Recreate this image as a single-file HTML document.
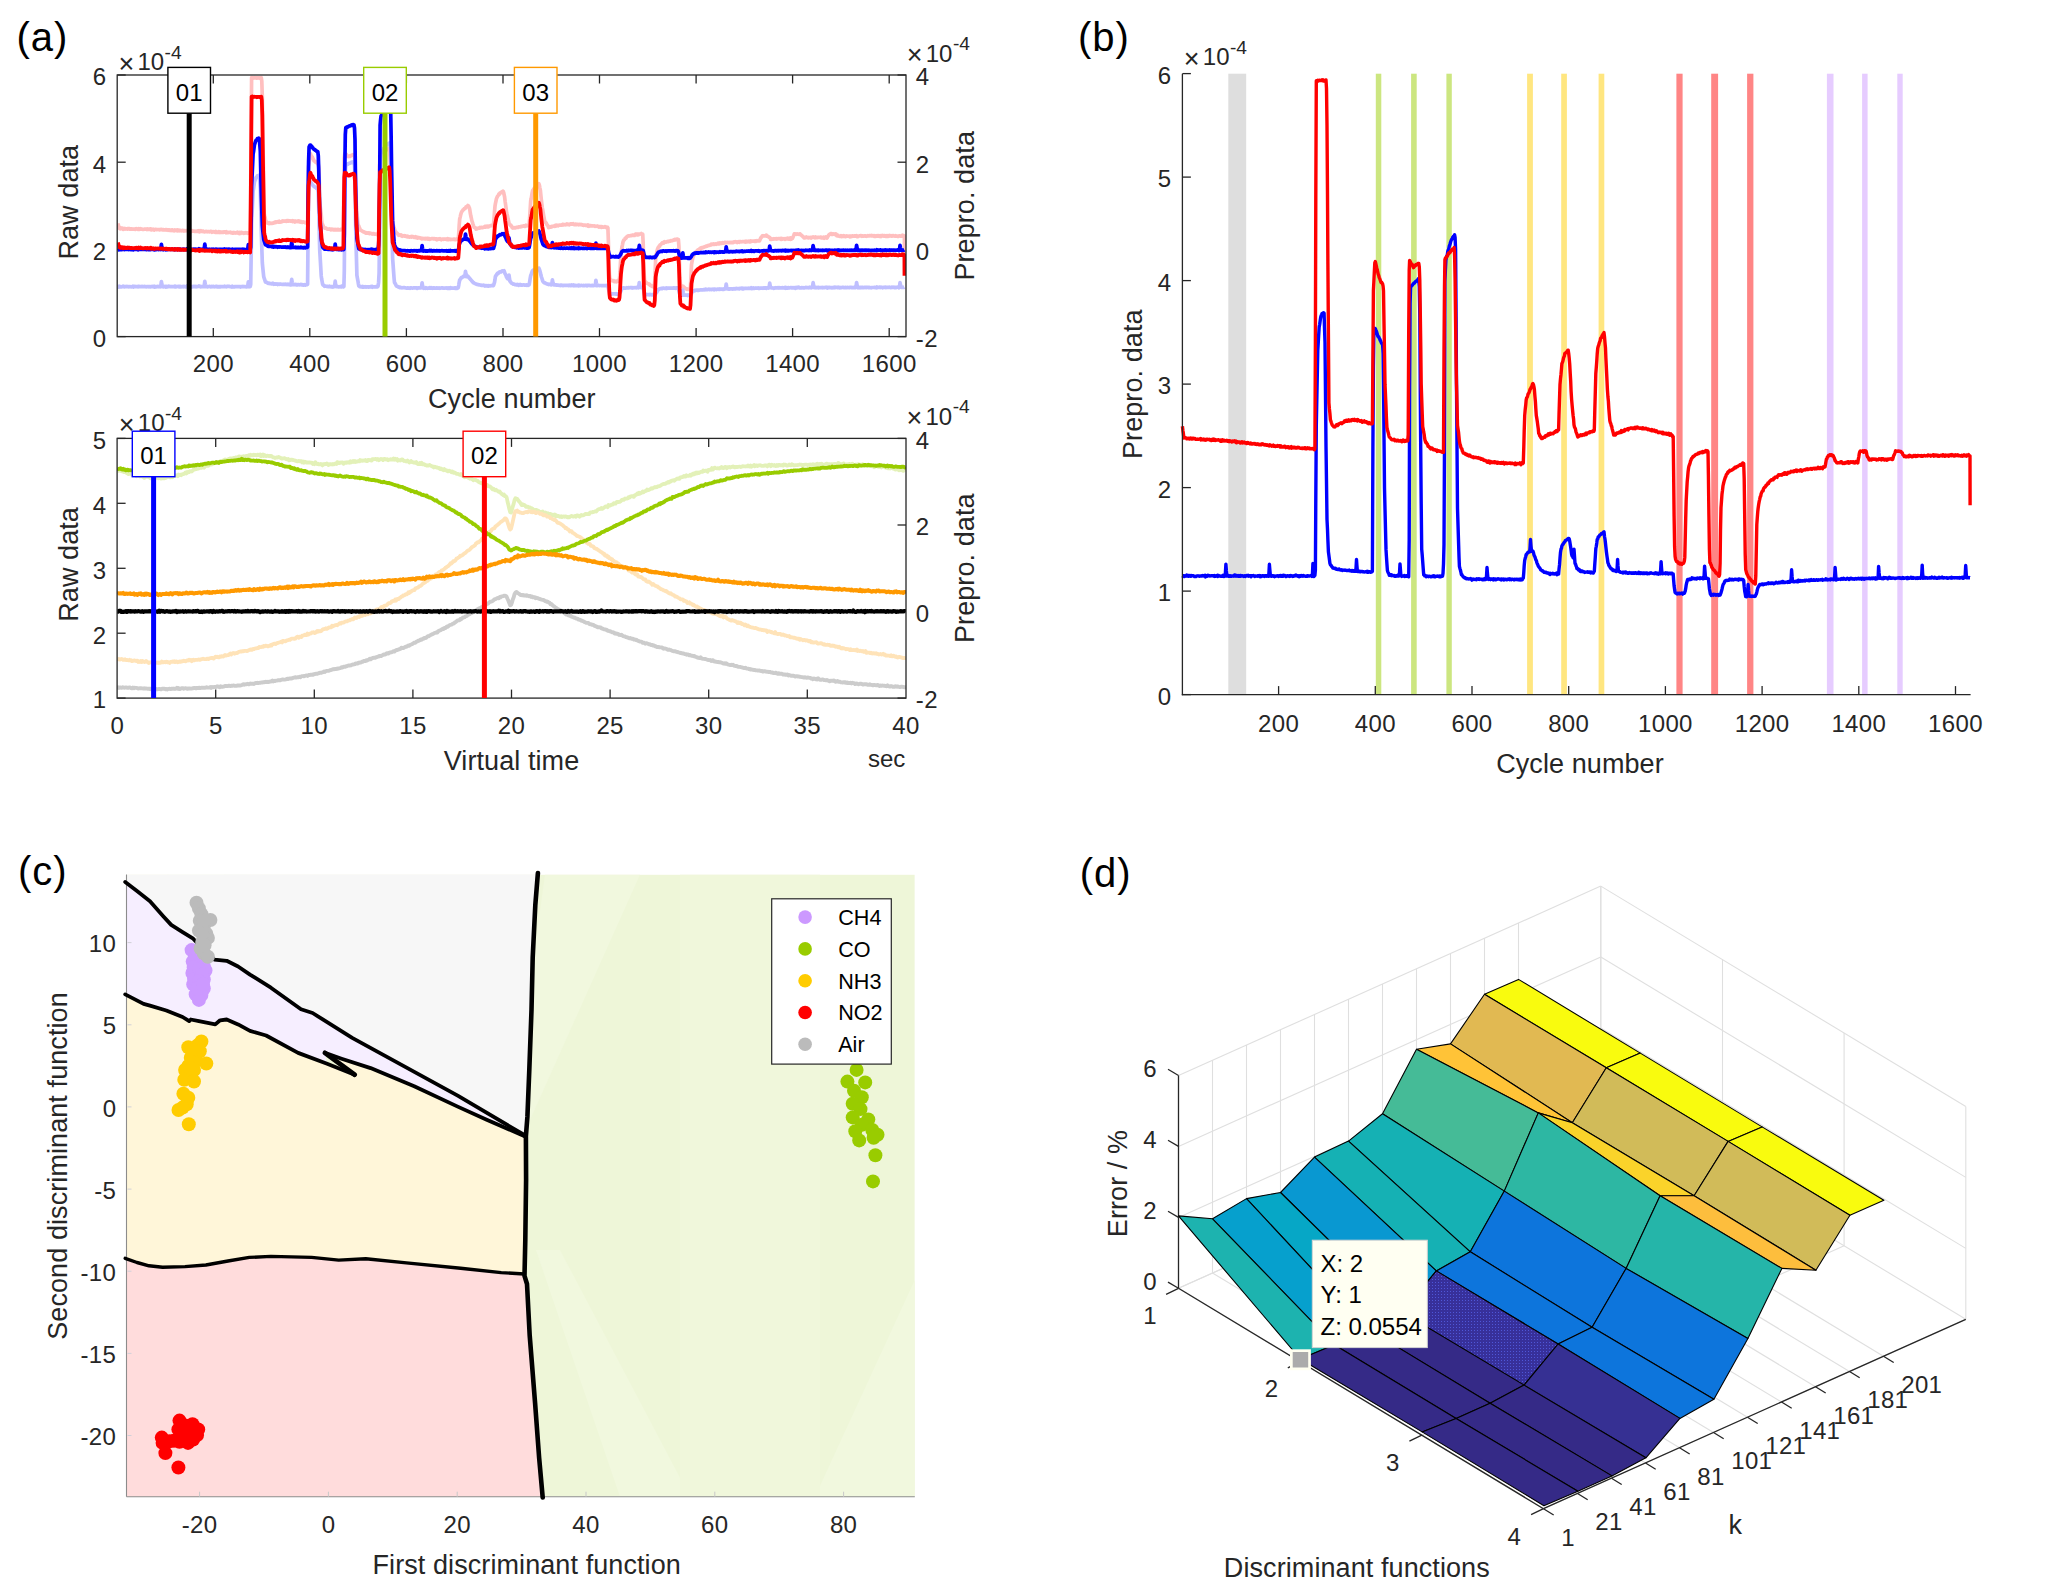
<!DOCTYPE html>
<html><head><meta charset="utf-8"><title>Figure</title>
<style>
html,body{margin:0;padding:0;background:#fff;}
svg{display:block;}
text{font-family:'Liberation Sans', sans-serif;}
</style></head><body>
<svg width="2067" height="1593" viewBox="0 0 2067 1593">
<rect width="2067" height="1593" fill="#ffffff"/>
<text x="16.5" y="51" font-size="40" text-anchor="start" fill="#000"  letter-spacing="1.0">(a)</text>
<line x1="213.3" y1="336.6" x2="213.3" y2="328.1" stroke="#262626" stroke-width="1.3" />
<line x1="213.3" y1="75" x2="213.3" y2="83.5" stroke="#262626" stroke-width="1.3" />
<line x1="309.8" y1="336.6" x2="309.8" y2="328.1" stroke="#262626" stroke-width="1.3" />
<line x1="309.8" y1="75" x2="309.8" y2="83.5" stroke="#262626" stroke-width="1.3" />
<line x1="406.4" y1="336.6" x2="406.4" y2="328.1" stroke="#262626" stroke-width="1.3" />
<line x1="406.4" y1="75" x2="406.4" y2="83.5" stroke="#262626" stroke-width="1.3" />
<line x1="503" y1="336.6" x2="503" y2="328.1" stroke="#262626" stroke-width="1.3" />
<line x1="503" y1="75" x2="503" y2="83.5" stroke="#262626" stroke-width="1.3" />
<line x1="599.5" y1="336.6" x2="599.5" y2="328.1" stroke="#262626" stroke-width="1.3" />
<line x1="599.5" y1="75" x2="599.5" y2="83.5" stroke="#262626" stroke-width="1.3" />
<line x1="696.1" y1="336.6" x2="696.1" y2="328.1" stroke="#262626" stroke-width="1.3" />
<line x1="696.1" y1="75" x2="696.1" y2="83.5" stroke="#262626" stroke-width="1.3" />
<line x1="792.6" y1="336.6" x2="792.6" y2="328.1" stroke="#262626" stroke-width="1.3" />
<line x1="792.6" y1="75" x2="792.6" y2="83.5" stroke="#262626" stroke-width="1.3" />
<line x1="889.2" y1="336.6" x2="889.2" y2="328.1" stroke="#262626" stroke-width="1.3" />
<line x1="889.2" y1="75" x2="889.2" y2="83.5" stroke="#262626" stroke-width="1.3" />
<line x1="117.2" y1="336.6" x2="125.7" y2="336.6" stroke="#262626" stroke-width="1.3" />
<line x1="906" y1="336.6" x2="897.5" y2="336.6" stroke="#262626" stroke-width="1.3" />
<line x1="117.2" y1="249.4" x2="125.7" y2="249.4" stroke="#262626" stroke-width="1.3" />
<line x1="906" y1="249.4" x2="897.5" y2="249.4" stroke="#262626" stroke-width="1.3" />
<line x1="117.2" y1="162.2" x2="125.7" y2="162.2" stroke="#262626" stroke-width="1.3" />
<line x1="906" y1="162.2" x2="897.5" y2="162.2" stroke="#262626" stroke-width="1.3" />
<line x1="117.2" y1="75" x2="125.7" y2="75" stroke="#262626" stroke-width="1.3" />
<line x1="906" y1="75" x2="897.5" y2="75" stroke="#262626" stroke-width="1.3" />
<clipPath id="clipA1"><rect x="117.2" y="75" width="788.8" height="261.6"/></clipPath>
<g clip-path="url(#clipA1)">
<polyline points="117.9,223.4 118.4,225.4 118.9,226.8 119.3,228.3 119.8,227.9 120.3,228.9 120.8,227.9 121.3,228.7 121.8,228.5 122.2,228.8 122.7,228.3 123.2,229.3 123.7,228.8 124.2,228.8 124.7,228.5 125.1,229 125.6,228.8 126.1,229 126.6,228.8 127.1,228.7 127.6,229.1 128,228.5 128.5,228.6 129,228.7 129.5,228.6 130,229.1 130.5,228.9 130.9,229.1 131.4,229 131.9,228.8 132.4,229.1 132.9,229.1 133.3,229.1 133.8,229.2 134.3,229.2 134.8,229 135.3,229.3 135.8,229 136.2,228.6 136.7,228.9 137.2,229.1 137.7,229.3 138.2,229.3 138.7,228.6 139.1,229.1 139.6,229.3 140.1,229.1 140.6,228.6 141.1,229.1 141.6,229 142,229.1 142.5,229.3 143,229.5 143.5,229.3 144,229.3 144.5,229.1 144.9,229 145.4,229 145.9,229.2 146.4,229.1 146.9,229.5 147.4,229 147.8,229.2 148.3,229.4 148.8,229.2 149.3,229.4 149.8,229.1 150.2,229 150.7,228.8 151.2,229.8 151.7,229.8 152.2,229.6 152.7,229.4 153.1,229.2 153.6,229.4 154.1,230 154.6,229.6 155.1,229.3 155.6,229.4 156,229.3 156.5,229.6 157,229.6 157.5,229.5 158,229.5 158.5,229.5 158.9,229.6 159.4,229.8 159.9,229.5 160.4,229.6 160.9,229.3 161.4,229.3 161.8,229.6 162.3,229.8 162.8,229.9 163.3,229.6 163.8,229.7 164.2,229.9 164.7,229.8 165.2,230 165.7,229.7 166.2,230 166.7,229.6 167.1,229.8 167.6,229.8 168.1,230.3 168.6,229.9 169.1,229.8 169.6,230.3 170,230.1 170.5,230.1 171,230.5 171.5,230 172,229.9 172.5,230.4 172.9,230.1 173.4,230.6 173.9,230.3 174.4,230.7 174.9,230 175.4,230.2 175.8,230.3 176.3,230.6 176.8,230 177.3,229.9 177.8,230.9 178.2,230.1 178.7,230 179.2,230.4 179.7,230.8 180.2,230.3 180.7,230.6 181.1,230.7 181.6,230.9 182.1,230.5 182.6,230.4 183.1,230.8 183.6,230.6 184,231 184.5,230.5 185,230.7 185.5,230.8 186,230.8 186.5,230.6 186.9,230.6 187.4,230.7 187.9,230.8 188.4,230.9 188.9,230.8 189.4,230.9 189.8,230.8 190.3,231.1 190.8,231.6 191.3,230.7 191.8,230.5 192.3,230.9 192.7,231.1 193.2,231.1 193.7,231.1 194.2,231.1 194.7,231.4 195.1,231.3 195.6,231.5 196.1,231.2 196.6,231.3 197.1,231.1 197.6,231.3 198,231 198.5,231.3 199,230.8 199.5,231.9 200,231.5 200.5,231.2 200.9,230.8 201.4,231.5 201.9,231.4 202.4,231.5 202.9,231.1 203.4,231.6 203.8,231.4 204.3,231.6 204.8,231.9 205.3,231.5 205.8,231.5 206.3,231.3 206.7,231.7 207.2,231.8 207.7,231.6 208.2,231.7 208.7,231.7 209.1,231.8 209.6,231.5 210.1,231.7 210.6,231.3 211.1,231.5 211.6,231.7 212,232.3 212.5,231.7 213,231.8 213.5,231.7 214,231.7 214.5,232.1 214.9,231.8 215.4,232.2 215.9,231.5 216.4,232.4 216.9,232.5 217.4,232.5 217.8,232.3 218.3,232.4 218.8,231.6 219.3,232.2 219.8,232.5 220.3,231.9 220.7,232.3 221.2,232.5 221.7,232 222.2,232.1 222.7,232.4 223.2,231.9 223.6,232.3 224.1,231.9 224.6,232.2 225.1,231.9 225.6,232.3 226,232.7 226.5,231.8 227,232.6 227.5,232.5 228,232.6 228.5,232.5 228.9,232.4 229.4,232.4 229.9,232.3 230.4,232.1 230.9,232.6 231.4,232.9 231.8,232.9 232.3,232.8 232.8,233.1 233.3,232.4 233.8,232.8 234.3,232.7 234.7,232.7 235.2,233.1 235.7,232.9 236.2,232.6 236.7,232.6 237.2,232.9 237.6,232.3 238.1,233.1 238.6,232.9 239.1,232.9 239.6,233.6 240,232.4 240.5,232.8 241,233.2 241.5,232.4 242,232.8 242.5,232.8 242.9,233.1 243.4,233 243.9,233.4 244.4,232.8 244.9,233.1 245.4,233 245.8,232.7 246.3,233 246.8,233 247.3,233 247.8,233.3 248.3,232.9 248.7,232.8 249.2,233 249.7,232.9 250.2,233.4 250.7,188.1 251.2,126.7 251.6,77.6 252.1,78 252.6,77.6 253.1,78.1 253.6,78 254,77.9 254.5,77.7 255,77.9 255.5,77.9 256,77.9 256.5,77.9 256.9,78.2 257.4,77.9 257.9,78 258.4,77.9 258.9,77.8 259.4,78.1 259.8,77.9 260.3,78 260.8,77.8 261.3,77.7 261.8,81.3 262.3,96.6 262.7,125.5 263.2,155.6 263.7,184.7 264.2,213.9 264.7,216 265.2,217.9 265.6,220.6 266.1,221.5 266.6,221.9 267.1,222.9 267.6,222.8 268.1,223.2 268.5,223 269,223.6 269.5,222.8 270,223.5 270.5,223.4 270.9,223.4 271.4,223.5 271.9,223.4 272.4,223.1 272.9,223.2 273.4,222.8 273.8,222.9 274.3,222.4 274.8,222.2 275.3,222.6 275.8,222 276.3,222.3 276.7,221.8 277.2,221.9 277.7,221.7 278.2,222.1 278.7,221.8 279.2,221.3 279.6,221.8 280.1,222.1 280.6,222 281.1,222 281.6,221.8 282.1,221.4 282.5,220.9 283,221.3 283.5,221.1 284,221.2 284.5,221.1 284.9,221.1 285.4,221.1 285.9,220.9 286.4,221.3 286.9,220.7 287.4,220.7 287.8,221 288.3,220.7 288.8,221.1 289.3,221 289.8,220.8 290.3,221 290.7,221.1 291.2,221.2 291.7,221.2 292.2,220.8 292.7,221.6 293.2,221 293.6,221.2 294.1,221 294.6,221.1 295.1,222 295.6,221.1 296.1,221.2 296.5,221.4 297,221.5 297.5,221.2 298,221.6 298.5,221 299,221.4 299.4,221.1 299.9,221.9 300.4,222.2 300.9,221.6 301.4,221.6 301.8,221.9 302.3,222.4 302.8,222.1 303.3,221.9 303.8,222.2 304.3,222.2 304.7,222.3 305.2,222.6 305.7,222.5 306.2,222.8 306.7,222 307.2,222.6 307.6,222.4 308.1,194.8 308.6,166.4 309.1,163.1 309.6,158.5 310.1,154.8 310.5,153.7 311,155.5 311.5,156.1 312,156.9 312.5,157.4 313,158.6 313.4,159.3 313.9,160.7 314.4,161.1 314.9,161.3 315.4,161.6 315.8,162.4 316.3,162.3 316.8,162.6 317.3,163.3 317.8,164.1 318.3,164.8 318.7,166.8 319.2,179.3 319.7,192.6 320.2,206.3 320.7,210.4 321.2,214.5 321.6,219.6 322.1,224.3 322.6,224.4 323.1,225.8 323.6,226.9 324.1,227.5 324.5,227.8 325,228.2 325.5,228 326,228.2 326.5,228.5 327,229 327.4,228.9 327.9,229.2 328.4,229.1 328.9,229 329.4,229.1 329.8,228.9 330.3,229.3 330.8,229.9 331.3,229.8 331.8,229.2 332.3,229.7 332.7,229.5 333.2,229.9 333.7,229.4 334.2,229.8 334.7,229.4 335.2,229.9 335.6,229.5 336.1,229.6 336.6,229.9 337.1,229.4 337.6,229.9 338.1,229.9 338.5,229.5 339,229.8 339.5,229.8 340,229.7 340.5,229.9 341,229.3 341.4,229.4 341.9,229.6 342.4,229.6 342.9,229.4 343.4,227.1 343.9,183.8 344.3,158.1 344.8,153.6 345.3,154.2 345.8,154.5 346.3,154.3 346.7,155.3 347.2,155.7 347.7,156.4 348.2,156.6 348.7,156.4 349.2,156.5 349.6,156 350.1,156.3 350.6,156 351.1,155.5 351.6,155.1 352.1,155.2 352.5,155 353,154.7 353.5,154.7 354,155.1 354.5,156.5 355,162 355.4,176.8 355.9,191.1 356.4,206.2 356.9,212.2 357.4,218.1 357.9,224.1 358.3,225 358.8,226 359.3,227.7 359.8,228.5 360.3,230 360.7,230.2 361.2,230.5 361.7,230.7 362.2,231.2 362.7,231.3 363.2,231.8 363.6,231.8 364.1,231.8 364.6,232.4 365.1,232.5 365.6,233 366.1,232.6 366.5,233 367,233.1 367.5,232.9 368,233.1 368.5,232.9 369,232.9 369.4,233.6 369.9,233.5 370.4,233.1 370.9,233.5 371.4,233.6 371.9,233.5 372.3,234 372.8,233.7 373.3,233.6 373.8,233.5 374.3,234.2 374.7,234.1 375.2,234 375.7,234.2 376.2,234.3 376.7,234.1 377.2,234.4 377.6,234.8 378.1,234.2 378.6,234.4 379.1,192.2 379.6,165.5 380.1,153.2 380.5,153.7 381,153.2 381.5,152.5 382,151.7 382.5,151.3 383,151.6 383.4,151.1 383.9,151.2 384.4,150.3 384.9,150.7 385.4,150.1 385.9,149.5 386.3,149.6 386.8,149 387.3,149.5 387.8,149 388.3,148.8 388.8,148.9 389.2,148.3 389.7,151.6 390.2,162.6 390.7,178.6 391.2,196.9 391.6,205.8 392.1,214.9 392.6,223.2 393.1,224.9 393.6,226.2 394.1,227.9 394.5,229 395,231.1 395.5,231.5 396,232.1 396.5,232.8 397,233.3 397.4,233.5 397.9,234.2 398.4,235.1 398.9,235.3 399.4,235.1 399.9,234.9 400.3,235.3 400.8,234.9 401.3,235.7 401.8,235.5 402.3,236.3 402.8,235.9 403.2,235.9 403.7,235.8 404.2,235.6 404.7,236.1 405.2,235.8 405.6,236.1 406.1,236.1 406.6,236.6 407.1,236.2 407.6,236.8 408.1,236.5 408.5,236.9 409,236.8 409.5,237.1 410,236.8 410.5,236.6 411,236.8 411.4,237.1 411.9,236.4 412.4,236.7 412.9,236.6 413.4,236.7 413.9,237.1 414.3,237.4 414.8,237.3 415.3,236.8 415.8,237.5 416.3,237.1 416.8,237.6 417.2,237.4 417.7,238.1 418.2,237.4 418.7,237.8 419.2,237.7 419.6,238 420.1,237.9 420.6,238.2 421.1,238.1 421.6,238.8 422.1,238.8 422.5,238.3 423,238.5 423.5,238.6 424,238.6 424.5,238.5 425,238.8 425.4,238.5 425.9,238.9 426.4,238.8 426.9,238.4 427.4,238.4 427.9,239 428.3,238.5 428.8,239 429.3,238.6 429.8,239.3 430.3,239.1 430.8,238.9 431.2,238.9 431.7,238.5 432.2,238.6 432.7,238.5 433.2,238.6 433.7,239 434.1,239 434.6,238.7 435.1,238.9 435.6,239 436.1,239.3 436.5,239 437,239.7 437.5,239.2 438,239.3 438.5,238.9 439,239.2 439.4,239.2 439.9,238.8 440.4,239.4 440.9,239.1 441.4,239.7 441.9,239.1 442.3,239.1 442.8,239 443.3,239.4 443.8,239.1 444.3,239.1 444.8,239.2 445.2,239.2 445.7,239.1 446.2,239.1 446.7,239.5 447.2,239.6 447.7,238.6 448.1,238.8 448.6,239.6 449.1,239.2 449.6,239.1 450.1,239.1 450.5,239.3 451,239.6 451.5,239.4 452,239.5 452.5,239.3 453,239.4 453.4,239.4 453.9,239.1 454.4,239 454.9,239.7 455.4,239.5 455.9,239.6 456.3,239.1 456.8,239.4 457.3,239 457.8,239.3 458.3,238.9 458.8,232.6 459.2,225.2 459.7,219 460.2,217.1 460.7,214.7 461.2,212.9 461.7,211.8 462.1,211.2 462.6,210.6 463.1,209.8 463.6,209.7 464.1,208.9 464.6,208.6 465,208.2 465.5,208.2 466,206.9 466.5,206.9 467,206.3 467.4,206.3 467.9,205.5 468.4,205.9 468.9,206.9 469.4,208 469.9,210.4 470.3,213.2 470.8,216 471.3,218 471.8,220.5 472.3,221.9 472.8,223.6 473.2,224.7 473.7,226.5 474.2,227.5 474.7,227.6 475.2,227.7 475.7,227.9 476.1,229.1 476.6,228.8 477.1,228.5 477.6,228.6 478.1,228.2 478.6,228.2 479,228 479.5,228.2 480,227.5 480.5,227.8 481,227.4 481.4,227.7 481.9,227.4 482.4,227.6 482.9,227.6 483.4,227.4 483.9,227.1 484.3,227.1 484.8,226.5 485.3,227.1 485.8,227 486.3,226.2 486.8,226.3 487.2,226.9 487.7,226.2 488.2,226.2 488.7,226.7 489.2,226.2 489.7,226 490.1,225.7 490.6,225.6 491.1,225.7 491.6,225.4 492.1,225.6 492.6,225.7 493,225.7 493.5,224.8 494,219.1 494.5,212 495,206.1 495.4,203.7 495.9,201.3 496.4,198.9 496.9,197.6 497.4,196.6 497.9,195.8 498.3,195.3 498.8,194.2 499.3,194.4 499.8,193.1 500.3,192.8 500.8,192.7 501.2,192.2 501.7,192.5 502.2,191.7 502.7,191.9 503.2,191.3 503.7,192.6 504.1,194.6 504.6,196.9 505.1,201.3 505.6,204.8 506.1,208.5 506.6,212.4 507,214.7 507.5,216.2 508,218.8 508.5,220.7 509,223.4 509.5,224.1 509.9,224.5 510.4,225.3 510.9,225.1 511.4,226.3 511.9,226.7 512.3,227.7 512.8,228.1 513.3,227.9 513.8,227.8 514.3,227.6 514.8,227.8 515.2,227.8 515.7,227.9 516.2,227.5 516.7,227.3 517.2,227.2 517.7,227.3 518.1,227.3 518.6,227 519.1,226.8 519.6,226.9 520.1,226.8 520.6,226.8 521,226.4 521.5,226.7 522,226.4 522.5,226.3 523,226.1 523.5,225.8 523.9,226 524.4,225.9 524.9,226.4 525.4,225.8 525.9,225.3 526.3,226 526.8,226 527.3,225.7 527.8,225.3 528.3,225.4 528.8,225.5 529.2,225 529.7,216.9 530.2,209.1 530.7,200.8 531.2,198.5 531.7,195.9 532.1,193.1 532.6,190.6 533.1,190.1 533.6,189.2 534.1,188.4 534.6,188.3 535,187.4 535.5,186.7 536,186.2 536.5,186 537,185.4 537.5,185.2 537.9,184.5 538.4,184.9 538.9,183.7 539.4,185.3 539.9,188.1 540.4,190.4 540.8,194.7 541.3,199.5 541.8,203.6 542.3,207.8 542.8,210.5 543.2,212.9 543.7,215.8 544.2,218.4 544.7,221.3 545.2,221.9 545.7,222.6 546.1,222.8 546.6,223.9 547.1,225 547.6,225.3 548.1,226.2 548.6,227.7 549,227 549.5,227.4 550,226.8 550.5,227.1 551,227.1 551.5,226.5 551.9,226.9 552.4,226.5 552.9,226.3 553.4,226.1 553.9,226 554.4,226.1 554.8,226.3 555.3,225.5 555.8,226 556.3,225.3 556.8,225.8 557.2,225.3 557.7,225.3 558.2,225.8 558.7,225.3 559.2,225.1 559.7,225.1 560.1,225.2 560.6,225 561.1,225.1 561.6,225.2 562.1,224.6 562.6,224.9 563,224.4 563.5,224.5 564,224.9 564.5,224.7 565,224.7 565.5,224.8 565.9,224.4 566.4,224.6 566.9,224 567.4,224.2 567.9,224.6 568.4,224.3 568.8,224.4 569.3,224.7 569.8,224 570.3,224 570.8,223.9 571.2,224.2 571.7,223.8 572.2,224.2 572.7,223.9 573.2,223.7 573.7,224.2 574.1,224.7 574.6,224.4 575.1,224.2 575.6,224.1 576.1,224.7 576.6,224.5 577,224.4 577.5,224.4 578,224.3 578.5,224.8 579,224.7 579.5,224.4 579.9,224.5 580.4,224.6 580.9,224.4 581.4,224.7 581.9,224.6 582.4,224.9 582.8,225.2 583.3,225.3 583.8,225 584.3,225.1 584.8,225.2 585.3,225 585.7,225.4 586.2,225.2 586.7,225.3 587.2,225.5 587.7,226 588.1,225 588.6,225.4 589.1,226.2 589.6,225.7 590.1,225.5 590.6,225.7 591,225.6 591.5,226 592,225.8 592.5,225.9 593,226 593.5,226 593.9,226 594.4,225.8 594.9,226.3 595.4,226.3 595.9,226.2 596.4,226.3 596.8,226.2 597.3,226.2 597.8,226.1 598.3,226.5 598.8,227.1 599.3,226.6 599.7,226.5 600.2,226.7 600.7,226.7 601.2,227.3 601.7,226.6 602.1,226.9 602.6,227.2 603.1,227.1 603.6,227.1 604.1,226.8 604.6,226.9 605,226.6 605.5,226.9 606,227.5 606.5,227.5 607,227.1 607.5,227.3 607.9,228 608.4,242.1 608.9,261.7 609.4,274.8 609.9,279.1 610.4,279.4 610.8,280 611.3,280.4 611.8,280.7 612.3,280.6 612.8,280.5 613.3,281.1 613.7,280.8 614.2,281.6 614.7,281.6 615.2,281.4 615.7,281.6 616.1,281.2 616.6,281.7 617.1,281.2 617.6,281.3 618.1,280.5 618.6,281.1 619,280.7 619.5,278.7 620,272 620.5,262.2 621,254.7 621.5,250.4 621.9,247.2 622.4,245.1 622.9,242.4 623.4,240.9 623.9,240 624.4,239.8 624.8,239.1 625.3,238.1 625.8,238.3 626.3,237.6 626.8,236.9 627.3,236.4 627.7,236.4 628.2,235.8 628.7,236 629.2,236 629.7,235.9 630.2,235.7 630.6,235.7 631.1,235.6 631.6,235.6 632.1,235.2 632.6,235.2 633,235.4 633.5,235 634,235 634.5,235.3 635,234.6 635.5,234.2 635.9,234 636.4,234.1 636.9,234.7 637.4,234.1 637.9,234.1 638.4,234.8 638.8,234 639.3,234 639.8,234.1 640.3,234 640.8,234 641.3,233.5 641.7,234 642.2,234.1 642.7,234.1 643.2,243.9 643.7,261.4 644.2,275 644.6,280.8 645.1,281.3 645.6,281.9 646.1,282.5 646.6,283.1 647,283.2 647.5,283.5 648,283.5 648.5,284 649,284.4 649.5,284.1 649.9,285.2 650.4,285.5 650.9,285.3 651.4,285.7 651.9,286.3 652.4,286.1 652.8,286.5 653.3,286.2 653.8,286.9 654.3,286.1 654.8,281.3 655.3,267.6 655.7,258 656.2,254.5 656.7,252.6 657.2,250.2 657.7,248.6 658.2,247.4 658.6,247.3 659.1,246.1 659.6,246.4 660.1,244.8 660.6,244.5 661,244.2 661.5,243.8 662,243.4 662.5,242.7 663,242.8 663.5,243.1 663.9,242.5 664.4,241.8 664.9,242.2 665.4,242.1 665.9,242.1 666.4,241.8 666.8,241.7 667.3,241.7 667.8,241.3 668.3,241.6 668.8,241.3 669.3,241 669.7,241.1 670.2,241.2 670.7,240.7 671.2,240.9 671.7,240.7 672.2,240.7 672.6,240.4 673.1,240.3 673.6,240.2 674.1,239.8 674.6,239.4 675.1,239.9 675.5,239.5 676,239.6 676.5,239.4 677,239 677.5,239.2 677.9,239.4 678.4,239.5 678.9,245.8 679.4,261.4 679.9,277.5 680.4,284.6 680.8,285.1 681.3,285.6 681.8,286.4 682.3,286.1 682.8,286.7 683.3,286.5 683.7,287.7 684.2,287.2 684.7,288 685.2,288.2 685.7,288.6 686.2,288.9 686.6,289.1 687.1,288.9 687.6,289.5 688.1,289.4 688.6,289.5 689.1,289.4 689.5,289.8 690,289.9 690.5,286.3 691,275.6 691.5,264.8 691.9,262.4 692.4,259.6 692.9,257.2 693.4,256 693.9,255.2 694.4,253.9 694.8,253.5 695.3,252.9 695.8,252.4 696.3,251.4 696.8,251.4 697.3,250.8 697.7,250.1 698.2,249.8 698.7,249.6 699.2,249.4 699.7,248.8 700.2,248.3 700.6,248.8 701.1,248.2 701.6,247.6 702.1,247.6 702.6,247.9 703.1,247.5 703.5,247.3 704,247.2 704.5,246.9 705,246.5 705.5,246.6 706,246.1 706.4,246.2 706.9,246.2 707.4,245.7 707.9,245.7 708.4,245.6 708.8,245.3 709.3,245.2 709.8,245.3 710.3,244.9 710.8,244.9 711.3,244.1 711.7,244.4 712.2,244.3 712.7,244.1 713.2,244.3 713.7,243.8 714.2,244.1 714.6,244.3 715.1,244.1 715.6,243.8 716.1,244.3 716.6,243.8 717.1,243.9 717.5,243.5 718,243.8 718.5,243.1 719,243.3 719.5,243.8 720,242.9 720.4,243.4 720.9,243.5 721.4,243.5 721.9,243 722.4,242.7 722.8,243.2 723.3,243.2 723.8,243.2 724.3,242.5 724.8,242.4 725.3,242.9 725.7,242.6 726.2,242.7 726.7,242.7 727.2,242.4 727.7,242.5 728.2,242.5 728.6,242.6 729.1,242.3 729.6,242.6 730.1,242.5 730.6,242.4 731.1,242.7 731.5,242.4 732,242.4 732.5,242.3 733,242.6 733.5,242.5 734,241.8 734.4,241.9 734.9,241.9 735.4,241.6 735.9,242 736.4,242.1 736.8,241.9 737.3,242.5 737.8,242.2 738.3,241.7 738.8,241.9 739.3,242.2 739.7,241.6 740.2,241.5 740.7,241.6 741.2,241.7 741.7,241.9 742.2,241.7 742.6,241.6 743.1,241.7 743.6,241.5 744.1,241.5 744.6,241.5 745.1,242.1 745.5,241.3 746,241.1 746.5,241.6 747,241.9 747.5,241.3 748,241.6 748.4,241.7 748.9,241.1 749.4,241.7 749.9,241.2 750.4,241.7 750.9,240.9 751.3,241.1 751.8,241.3 752.3,241.2 752.8,241.1 753.3,241 753.7,241 754.2,241 754.7,241.3 755.2,240.9 755.7,241.4 756.2,240.8 756.6,240.7 757.1,240.6 757.6,241 758.1,240.8 758.6,240.6 759.1,240.6 759.5,240.8 760,239.6 760.5,238.6 761,237.4 761.5,237.2 762,236.4 762.4,235.8 762.9,235.7 763.4,235.9 763.9,235.9 764.4,235.9 764.9,235.9 765.3,235.9 765.8,236 766.3,235.1 766.8,236.1 767.3,236.2 767.7,236.1 768.2,236.7 768.7,237 769.2,237.3 769.7,237.5 770.2,238.2 770.6,239.3 771.1,238.8 771.6,239.3 772.1,239.1 772.6,239.2 773.1,238.8 773.5,239.1 774,238.7 774.5,238.8 775,239 775.5,238.9 776,238.6 776.4,239 776.9,238.6 777.4,238.9 777.9,238.8 778.4,238.7 778.9,238.5 779.3,238.7 779.8,238.8 780.3,238.7 780.8,239.2 781.3,238.4 781.8,239.2 782.2,238.6 782.7,239 783.2,238.7 783.7,238.8 784.2,238.7 784.6,239 785.1,239.4 785.6,238.7 786.1,238.9 786.6,238.9 787.1,239 787.5,238.2 788,238.9 788.5,238.7 789,239.1 789.5,238.3 790,238.9 790.4,239.4 790.9,238 791.4,239 791.9,238.4 792.4,238.5 792.9,237.3 793.3,236.4 793.8,235.2 794.3,233.8 794.8,234.2 795.3,234.1 795.8,233.9 796.2,234.1 796.7,234.3 797.2,233.8 797.7,234.1 798.2,234.2 798.6,234.3 799.1,234.4 799.6,233.9 800.1,233.9 800.6,234.7 801.1,235 801.5,235.3 802,235.7 802.5,236.1 803,236.7 803.5,236.9 804,237.8 804.4,237.4 804.9,237.9 805.4,237.8 805.9,237.5 806.4,237 806.9,237.4 807.3,237.5 807.8,237.6 808.3,237.9 808.8,237.4 809.3,237.7 809.8,237.5 810.2,237.8 810.7,237.5 811.2,238 811.7,237.4 812.2,237.2 812.6,237.3 813.1,237 813.6,237.5 814.1,237.4 814.6,237.4 815.1,237.8 815.5,237 816,237.3 816.5,237.6 817,237.7 817.5,237.3 818,237.3 818.4,237.5 818.9,237.4 819.4,237.5 819.9,237.5 820.4,237.1 820.9,237.1 821.3,237.9 821.8,237.4 822.3,237.8 822.8,237.8 823.3,237.3 823.8,237.7 824.2,238.3 824.7,237.3 825.2,237.1 825.7,236.9 826.2,237.5 826.7,237 827.1,238.1 827.6,237 828.1,236 828.6,235.3 829.1,234.7 829.5,234.3 830,234.2 830.5,233.7 831,234 831.5,233.7 832,234.4 832.4,234.1 832.9,234.3 833.4,233.9 833.9,234.2 834.4,234.2 834.9,234.5 835.3,234.1 835.8,233.8 836.3,234.3 836.8,235.8 837.3,235.9 837.8,235.1 838.2,235.9 838.7,236.1 839.2,236 839.7,236.3 840.2,236.5 840.7,236.4 841.1,235.8 841.6,236.6 842.1,235.9 842.6,236.3 843.1,236.3 843.5,235.8 844,236.4 844.5,236 845,236.3 845.5,236.6 846,236.3 846.4,235.9 846.9,236.2 847.4,236 847.9,236.1 848.4,236.2 848.9,236.3 849.3,236.1 849.8,236.7 850.3,236.3 850.8,236.6 851.3,236.1 851.8,236 852.2,236.3 852.7,235.9 853.2,236 853.7,236 854.2,236.2 854.7,235.9 855.1,235.8 855.6,236.2 856.1,236.3 856.6,235.7 857.1,236.6 857.5,236.7 858,236.5 858.5,236 859,236 859.5,235.9 860,236 860.4,235.6 860.9,235.6 861.4,235.7 861.9,236.2 862.4,235.8 862.9,236.2 863.3,236.1 863.8,236.2 864.3,235.9 864.8,235.8 865.3,235.9 865.8,236.2 866.2,236.3 866.7,236.1 867.2,236.1 867.7,235.7 868.2,236 868.7,235.9 869.1,235.9 869.6,235.6 870.1,235.5 870.6,235.8 871.1,235.9 871.6,235.5 872,235.8 872.5,236 873,235.6 873.5,235.8 874,236.3 874.4,235.7 874.9,235.8 875.4,236.4 875.9,236.4 876.4,235.8 876.9,235.7 877.3,235.7 877.8,236.2 878.3,236 878.8,235.7 879.3,236.3 879.8,235.9 880.2,235.8 880.7,235.6 881.2,236.5 881.7,235.8 882.2,235.4 882.7,236 883.1,236 883.6,235.6 884.1,236.1 884.6,235.6 885.1,235.7 885.6,236.3 886,235.9 886.5,236.3 887,235.6 887.5,236.3 888,236.4 888.4,236.2 888.9,236.1 889.4,235.5 889.9,235.9 890.4,235.8 890.9,235.6 891.3,236.1 891.8,236 892.3,236.1 892.8,235.7 893.3,235.5 893.8,235.8 894.2,236 894.7,236 895.2,236.2 895.7,235.7 896.2,236.2 896.7,236 897.1,236.2 897.6,236.4 898.1,236.5 898.6,236.1 899.1,235.8 899.6,236 900,235.9 900.5,236.2 901,236.1 901.5,236.2 902,235.8 902.4,235.3 902.9,235.9 903.4,236.2 903.9,235.6 904.4,236.1 904.5,256.8" fill="none" stroke="#ffbfbf" stroke-width="3.7" stroke-linejoin="round" />
<polyline points="117.9,286.7 118.4,286.6 118.9,287 119.3,286.3 119.8,286.9 120.3,286.7 120.8,286.5 121.3,286.8 121.8,286.8 122.2,286.7 122.7,286.5 123.2,286.2 123.7,286.6 124.2,286.8 124.7,286.5 125.1,286.7 125.6,286.6 126.1,286.4 126.6,286.7 127.1,286.6 127.6,286.7 128,286.6 128.5,286.5 129,286.8 129.5,286.6 130,286.6 130.5,286.7 130.9,286.8 131.4,286.8 131.9,286.6 132.4,286.6 132.9,286.2 133.3,287 133.8,286.6 134.3,286.5 134.8,286.4 135.3,286.5 135.8,286.7 136.2,286.6 136.7,286.5 137.2,286.6 137.7,286.5 138.2,286.9 138.7,286.3 139.1,286.3 139.6,286.6 140.1,286.5 140.6,286.6 141.1,286.7 141.6,286.6 142,286.4 142.5,286.7 143,286.7 143.5,286.6 144,286.5 144.5,286.4 144.9,286.7 145.4,286.5 145.9,286.6 146.4,286.9 146.9,286.7 147.4,286.6 147.8,286.6 148.3,286.5 148.8,286.9 149.3,286.6 149.8,286.7 150.2,286.8 150.7,286.5 151.2,286.5 151.7,286.7 152.2,286.4 152.7,286.7 153.1,286.6 153.6,286.8 154.1,286.3 154.6,287.1 155.1,286.6 155.6,286.5 156,286.9 156.5,286.6 157,286.6 157.5,286.4 158,286.4 158.5,286.7 158.9,286.8 159.4,286.4 159.9,286.4 160.4,286.7 160.9,285.3 161.4,281.5 161.8,284.2 162.3,286.6 162.8,286.3 163.3,286.9 163.8,286.4 164.2,286.5 164.7,286.6 165.2,286.4 165.7,287 166.2,286.4 166.7,286.5 167.1,286.8 167.6,286.5 168.1,286.6 168.6,286.1 169.1,286.3 169.6,286.5 170,286.7 170.5,286.7 171,286.6 171.5,286.7 172,286.7 172.5,286.7 172.9,286.6 173.4,286.7 173.9,286.7 174.4,286.8 174.9,286.1 175.4,286.8 175.8,286.8 176.3,286.5 176.8,286.6 177.3,286.5 177.8,286.5 178.2,286.4 178.7,286.5 179.2,286.8 179.7,286.4 180.2,286.9 180.7,286.6 181.1,286.7 181.6,286.8 182.1,286.5 182.6,286.6 183.1,286.4 183.6,286.8 184,286.4 184.5,286.5 185,286.6 185.5,286.8 186,286.6 186.5,286.9 186.9,287 187.4,286 187.9,286.4 188.4,286.3 188.9,286.7 189.4,286.5 189.8,286.5 190.3,286.5 190.8,286.6 191.3,286.6 191.8,287 192.3,286.5 192.7,286.5 193.2,286.4 193.7,286.6 194.2,286.3 194.7,286.7 195.1,286.8 195.6,286.4 196.1,286.7 196.6,286.8 197.1,286.6 197.6,286.5 198,286.5 198.5,286.5 199,285.9 199.5,286.4 200,286.3 200.5,286.9 200.9,286.5 201.4,286.5 201.9,286.7 202.4,286.7 202.9,286.5 203.4,286.6 203.8,286.7 204.3,285.1 204.8,281.3 205.3,284.3 205.8,286.7 206.3,286.5 206.7,286.4 207.2,286.5 207.7,286.8 208.2,286.6 208.7,286.5 209.1,286.5 209.6,286.4 210.1,286.5 210.6,286.8 211.1,286.7 211.6,286.8 212,286.3 212.5,286.6 213,286.5 213.5,286.4 214,286.6 214.5,286.8 214.9,286.7 215.4,286.6 215.9,286.3 216.4,286.4 216.9,286.8 217.4,286.5 217.8,286.5 218.3,286.8 218.8,286.6 219.3,286.9 219.8,286.5 220.3,286.6 220.7,286.8 221.2,286.7 221.7,286.5 222.2,286.7 222.7,286.5 223.2,286.5 223.6,286.7 224.1,286.6 224.6,286.2 225.1,286.6 225.6,286.7 226,286.6 226.5,286.8 227,286.4 227.5,286.5 228,286.4 228.5,286.4 228.9,286.5 229.4,286.4 229.9,286.6 230.4,286.7 230.9,286.8 231.4,286.7 231.8,287 232.3,286.3 232.8,286.9 233.3,286.6 233.8,286.8 234.3,286.9 234.7,286.6 235.2,286.6 235.7,286.6 236.2,286.5 236.7,286.7 237.2,286.5 237.6,286.5 238.1,286.6 238.6,286.6 239.1,286.5 239.6,286.6 240,286.6 240.5,287 241,286.6 241.5,286.5 242,286.6 242.5,286.5 242.9,286.3 243.4,286.6 243.9,286.5 244.4,286.7 244.9,286.7 245.4,286.7 245.8,286.8 246.3,286.6 246.8,286.8 247.3,286.6 247.8,285.6 248.3,281.9 248.7,284.5 249.2,286.8 249.7,286.7 250.2,286.7 250.7,284.3 251.2,253.6 251.6,223 252.1,212.5 252.6,202.1 253.1,191.2 253.6,188.5 254,185.4 254.5,181.8 255,180.4 255.5,178.9 256,177.5 256.5,177.3 256.9,176.7 257.4,175.8 257.9,175.7 258.4,176 258.9,175.5 259.4,176 259.8,182.2 260.3,188.3 260.8,210.4 261.3,232 261.8,247.3 262.3,262.5 262.7,267 263.2,271.7 263.7,276.6 264.2,278.2 264.7,279.7 265.2,281.3 265.6,282.1 266.1,282.1 266.6,282.3 267.1,282.8 267.6,282.8 268.1,283.5 268.5,283.5 269,283.2 269.5,283.5 270,283.6 270.5,283.6 270.9,283.7 271.4,283.6 271.9,284 272.4,283.8 272.9,283.3 273.4,283.9 273.8,284.3 274.3,283.9 274.8,283.9 275.3,283.8 275.8,284.1 276.3,284.2 276.7,283.9 277.2,284 277.7,284.5 278.2,284 278.7,284.2 279.2,284 279.6,284.3 280.1,284.1 280.6,284.2 281.1,284.2 281.6,284.3 282.1,284.4 282.5,284.3 283,284.3 283.5,284.3 284,284.1 284.5,284.3 284.9,284.3 285.4,284.1 285.9,284.5 286.4,284.4 286.9,284.6 287.4,284.5 287.8,284.2 288.3,284.5 288.8,284.3 289.3,284.7 289.8,284.8 290.3,284.5 290.7,284.8 291.2,282.9 291.7,279.4 292.2,282.6 292.7,284.7 293.2,284.7 293.6,284.6 294.1,284.7 294.6,284.5 295.1,284.4 295.6,284.7 296.1,284.9 296.5,284.6 297,284.8 297.5,284.5 298,284.8 298.5,284.6 299,284.7 299.4,284.8 299.9,284.9 300.4,284.7 300.9,284.4 301.4,284.7 301.8,284.9 302.3,284.7 302.8,284.8 303.3,285.1 303.8,284.8 304.3,284.6 304.7,285 305.2,285.1 305.7,284.8 306.2,284.6 306.7,284.7 307.2,284.6 307.6,284.3 308.1,231.8 308.6,198.4 309.1,184 309.6,183.1 310.1,182.2 310.5,182.2 311,183.1 311.5,183.3 312,184.1 312.5,184.8 313,185.2 313.4,186.1 313.9,186.3 314.4,186.7 314.9,186.8 315.4,187.5 315.8,187.5 316.3,188.3 316.8,188.5 317.3,189 317.8,188.9 318.3,193.1 318.7,205.7 319.2,227.7 319.7,249.6 320.2,258.2 320.7,266.6 321.2,275.7 321.6,278.7 322.1,281.4 322.6,284.1 323.1,285 323.6,285.4 324.1,285.7 324.5,286.3 325,286.2 325.5,286.1 326,286.3 326.5,286.4 327,286.3 327.4,286.4 327.9,286.6 328.4,286.7 328.9,286.7 329.4,286.2 329.8,286.6 330.3,286.5 330.8,286.5 331.3,286.8 331.8,286.5 332.3,286.7 332.7,287 333.2,286.6 333.7,286.8 334.2,286.6 334.7,285.3 335.2,281.2 335.6,284.4 336.1,286.6 336.6,286.5 337.1,286.6 337.6,286.6 338.1,286.8 338.5,286.8 339,286.6 339.5,286.8 340,286.7 340.5,286.8 341,286.4 341.4,286.9 341.9,286.3 342.4,286.7 342.9,286.8 343.4,286.8 343.9,286.5 344.3,271 344.8,207.4 345.3,171.7 345.8,164.8 346.3,164.6 346.7,164.3 347.2,164 347.7,164.3 348.2,164.1 348.7,163.5 349.2,163.3 349.6,163 350.1,163.2 350.6,162.9 351.1,162.3 351.6,162.6 352.1,162.1 352.5,162.1 353,161.8 353.5,161.8 354,162.2 354.5,165.2 355,176.9 355.4,210.8 355.9,237 356.4,256.3 356.9,275.4 357.4,278.2 357.9,280.8 358.3,283.3 358.8,285.8 359.3,286.1 359.8,286.6 360.3,286.3 360.7,286.6 361.2,287 361.7,286.8 362.2,287 362.7,286.4 363.2,286.9 363.6,287.2 364.1,286.8 364.6,287 365.1,286.6 365.6,286.8 366.1,287.1 366.5,286.9 367,287 367.5,286.9 368,286.9 368.5,287.2 369,286.8 369.4,287 369.9,287 370.4,286.7 370.9,286.5 371.4,286.9 371.9,286.5 372.3,287.2 372.8,286.7 373.3,286.9 373.8,286.8 374.3,287 374.7,286.9 375.2,286.9 375.7,286.9 376.2,286.7 376.7,286.4 377.2,286.9 377.6,286.8 378.1,285.9 378.6,282.2 379.1,273.2 379.6,230.6 380.1,162.3 380.5,157.8 381,153.3 381.5,152.6 382,151.4 382.5,150.9 383,150.3 383.4,149.1 383.9,148.2 384.4,147.8 384.9,147.1 385.4,146.6 385.9,145.6 386.3,145.4 386.8,145 387.3,144.4 387.8,144.4 388.3,143.7 388.8,143.4 389.2,143.3 389.7,142.9 390.2,144.2 390.7,148.8 391.2,177.4 391.6,206 392.1,232.2 392.6,258.1 393.1,265 393.6,272 394.1,278.6 394.5,282.6 395,283.2 395.5,284.2 396,285.2 396.5,286 397,286.4 397.4,286.3 397.9,286.6 398.4,287 398.9,287.1 399.4,287.4 399.9,287.1 400.3,287.7 400.8,287.5 401.3,287.6 401.8,287.8 402.3,287.7 402.8,287.8 403.2,287.7 403.7,287.7 404.2,287.7 404.7,287.7 405.2,287.9 405.6,288 406.1,288 406.6,288.1 407.1,288.2 407.6,287.8 408.1,288 408.5,288 409,288.2 409.5,288.2 410,288.4 410.5,288 411,287.8 411.4,287.9 411.9,288 412.4,288.1 412.9,288 413.4,288 413.9,287.8 414.3,287.8 414.8,288 415.3,288 415.8,287.9 416.3,287.9 416.8,288 417.2,288.4 417.7,288.1 418.2,287.8 418.7,288 419.2,287.8 419.6,288 420.1,288 420.6,287.9 421.1,287.9 421.6,286.7 422.1,282.8 422.5,285.5 423,287.8 423.5,288.3 424,288.1 424.5,288.1 425,288.1 425.4,288.3 425.9,287.8 426.4,288.2 426.9,288 427.4,288.4 427.9,288.1 428.3,288.1 428.8,288.2 429.3,287.9 429.8,287.6 430.3,288.2 430.8,288.2 431.2,287.7 431.7,287.9 432.2,288.1 432.7,288.3 433.2,287.9 433.7,288 434.1,287.8 434.6,288.2 435.1,288.1 435.6,288.1 436.1,288.1 436.5,287.9 437,287.9 437.5,288.2 438,288.1 438.5,288.1 439,287.9 439.4,288.1 439.9,288.3 440.4,288.1 440.9,288.1 441.4,287.9 441.9,287.8 442.3,287.8 442.8,288 443.3,288.2 443.8,288 444.3,288.1 444.8,288.2 445.2,288 445.7,288 446.2,287.9 446.7,288.2 447.2,288.4 447.7,288 448.1,288.3 448.6,287.9 449.1,288.3 449.6,288.2 450.1,288.4 450.5,287.7 451,288.2 451.5,288.1 452,288.2 452.5,288.1 453,288 453.4,288.1 453.9,288.1 454.4,287.9 454.9,288.3 455.4,287.9 455.9,287.8 456.3,288.4 456.8,288.1 457.3,288.3 457.8,288.1 458.3,287.5 458.8,284.8 459.2,282.3 459.7,280 460.2,279.4 460.7,278.6 461.2,277.9 461.7,277.4 462.1,277.6 462.6,277 463.1,276.8 463.6,276.2 464.1,276.3 464.6,276.4 465,275.1 465.5,271.3 466,274.2 466.5,276.7 467,276.4 467.4,276.3 467.9,276.2 468.4,277 468.9,277.6 469.4,278.1 469.9,278.6 470.3,279.1 470.8,279.8 471.3,280.3 471.8,281.1 472.3,281.4 472.8,282.1 473.2,282.6 473.7,282.7 474.2,283 474.7,283.5 475.2,283.5 475.7,283.9 476.1,284 476.6,284.4 477.1,284.3 477.6,284.3 478.1,284.6 478.6,284.7 479,284.9 479.5,284.9 480,285 480.5,285 481,285.2 481.4,285.4 481.9,285.5 482.4,285.4 482.9,285.3 483.4,285.1 483.9,285.4 484.3,285.7 484.8,286 485.3,285.6 485.8,285.7 486.3,285.9 486.8,285.6 487.2,285.7 487.7,285.8 488.2,286.1 488.7,285.6 489.2,285.7 489.7,285.8 490.1,285.9 490.6,285.8 491.1,285.5 491.6,285.6 492.1,285.4 492.6,285.5 493,285.7 493.5,285.6 494,283.9 494.5,282.4 495,279.4 495.4,276.4 495.9,275.8 496.4,274.9 496.9,274.3 497.4,273.4 497.9,273.6 498.3,273.2 498.8,272.9 499.3,272.2 499.8,271.9 500.3,272 500.8,271.7 501.2,271.8 501.7,271.5 502.2,270.9 502.7,271 503.2,271 503.7,271.1 504.1,270.8 504.6,272.3 505.1,273.8 505.6,274.6 506.1,275.9 506.6,277.3 507,277.7 507.5,278.8 508,278.8 508.5,278.6 509,275.1 509.5,278.5 509.9,281.1 510.4,281.5 510.9,282.4 511.4,283 511.9,283.4 512.3,283.4 512.8,283.8 513.3,284.1 513.8,284.2 514.3,284.2 514.8,284.4 515.2,284.7 515.7,284.5 516.2,284.8 516.7,285 517.2,284.5 517.7,284.8 518.1,284.6 518.6,285.2 519.1,284.8 519.6,285 520.1,284.5 520.6,285 521,285.1 521.5,284.9 522,285 522.5,285.1 523,284.9 523.5,284.9 523.9,284.9 524.4,285 524.9,285.2 525.4,285.2 525.9,285 526.3,285.3 526.8,284.8 527.3,285.1 527.8,285.3 528.3,285 528.8,285 529.2,284.5 529.7,281.6 530.2,278.3 530.7,275.6 531.2,274.5 531.7,272.9 532.1,271.5 532.6,270.7 533.1,270.1 533.6,270.1 534.1,270 534.6,269.5 535,269.3 535.5,269.3 536,268.9 536.5,268.8 537,268.9 537.5,268.4 537.9,268.5 538.4,268.4 538.9,268.2 539.4,269.4 539.9,270.9 540.4,272.7 540.8,274.8 541.3,276.6 541.8,278 542.3,279.7 542.8,281.2 543.2,281.9 543.7,282.3 544.2,282.7 544.7,282.8 545.2,283 545.7,283.5 546.1,283.4 546.6,283.6 547.1,284 547.6,284.1 548.1,284.1 548.6,284.5 549,284.2 549.5,284.5 550,284.5 550.5,284.6 551,284.8 551.5,284.5 551.9,283.4 552.4,279.8 552.9,282.5 553.4,284.7 553.9,284.9 554.4,285 554.8,284.9 555.3,284.8 555.8,285 556.3,285.1 556.8,284.9 557.2,285.1 557.7,285 558.2,285.1 558.7,285.3 559.2,285.4 559.7,285.3 560.1,285.2 560.6,285.6 561.1,285.2 561.6,285.1 562.1,285.3 562.6,285.5 563,285.6 563.5,285.3 564,285.3 564.5,285.4 565,285.3 565.5,285.5 565.9,285.4 566.4,285.3 566.9,285.4 567.4,285.3 567.9,285.3 568.4,285.4 568.8,285.6 569.3,285.5 569.8,285.2 570.3,285.6 570.8,285.4 571.2,285.6 571.7,285 572.2,285.5 572.7,285.3 573.2,285.6 573.7,284.9 574.1,285.7 574.6,285.4 575.1,285.6 575.6,285.3 576.1,285.7 576.6,285.5 577,285.7 577.5,285.5 578,285.4 578.5,285.1 579,285.8 579.5,285.4 579.9,285.4 580.4,285.6 580.9,285.5 581.4,285.4 581.9,285.5 582.4,285.5 582.8,285.6 583.3,285.5 583.8,285.4 584.3,285.6 584.8,285.6 585.3,285.5 585.7,285.4 586.2,285.4 586.7,285.5 587.2,285.8 587.7,285.4 588.1,285.3 588.6,285.3 589.1,285.4 589.6,285.4 590.1,285.6 590.6,285.7 591,285.5 591.5,285.6 592,285.3 592.5,285.4 593,285.6 593.5,285.6 593.9,285.5 594.4,285.5 594.9,285.3 595.4,284.4 595.9,280.3 596.4,283.5 596.8,285.7 597.3,285.3 597.8,285.5 598.3,285.5 598.8,285.4 599.3,285.6 599.7,285.5 600.2,285.5 600.7,285.5 601.2,285.5 601.7,285.7 602.1,285.5 602.6,285.7 603.1,285.5 603.6,285.6 604.1,285.5 604.6,285.5 605,285.7 605.5,285.7 606,285.6 606.5,285.5 607,285.4 607.5,285.6 607.9,285.7 608.4,288.2 608.9,290.8 609.4,292 609.9,293.3 610.4,293.5 610.8,294.2 611.3,294 611.8,293.9 612.3,293.8 612.8,293.8 613.3,293.9 613.7,293.8 614.2,294 614.7,294 615.2,293.9 615.7,294.1 616.1,293.7 616.6,294.1 617.1,294.1 617.6,293.9 618.1,294.3 618.6,294 619,293.9 619.5,293.2 620,292.5 620.5,291.8 621,290.8 621.5,289.6 621.9,288.8 622.4,288.4 622.9,288.1 623.4,287.8 623.9,288 624.4,288.2 624.8,288.1 625.3,288.2 625.8,288 626.3,288 626.8,287.6 627.3,288 627.7,288 628.2,287.7 628.7,287.6 629.2,287.8 629.7,287.7 630.2,287.6 630.6,287.6 631.1,287.7 631.6,287.6 632.1,288 632.6,287.6 633,287.7 633.5,287.8 634,287.7 634.5,287.7 635,287.8 635.5,287.7 635.9,287.7 636.4,287.9 636.9,287.3 637.4,287.6 637.9,287.2 638.4,287.7 638.8,286.1 639.3,282.6 639.8,285.1 640.3,287.4 640.8,287.4 641.3,287.6 641.7,287.5 642.2,287.3 642.7,288 643.2,287.9 643.7,290.2 644.2,292.3 644.6,293.1 645.1,294.2 645.6,294.6 646.1,294.3 646.6,294.7 647,294.7 647.5,294.5 648,294.5 648.5,294.6 649,294.8 649.5,294.5 649.9,294.3 650.4,294.7 650.9,294.6 651.4,294.8 651.9,294.6 652.4,294.8 652.8,294.6 653.3,294.4 653.8,294.6 654.3,294.8 654.8,294.5 655.3,294.5 655.7,293.5 656.2,292.9 656.7,292.3 657.2,291.3 657.7,290.5 658.2,289.6 658.6,289.5 659.1,289.3 659.6,288.8 660.1,288.6 660.6,288.7 661,288.5 661.5,288.4 662,288.7 662.5,288.3 663,288 663.5,288.2 663.9,288.1 664.4,288.3 664.9,288.3 665.4,288.1 665.9,288.3 666.4,288.5 666.8,288 667.3,288.3 667.8,288.1 668.3,288.1 668.8,288.1 669.3,288 669.7,288 670.2,288.2 670.7,288 671.2,288.2 671.7,288 672.2,288.2 672.6,288.1 673.1,288.2 673.6,287.8 674.1,288 674.6,288.2 675.1,288.3 675.5,288.1 676,287.8 676.5,288.1 677,287.8 677.5,288 677.9,288.1 678.4,288.8 678.9,290.8 679.4,292.8 679.9,293.9 680.4,295 680.8,295.3 681.3,295.1 681.8,295.3 682.3,294 682.8,290 683.3,293.1 683.7,295 684.2,295.2 684.7,294.9 685.2,295.2 685.7,295.1 686.2,295 686.6,295.1 687.1,295.1 687.6,295.5 688.1,295 688.6,295.5 689.1,295.3 689.5,295.6 690,295.3 690.5,294.8 691,294.2 691.5,293.6 691.9,292.6 692.4,291.8 692.9,291.4 693.4,290.9 693.9,291 694.4,290.4 694.8,290.4 695.3,290.6 695.8,290.4 696.3,290 696.8,290.1 697.3,290.3 697.7,290 698.2,290 698.7,290.3 699.2,290.1 699.7,290 700.2,289.9 700.6,289.8 701.1,289.9 701.6,289.8 702.1,289.9 702.6,289.8 703.1,289.8 703.5,289.6 704,289.7 704.5,289.8 705,289.5 705.5,289.2 706,289.7 706.4,289.4 706.9,289.7 707.4,289.6 707.9,289.4 708.4,289.4 708.8,289.2 709.3,289.6 709.8,289.5 710.3,289.3 710.8,289.3 711.3,289.6 711.7,289.5 712.2,289.3 712.7,289.2 713.2,289.6 713.7,289.3 714.2,289.8 714.6,289.2 715.1,289 715.6,289.5 716.1,289.4 716.6,289.6 717.1,289.4 717.5,289.2 718,289.2 718.5,289.2 719,289.5 719.5,289.4 720,288.9 720.4,289.2 720.9,289.3 721.4,289.1 721.9,289.2 722.4,289.1 722.8,289.3 723.3,289.2 723.8,289.4 724.3,288.8 724.8,288.9 725.3,288.9 725.7,287.6 726.2,284 726.7,286.9 727.2,288.9 727.7,288.8 728.2,288.9 728.6,289 729.1,289.2 729.6,288.8 730.1,288.8 730.6,288.9 731.1,288.9 731.5,288.9 732,288.9 732.5,289.1 733,288.8 733.5,288.9 734,288.7 734.4,288.8 734.9,288.7 735.4,288.9 735.9,288.6 736.4,288.3 736.8,288.7 737.3,288.6 737.8,288.5 738.3,288.6 738.8,288.6 739.3,288.9 739.7,288.7 740.2,288.3 740.7,288.5 741.2,288.5 741.7,288.2 742.2,288.8 742.6,288.3 743.1,288.4 743.6,288.8 744.1,288.6 744.6,288.4 745.1,288.5 745.5,288.5 746,288.3 746.5,288.4 747,288.4 747.5,288.4 748,288.3 748.4,288.3 748.9,288 749.4,288.3 749.9,288.5 750.4,288.3 750.9,288.3 751.3,287.7 751.8,288.6 752.3,288.2 752.8,288.2 753.3,288 753.7,288.5 754.2,288.5 754.7,288.2 755.2,288.1 755.7,288.2 756.2,288.1 756.6,288.2 757.1,288 757.6,288.2 758.1,288.3 758.6,287.9 759.1,288.3 759.5,288.5 760,288.2 760.5,288.2 761,288.2 761.5,288.2 762,288.1 762.4,288.2 762.9,288.3 763.4,287.9 763.9,288.1 764.4,287.9 764.9,288.1 765.3,288 765.8,287.8 766.3,288.4 766.8,287.9 767.3,288 767.7,287.9 768.2,288.1 768.7,288 769.2,286.8 769.7,283.2 770.2,285.8 770.6,287.7 771.1,287.8 771.6,287.7 772.1,288 772.6,288 773.1,288 773.5,288.3 774,288 774.5,288.1 775,287.8 775.5,287.7 776,287.8 776.4,288 776.9,288 777.4,287.7 777.9,287.8 778.4,287.7 778.9,288 779.3,287.7 779.8,287.9 780.3,287.9 780.8,287.8 781.3,288 781.8,288 782.2,287.6 782.7,287.7 783.2,287.9 783.7,287.8 784.2,287.6 784.6,287.9 785.1,288.2 785.6,287.4 786.1,288.1 786.6,287.9 787.1,288.2 787.5,288.2 788,287.7 788.5,288 789,287.7 789.5,287.8 790,287.8 790.4,287.7 790.9,287.7 791.4,287.5 791.9,288 792.4,287.9 792.9,287.6 793.3,287.6 793.8,287.8 794.3,288 794.8,287.7 795.3,288.3 795.8,288 796.2,287.5 796.7,287.9 797.2,287.4 797.7,287.7 798.2,287.7 798.6,287.2 799.1,287.5 799.6,287.8 800.1,287.8 800.6,287.8 801.1,288 801.5,287.6 802,287.7 802.5,287.8 803,287.5 803.5,287.8 804,288 804.4,287.9 804.9,287.7 805.4,287.6 805.9,287.3 806.4,287.7 806.9,287.6 807.3,287.5 807.8,287.5 808.3,287.6 808.8,287.8 809.3,287.7 809.8,287.2 810.2,287.6 810.7,287.6 811.2,287.8 811.7,287.6 812.2,287.3 812.6,286.4 813.1,282.7 813.6,285.3 814.1,287.7 814.6,287.7 815.1,287.2 815.5,287.4 816,287.8 816.5,287.6 817,287.4 817.5,287.6 818,287.4 818.4,287.8 818.9,287.5 819.4,287.6 819.9,287.5 820.4,287.6 820.9,287.7 821.3,287.5 821.8,287.5 822.3,287.4 822.8,287.8 823.3,287.6 823.8,287.6 824.2,287.6 824.7,287.6 825.2,287.5 825.7,287.3 826.2,287.2 826.7,287.3 827.1,287.4 827.6,288.1 828.1,287.6 828.6,287.4 829.1,287.7 829.5,287.3 830,287.6 830.5,287.5 831,287.6 831.5,287.5 832,287.8 832.4,287.6 832.9,287.7 833.4,287.7 833.9,287.8 834.4,287.3 834.9,287.7 835.3,287.4 835.8,287.5 836.3,287.4 836.8,287.5 837.3,287.5 837.8,287.7 838.2,287.1 838.7,287.3 839.2,287.3 839.7,287.9 840.2,287.6 840.7,287.6 841.1,287.5 841.6,287.6 842.1,287.4 842.6,287.5 843.1,287.4 843.5,287.3 844,287.6 844.5,287.6 845,287.7 845.5,287.4 846,287.5 846.4,287.6 846.9,287.7 847.4,287.4 847.9,287.5 848.4,287.5 848.9,287.6 849.3,287.7 849.8,287.3 850.3,287.5 850.8,287.4 851.3,287.6 851.8,287.3 852.2,287.6 852.7,287.6 853.2,287.6 853.7,287.7 854.2,287.3 854.7,287.6 855.1,287.7 855.6,287.5 856.1,286.3 856.6,282.5 857.1,285.3 857.5,287.4 858,287.8 858.5,287.6 859,287.3 859.5,287.3 860,287.8 860.4,287.4 860.9,287.5 861.4,287.3 861.9,287.6 862.4,287.4 862.9,287.3 863.3,287.7 863.8,287.6 864.3,287.3 864.8,287.5 865.3,287.3 865.8,287.4 866.2,287.7 866.7,287.4 867.2,287.4 867.7,287.5 868.2,287.3 868.7,287.7 869.1,287.4 869.6,287.5 870.1,287.6 870.6,287.7 871.1,287.8 871.6,287.6 872,287.5 872.5,287.5 873,287.5 873.5,287.5 874,287.5 874.4,287.4 874.9,287.3 875.4,287.7 875.9,287.4 876.4,287.7 876.9,287 877.3,287.6 877.8,287.5 878.3,287.3 878.8,287.3 879.3,287.2 879.8,287.2 880.2,287.5 880.7,287.1 881.2,287.5 881.7,287.5 882.2,287.3 882.7,287.8 883.1,287.5 883.6,287.4 884.1,287.3 884.6,287.5 885.1,287.2 885.6,287.6 886,287.2 886.5,287.3 887,287.5 887.5,287.4 888,287.4 888.4,287.5 888.9,287.5 889.4,287.1 889.9,287.3 890.4,287.3 890.9,287.6 891.3,287.4 891.8,287.2 892.3,287.4 892.8,287.5 893.3,287.4 893.8,287.2 894.2,287.4 894.7,287.7 895.2,287.5 895.7,287.3 896.2,287.6 896.7,287.4 897.1,287.3 897.6,287 898.1,287.1 898.6,287.3 899.1,287.7 899.6,286.1 900,282.6 900.5,285.3 901,287.2 901.5,287.5 902,287.2 902.4,287.3 902.9,287.2 903.4,287.4 903.9,287.4 904.4,287.1" fill="none" stroke="#bfbfff" stroke-width="3.7" stroke-linejoin="round" />
<polyline points="117.9,249.5 118.4,249.4 118.9,249.8 119.3,249.1 119.8,249.7 120.3,249.5 120.8,249.3 121.3,249.6 121.8,249.6 122.2,249.5 122.7,249.3 123.2,249 123.7,249.4 124.2,249.6 124.7,249.3 125.1,249.5 125.6,249.4 126.1,249.2 126.6,249.5 127.1,249.4 127.6,249.5 128,249.4 128.5,249.3 129,249.6 129.5,249.4 130,249.4 130.5,249.5 130.9,249.6 131.4,249.6 131.9,249.4 132.4,249.4 132.9,249 133.3,249.8 133.8,249.4 134.3,249.3 134.8,249.2 135.3,249.3 135.8,249.5 136.2,249.4 136.7,249.3 137.2,249.4 137.7,249.3 138.2,249.7 138.7,249.1 139.1,249.1 139.6,249.4 140.1,249.3 140.6,249.4 141.1,249.5 141.6,249.4 142,249.2 142.5,249.5 143,249.5 143.5,249.4 144,249.3 144.5,249.2 144.9,249.5 145.4,249.3 145.9,249.4 146.4,249.7 146.9,249.5 147.4,249.4 147.8,249.4 148.3,249.3 148.8,249.7 149.3,249.4 149.8,249.5 150.2,249.6 150.7,249.3 151.2,249.3 151.7,249.5 152.2,249.2 152.7,249.5 153.1,249.4 153.6,249.6 154.1,249.1 154.6,249.9 155.1,249.4 155.6,249.3 156,249.7 156.5,249.4 157,249.4 157.5,249.2 158,249.2 158.5,249.5 158.9,249.6 159.4,249.2 159.9,249.2 160.4,249.5 160.9,248.1 161.4,244.3 161.8,247 162.3,249.4 162.8,249.1 163.3,249.7 163.8,249.2 164.2,249.3 164.7,249.4 165.2,249.2 165.7,249.8 166.2,249.2 166.7,249.3 167.1,249.6 167.6,249.3 168.1,249.4 168.6,248.9 169.1,249.1 169.6,249.3 170,249.5 170.5,249.5 171,249.4 171.5,249.5 172,249.5 172.5,249.5 172.9,249.4 173.4,249.5 173.9,249.5 174.4,249.6 174.9,248.9 175.4,249.6 175.8,249.6 176.3,249.3 176.8,249.4 177.3,249.3 177.8,249.3 178.2,249.2 178.7,249.3 179.2,249.6 179.7,249.2 180.2,249.7 180.7,249.4 181.1,249.5 181.6,249.6 182.1,249.3 182.6,249.4 183.1,249.2 183.6,249.6 184,249.2 184.5,249.3 185,249.4 185.5,249.6 186,249.4 186.5,249.7 186.9,249.8 187.4,248.8 187.9,249.2 188.4,249.1 188.9,249.5 189.4,249.3 189.8,249.3 190.3,249.3 190.8,249.4 191.3,249.4 191.8,249.8 192.3,249.3 192.7,249.3 193.2,249.2 193.7,249.4 194.2,249.1 194.7,249.5 195.1,249.6 195.6,249.2 196.1,249.5 196.6,249.6 197.1,249.4 197.6,249.3 198,249.3 198.5,249.3 199,248.7 199.5,249.2 200,249.1 200.5,249.7 200.9,249.3 201.4,249.3 201.9,249.5 202.4,249.5 202.9,249.3 203.4,249.4 203.8,249.5 204.3,247.9 204.8,244.1 205.3,247.1 205.8,249.5 206.3,249.3 206.7,249.2 207.2,249.3 207.7,249.6 208.2,249.4 208.7,249.3 209.1,249.3 209.6,249.2 210.1,249.3 210.6,249.6 211.1,249.5 211.6,249.6 212,249.1 212.5,249.4 213,249.3 213.5,249.2 214,249.4 214.5,249.6 214.9,249.5 215.4,249.4 215.9,249.1 216.4,249.2 216.9,249.6 217.4,249.3 217.8,249.3 218.3,249.6 218.8,249.4 219.3,249.7 219.8,249.3 220.3,249.4 220.7,249.6 221.2,249.5 221.7,249.3 222.2,249.5 222.7,249.3 223.2,249.3 223.6,249.5 224.1,249.4 224.6,249 225.1,249.4 225.6,249.5 226,249.4 226.5,249.6 227,249.2 227.5,249.3 228,249.2 228.5,249.2 228.9,249.3 229.4,249.2 229.9,249.4 230.4,249.5 230.9,249.6 231.4,249.5 231.8,249.8 232.3,249.1 232.8,249.7 233.3,249.4 233.8,249.6 234.3,249.7 234.7,249.4 235.2,249.4 235.7,249.4 236.2,249.3 236.7,249.5 237.2,249.3 237.6,249.3 238.1,249.4 238.6,249.4 239.1,249.3 239.6,249.4 240,249.4 240.5,249.8 241,249.4 241.5,249.3 242,249.4 242.5,249.3 242.9,249.1 243.4,249.4 243.9,249.3 244.4,249.5 244.9,249.5 245.4,249.5 245.8,249.6 246.3,249.4 246.8,249.6 247.3,249.4 247.8,248.4 248.3,244.7 248.7,247.3 249.2,249.6 249.7,249.5 250.2,249.5 250.7,247.1 251.2,216.4 251.6,185.8 252.1,175.3 252.6,164.9 253.1,154 253.6,151.3 254,148.2 254.5,144.6 255,143.2 255.5,141.7 256,140.3 256.5,140.1 256.9,139.5 257.4,138.6 257.9,138.5 258.4,138.8 258.9,138.3 259.4,138.8 259.8,145 260.3,151.1 260.8,173.2 261.3,194.8 261.8,210.1 262.3,225.3 262.7,229.8 263.2,234.5 263.7,239.4 264.2,241 264.7,242.5 265.2,244.1 265.6,244.9 266.1,244.9 266.6,245.1 267.1,245.6 267.6,245.6 268.1,246.3 268.5,246.3 269,246 269.5,246.3 270,246.4 270.5,246.4 270.9,246.5 271.4,246.4 271.9,246.8 272.4,246.6 272.9,246.1 273.4,246.7 273.8,247.1 274.3,246.7 274.8,246.7 275.3,246.6 275.8,246.9 276.3,247 276.7,246.7 277.2,246.8 277.7,247.3 278.2,246.8 278.7,247 279.2,246.8 279.6,247.1 280.1,246.9 280.6,247 281.1,247 281.6,247.1 282.1,247.2 282.5,247.1 283,247.1 283.5,247.1 284,246.9 284.5,247.1 284.9,247.1 285.4,246.9 285.9,247.3 286.4,247.2 286.9,247.4 287.4,247.3 287.8,247 288.3,247.3 288.8,247.1 289.3,247.5 289.8,247.6 290.3,247.3 290.7,247.6 291.2,245.7 291.7,242.2 292.2,245.4 292.7,247.5 293.2,247.5 293.6,247.4 294.1,247.5 294.6,247.3 295.1,247.2 295.6,247.5 296.1,247.7 296.5,247.4 297,247.6 297.5,247.3 298,247.6 298.5,247.4 299,247.5 299.4,247.6 299.9,247.7 300.4,247.5 300.9,247.2 301.4,247.5 301.8,247.7 302.3,247.5 302.8,247.6 303.3,247.9 303.8,247.6 304.3,247.4 304.7,247.8 305.2,247.9 305.7,247.6 306.2,247.4 306.7,247.5 307.2,247.4 307.6,247.1 308.1,194.6 308.6,161.2 309.1,146.8 309.6,145.9 310.1,145 310.5,145 311,145.9 311.5,146.1 312,146.9 312.5,147.6 313,148 313.4,148.9 313.9,149.1 314.4,149.5 314.9,149.6 315.4,150.3 315.8,150.3 316.3,151.1 316.8,151.3 317.3,151.8 317.8,151.7 318.3,155.9 318.7,168.5 319.2,190.5 319.7,212.4 320.2,221 320.7,229.4 321.2,238.5 321.6,241.5 322.1,244.2 322.6,246.9 323.1,247.8 323.6,248.2 324.1,248.5 324.5,249.1 325,249 325.5,248.9 326,249.1 326.5,249.2 327,249.1 327.4,249.2 327.9,249.4 328.4,249.5 328.9,249.5 329.4,249 329.8,249.4 330.3,249.3 330.8,249.3 331.3,249.6 331.8,249.3 332.3,249.5 332.7,249.8 333.2,249.4 333.7,249.6 334.2,249.4 334.7,248.1 335.2,244 335.6,247.2 336.1,249.4 336.6,249.3 337.1,249.4 337.6,249.4 338.1,249.6 338.5,249.6 339,249.4 339.5,249.6 340,249.5 340.5,249.6 341,249.2 341.4,249.7 341.9,249.1 342.4,249.5 342.9,249.6 343.4,249.6 343.9,249.3 344.3,233.8 344.8,170.2 345.3,134.5 345.8,127.6 346.3,127.4 346.7,127.1 347.2,126.8 347.7,127.1 348.2,126.9 348.7,126.3 349.2,126.1 349.6,125.8 350.1,126 350.6,125.7 351.1,125.1 351.6,125.4 352.1,124.9 352.5,124.9 353,124.6 353.5,124.6 354,125 354.5,128 355,139.7 355.4,173.6 355.9,199.8 356.4,219.1 356.9,238.2 357.4,241 357.9,243.6 358.3,246.1 358.8,248.6 359.3,248.9 359.8,249.4 360.3,249.1 360.7,249.4 361.2,249.8 361.7,249.6 362.2,249.8 362.7,249.2 363.2,249.7 363.6,250 364.1,249.6 364.6,249.8 365.1,249.4 365.6,249.6 366.1,249.9 366.5,249.7 367,249.8 367.5,249.7 368,249.7 368.5,250 369,249.6 369.4,249.8 369.9,249.8 370.4,249.5 370.9,249.3 371.4,249.7 371.9,249.3 372.3,250 372.8,249.5 373.3,249.7 373.8,249.6 374.3,249.8 374.7,249.7 375.2,249.7 375.7,249.7 376.2,249.5 376.7,249.2 377.2,249.7 377.6,249.6 378.1,248.7 378.6,245 379.1,236 379.6,193.4 380.1,125.1 380.5,120.6 381,116.1 381.5,115.4 382,114.2 382.5,113.7 383,113.1 383.4,111.9 383.9,111 384.4,110.6 384.9,109.9 385.4,109.4 385.9,108.4 386.3,108.2 386.8,107.8 387.3,107.2 387.8,107.2 388.3,106.5 388.8,106.2 389.2,106.1 389.7,105.7 390.2,107 390.7,111.6 391.2,140.2 391.6,168.8 392.1,195 392.6,220.9 393.1,227.8 393.6,234.8 394.1,241.4 394.5,245.4 395,246 395.5,247 396,248 396.5,248.8 397,249.2 397.4,249.1 397.9,249.4 398.4,249.8 398.9,249.9 399.4,250.2 399.9,249.9 400.3,250.5 400.8,250.3 401.3,250.4 401.8,250.6 402.3,250.5 402.8,250.6 403.2,250.5 403.7,250.5 404.2,250.5 404.7,250.5 405.2,250.7 405.6,250.8 406.1,250.8 406.6,250.9 407.1,251 407.6,250.6 408.1,250.8 408.5,250.8 409,251 409.5,251 410,251.2 410.5,250.8 411,250.6 411.4,250.7 411.9,250.8 412.4,250.9 412.9,250.8 413.4,250.8 413.9,250.6 414.3,250.6 414.8,250.8 415.3,250.8 415.8,250.7 416.3,250.7 416.8,250.8 417.2,251.2 417.7,250.9 418.2,250.6 418.7,250.8 419.2,250.6 419.6,250.8 420.1,250.8 420.6,250.7 421.1,250.7 421.6,249.5 422.1,245.6 422.5,248.3 423,250.6 423.5,251.1 424,250.9 424.5,250.9 425,250.9 425.4,251.1 425.9,250.6 426.4,251 426.9,250.8 427.4,251.2 427.9,250.9 428.3,250.9 428.8,251 429.3,250.7 429.8,250.4 430.3,251 430.8,251 431.2,250.5 431.7,250.7 432.2,250.9 432.7,251.1 433.2,250.7 433.7,250.8 434.1,250.6 434.6,251 435.1,250.9 435.6,250.9 436.1,250.9 436.5,250.7 437,250.7 437.5,251 438,250.9 438.5,250.9 439,250.7 439.4,250.9 439.9,251.1 440.4,250.9 440.9,250.9 441.4,250.7 441.9,250.6 442.3,250.6 442.8,250.8 443.3,251 443.8,250.8 444.3,250.9 444.8,251 445.2,250.8 445.7,250.8 446.2,250.7 446.7,251 447.2,251.2 447.7,250.8 448.1,251.1 448.6,250.7 449.1,251.1 449.6,251 450.1,251.2 450.5,250.5 451,251 451.5,250.9 452,251 452.5,250.9 453,250.8 453.4,250.9 453.9,250.9 454.4,250.7 454.9,251.1 455.4,250.7 455.9,250.6 456.3,251.2 456.8,250.9 457.3,251.1 457.8,250.9 458.3,250.3 458.8,247.6 459.2,245.1 459.7,242.8 460.2,242.2 460.7,241.4 461.2,240.7 461.7,240.2 462.1,240.4 462.6,239.8 463.1,239.6 463.6,239 464.1,239.1 464.6,239.2 465,237.9 465.5,234.1 466,237 466.5,239.5 467,239.2 467.4,239.1 467.9,239 468.4,239.8 468.9,240.4 469.4,240.9 469.9,241.4 470.3,241.9 470.8,242.6 471.3,243.1 471.8,243.9 472.3,244.2 472.8,244.9 473.2,245.4 473.7,245.5 474.2,245.8 474.7,246.3 475.2,246.3 475.7,246.7 476.1,246.8 476.6,247.2 477.1,247.1 477.6,247.1 478.1,247.4 478.6,247.5 479,247.7 479.5,247.7 480,247.8 480.5,247.8 481,248 481.4,248.2 481.9,248.3 482.4,248.2 482.9,248.1 483.4,247.9 483.9,248.2 484.3,248.5 484.8,248.8 485.3,248.4 485.8,248.5 486.3,248.7 486.8,248.4 487.2,248.5 487.7,248.6 488.2,248.9 488.7,248.4 489.2,248.5 489.7,248.6 490.1,248.7 490.6,248.6 491.1,248.3 491.6,248.4 492.1,248.2 492.6,248.3 493,248.5 493.5,248.4 494,246.7 494.5,245.2 495,242.2 495.4,239.2 495.9,238.6 496.4,237.7 496.9,237.1 497.4,236.2 497.9,236.4 498.3,236 498.8,235.7 499.3,235 499.8,234.7 500.3,234.8 500.8,234.5 501.2,234.6 501.7,234.3 502.2,233.7 502.7,233.8 503.2,233.8 503.7,233.9 504.1,233.6 504.6,235.1 505.1,236.6 505.6,237.4 506.1,238.7 506.6,240.1 507,240.5 507.5,241.6 508,241.6 508.5,241.4 509,237.9 509.5,241.3 509.9,243.9 510.4,244.3 510.9,245.2 511.4,245.8 511.9,246.2 512.3,246.2 512.8,246.6 513.3,246.9 513.8,247 514.3,247 514.8,247.2 515.2,247.5 515.7,247.3 516.2,247.6 516.7,247.8 517.2,247.3 517.7,247.6 518.1,247.4 518.6,248 519.1,247.6 519.6,247.8 520.1,247.3 520.6,247.8 521,247.9 521.5,247.7 522,247.8 522.5,247.9 523,247.7 523.5,247.7 523.9,247.7 524.4,247.8 524.9,248 525.4,248 525.9,247.8 526.3,248.1 526.8,247.6 527.3,247.9 527.8,248.1 528.3,247.8 528.8,247.8 529.2,247.3 529.7,244.4 530.2,241.1 530.7,238.4 531.2,237.3 531.7,235.7 532.1,234.3 532.6,233.5 533.1,232.9 533.6,232.9 534.1,232.8 534.6,232.3 535,232.1 535.5,232.1 536,231.7 536.5,231.6 537,231.7 537.5,231.2 537.9,231.3 538.4,231.2 538.9,231 539.4,232.2 539.9,233.7 540.4,235.5 540.8,237.6 541.3,239.4 541.8,240.8 542.3,242.5 542.8,244 543.2,244.7 543.7,245.1 544.2,245.5 544.7,245.6 545.2,245.8 545.7,246.3 546.1,246.2 546.6,246.4 547.1,246.8 547.6,246.9 548.1,246.9 548.6,247.3 549,247 549.5,247.3 550,247.3 550.5,247.4 551,247.6 551.5,247.3 551.9,246.2 552.4,242.6 552.9,245.3 553.4,247.5 553.9,247.7 554.4,247.8 554.8,247.7 555.3,247.6 555.8,247.8 556.3,247.9 556.8,247.7 557.2,247.9 557.7,247.8 558.2,247.9 558.7,248.1 559.2,248.2 559.7,248.1 560.1,248 560.6,248.4 561.1,248 561.6,247.9 562.1,248.1 562.6,248.3 563,248.4 563.5,248.1 564,248.1 564.5,248.2 565,248.1 565.5,248.3 565.9,248.2 566.4,248.1 566.9,248.2 567.4,248.1 567.9,248.1 568.4,248.2 568.8,248.4 569.3,248.3 569.8,248 570.3,248.4 570.8,248.2 571.2,248.4 571.7,247.8 572.2,248.3 572.7,248.1 573.2,248.4 573.7,247.7 574.1,248.5 574.6,248.2 575.1,248.4 575.6,248.1 576.1,248.5 576.6,248.3 577,248.5 577.5,248.3 578,248.2 578.5,247.9 579,248.6 579.5,248.2 579.9,248.2 580.4,248.4 580.9,248.3 581.4,248.2 581.9,248.3 582.4,248.3 582.8,248.4 583.3,248.3 583.8,248.2 584.3,248.4 584.8,248.4 585.3,248.3 585.7,248.2 586.2,248.2 586.7,248.3 587.2,248.6 587.7,248.2 588.1,248.1 588.6,248.1 589.1,248.2 589.6,248.2 590.1,248.4 590.6,248.5 591,248.3 591.5,248.4 592,248.1 592.5,248.2 593,248.4 593.5,248.4 593.9,248.3 594.4,248.3 594.9,248.1 595.4,247.2 595.9,243.1 596.4,246.3 596.8,248.5 597.3,248.1 597.8,248.3 598.3,248.3 598.8,248.2 599.3,248.4 599.7,248.3 600.2,248.3 600.7,248.3 601.2,248.3 601.7,248.5 602.1,248.3 602.6,248.5 603.1,248.3 603.6,248.4 604.1,248.3 604.6,248.3 605,248.5 605.5,248.5 606,248.4 606.5,248.3 607,248.2 607.5,248.4 607.9,248.5 608.4,251 608.9,253.6 609.4,254.8 609.9,256.1 610.4,256.3 610.8,257 611.3,256.8 611.8,256.7 612.3,256.6 612.8,256.6 613.3,256.7 613.7,256.6 614.2,256.8 614.7,256.8 615.2,256.7 615.7,256.9 616.1,256.5 616.6,256.9 617.1,256.9 617.6,256.7 618.1,257.1 618.6,256.8 619,256.7 619.5,256 620,255.3 620.5,254.6 621,253.6 621.5,252.4 621.9,251.6 622.4,251.2 622.9,250.9 623.4,250.6 623.9,250.8 624.4,251 624.8,250.9 625.3,251 625.8,250.8 626.3,250.8 626.8,250.4 627.3,250.8 627.7,250.8 628.2,250.5 628.7,250.4 629.2,250.6 629.7,250.5 630.2,250.4 630.6,250.4 631.1,250.5 631.6,250.4 632.1,250.8 632.6,250.4 633,250.5 633.5,250.6 634,250.5 634.5,250.5 635,250.6 635.5,250.5 635.9,250.5 636.4,250.7 636.9,250.1 637.4,250.4 637.9,250 638.4,250.5 638.8,248.9 639.3,245.4 639.8,247.9 640.3,250.2 640.8,250.2 641.3,250.4 641.7,250.3 642.2,250.1 642.7,250.8 643.2,250.7 643.7,253 644.2,255.1 644.6,255.9 645.1,257 645.6,257.4 646.1,257.1 646.6,257.5 647,257.5 647.5,257.3 648,257.3 648.5,257.4 649,257.6 649.5,257.3 649.9,257.1 650.4,257.5 650.9,257.4 651.4,257.6 651.9,257.4 652.4,257.6 652.8,257.4 653.3,257.2 653.8,257.4 654.3,257.6 654.8,257.3 655.3,257.3 655.7,256.3 656.2,255.7 656.7,255.1 657.2,254.1 657.7,253.3 658.2,252.4 658.6,252.3 659.1,252.1 659.6,251.6 660.1,251.4 660.6,251.5 661,251.3 661.5,251.2 662,251.5 662.5,251.1 663,250.8 663.5,251 663.9,250.9 664.4,251.1 664.9,251.1 665.4,250.9 665.9,251.1 666.4,251.3 666.8,250.8 667.3,251.1 667.8,250.9 668.3,250.9 668.8,250.9 669.3,250.8 669.7,250.8 670.2,251 670.7,250.8 671.2,251 671.7,250.8 672.2,251 672.6,250.9 673.1,251 673.6,250.6 674.1,250.8 674.6,251 675.1,251.1 675.5,250.9 676,250.6 676.5,250.9 677,250.6 677.5,250.8 677.9,250.9 678.4,251.6 678.9,253.6 679.4,255.6 679.9,256.7 680.4,257.8 680.8,258.1 681.3,257.9 681.8,258.1 682.3,256.8 682.8,252.8 683.3,255.9 683.7,257.8 684.2,258 684.7,257.7 685.2,258 685.7,257.9 686.2,257.8 686.6,257.9 687.1,257.9 687.6,258.3 688.1,257.8 688.6,258.3 689.1,258.1 689.5,258.4 690,258.1 690.5,257.6 691,257 691.5,256.4 691.9,255.4 692.4,254.6 692.9,254.2 693.4,253.7 693.9,253.8 694.4,253.2 694.8,253.2 695.3,253.4 695.8,253.2 696.3,252.8 696.8,252.9 697.3,253.1 697.7,252.8 698.2,252.8 698.7,253.1 699.2,252.9 699.7,252.8 700.2,252.7 700.6,252.6 701.1,252.7 701.6,252.6 702.1,252.7 702.6,252.6 703.1,252.6 703.5,252.4 704,252.5 704.5,252.6 705,252.3 705.5,252 706,252.5 706.4,252.2 706.9,252.5 707.4,252.4 707.9,252.2 708.4,252.2 708.8,252 709.3,252.4 709.8,252.3 710.3,252.1 710.8,252.1 711.3,252.4 711.7,252.3 712.2,252.1 712.7,252 713.2,252.4 713.7,252.1 714.2,252.6 714.6,252 715.1,251.8 715.6,252.3 716.1,252.2 716.6,252.4 717.1,252.2 717.5,252 718,252 718.5,252 719,252.3 719.5,252.2 720,251.7 720.4,252 720.9,252.1 721.4,251.9 721.9,252 722.4,251.9 722.8,252.1 723.3,252 723.8,252.2 724.3,251.6 724.8,251.7 725.3,251.7 725.7,250.4 726.2,246.8 726.7,249.7 727.2,251.7 727.7,251.6 728.2,251.7 728.6,251.8 729.1,252 729.6,251.6 730.1,251.6 730.6,251.7 731.1,251.7 731.5,251.7 732,251.7 732.5,251.9 733,251.6 733.5,251.7 734,251.5 734.4,251.6 734.9,251.5 735.4,251.7 735.9,251.4 736.4,251.1 736.8,251.5 737.3,251.4 737.8,251.3 738.3,251.4 738.8,251.4 739.3,251.7 739.7,251.5 740.2,251.1 740.7,251.3 741.2,251.3 741.7,251 742.2,251.6 742.6,251.1 743.1,251.2 743.6,251.6 744.1,251.4 744.6,251.2 745.1,251.3 745.5,251.3 746,251.1 746.5,251.2 747,251.2 747.5,251.2 748,251.1 748.4,251.1 748.9,250.8 749.4,251.1 749.9,251.3 750.4,251.1 750.9,251.1 751.3,250.5 751.8,251.4 752.3,251 752.8,251 753.3,250.8 753.7,251.3 754.2,251.3 754.7,251 755.2,250.9 755.7,251 756.2,250.9 756.6,251 757.1,250.8 757.6,251 758.1,251.1 758.6,250.7 759.1,251.1 759.5,251.3 760,251 760.5,251 761,251 761.5,251 762,250.9 762.4,251 762.9,251.1 763.4,250.7 763.9,250.9 764.4,250.7 764.9,250.9 765.3,250.8 765.8,250.6 766.3,251.2 766.8,250.7 767.3,250.8 767.7,250.7 768.2,250.9 768.7,250.8 769.2,249.6 769.7,246 770.2,248.6 770.6,250.5 771.1,250.6 771.6,250.5 772.1,250.8 772.6,250.8 773.1,250.8 773.5,251.1 774,250.8 774.5,250.9 775,250.6 775.5,250.5 776,250.6 776.4,250.8 776.9,250.8 777.4,250.5 777.9,250.6 778.4,250.5 778.9,250.8 779.3,250.5 779.8,250.7 780.3,250.7 780.8,250.6 781.3,250.8 781.8,250.8 782.2,250.4 782.7,250.5 783.2,250.7 783.7,250.6 784.2,250.4 784.6,250.7 785.1,251 785.6,250.2 786.1,250.9 786.6,250.7 787.1,251 787.5,251 788,250.5 788.5,250.8 789,250.5 789.5,250.6 790,250.6 790.4,250.5 790.9,250.5 791.4,250.3 791.9,250.8 792.4,250.7 792.9,250.4 793.3,250.4 793.8,250.6 794.3,250.8 794.8,250.5 795.3,251.1 795.8,250.8 796.2,250.3 796.7,250.7 797.2,250.2 797.7,250.5 798.2,250.5 798.6,250 799.1,250.3 799.6,250.6 800.1,250.6 800.6,250.6 801.1,250.8 801.5,250.4 802,250.5 802.5,250.6 803,250.3 803.5,250.6 804,250.8 804.4,250.7 804.9,250.5 805.4,250.4 805.9,250.1 806.4,250.5 806.9,250.4 807.3,250.3 807.8,250.3 808.3,250.4 808.8,250.6 809.3,250.5 809.8,250 810.2,250.4 810.7,250.4 811.2,250.6 811.7,250.4 812.2,250.1 812.6,249.2 813.1,245.5 813.6,248.1 814.1,250.5 814.6,250.5 815.1,250 815.5,250.2 816,250.6 816.5,250.4 817,250.2 817.5,250.4 818,250.2 818.4,250.6 818.9,250.3 819.4,250.4 819.9,250.3 820.4,250.4 820.9,250.5 821.3,250.3 821.8,250.3 822.3,250.2 822.8,250.6 823.3,250.4 823.8,250.4 824.2,250.4 824.7,250.4 825.2,250.3 825.7,250.1 826.2,250 826.7,250.1 827.1,250.2 827.6,250.9 828.1,250.4 828.6,250.2 829.1,250.5 829.5,250.1 830,250.4 830.5,250.3 831,250.4 831.5,250.3 832,250.6 832.4,250.4 832.9,250.5 833.4,250.5 833.9,250.6 834.4,250.1 834.9,250.5 835.3,250.2 835.8,250.3 836.3,250.2 836.8,250.3 837.3,250.3 837.8,250.5 838.2,249.9 838.7,250.1 839.2,250.1 839.7,250.7 840.2,250.4 840.7,250.4 841.1,250.3 841.6,250.4 842.1,250.2 842.6,250.3 843.1,250.2 843.5,250.1 844,250.4 844.5,250.4 845,250.5 845.5,250.2 846,250.3 846.4,250.4 846.9,250.5 847.4,250.2 847.9,250.3 848.4,250.3 848.9,250.4 849.3,250.5 849.8,250.1 850.3,250.3 850.8,250.2 851.3,250.4 851.8,250.1 852.2,250.4 852.7,250.4 853.2,250.4 853.7,250.5 854.2,250.1 854.7,250.4 855.1,250.5 855.6,250.3 856.1,249.1 856.6,245.3 857.1,248.1 857.5,250.2 858,250.6 858.5,250.4 859,250.1 859.5,250.1 860,250.6 860.4,250.2 860.9,250.3 861.4,250.1 861.9,250.4 862.4,250.2 862.9,250.1 863.3,250.5 863.8,250.4 864.3,250.1 864.8,250.3 865.3,250.1 865.8,250.2 866.2,250.5 866.7,250.2 867.2,250.2 867.7,250.3 868.2,250.1 868.7,250.5 869.1,250.2 869.6,250.3 870.1,250.4 870.6,250.5 871.1,250.6 871.6,250.4 872,250.3 872.5,250.3 873,250.3 873.5,250.3 874,250.3 874.4,250.2 874.9,250.1 875.4,250.5 875.9,250.2 876.4,250.5 876.9,249.8 877.3,250.4 877.8,250.3 878.3,250.1 878.8,250.1 879.3,250 879.8,250 880.2,250.3 880.7,249.9 881.2,250.3 881.7,250.3 882.2,250.1 882.7,250.6 883.1,250.3 883.6,250.2 884.1,250.1 884.6,250.3 885.1,250 885.6,250.4 886,250 886.5,250.1 887,250.3 887.5,250.2 888,250.2 888.4,250.3 888.9,250.3 889.4,249.9 889.9,250.1 890.4,250.1 890.9,250.4 891.3,250.2 891.8,250 892.3,250.2 892.8,250.3 893.3,250.2 893.8,250 894.2,250.2 894.7,250.5 895.2,250.3 895.7,250.1 896.2,250.4 896.7,250.2 897.1,250.1 897.6,249.8 898.1,249.9 898.6,250.1 899.1,250.5 899.6,248.9 900,245.4 900.5,248.1 901,250 901.5,250.3 902,250 902.4,250.1 902.9,250 903.4,250.2 903.9,250.2 904.4,249.9" fill="none" stroke="#0000ff" stroke-width="3.7" stroke-linejoin="round" />
<polyline points="117.9,242.4 118.4,244.4 118.9,245.8 119.3,247.3 119.8,246.9 120.3,247.9 120.8,246.9 121.3,247.7 121.8,247.5 122.2,247.8 122.7,247.3 123.2,248.3 123.7,247.8 124.2,247.8 124.7,247.5 125.1,248 125.6,247.8 126.1,248 126.6,247.8 127.1,247.7 127.6,248.1 128,247.5 128.5,247.6 129,247.7 129.5,247.6 130,248.1 130.5,247.9 130.9,248.1 131.4,248 131.9,247.8 132.4,248.1 132.9,248.1 133.3,248.1 133.8,248.2 134.3,248.2 134.8,248 135.3,248.3 135.8,248 136.2,247.6 136.7,247.9 137.2,248.1 137.7,248.3 138.2,248.3 138.7,247.6 139.1,248.1 139.6,248.3 140.1,248.1 140.6,247.6 141.1,248.1 141.6,248 142,248.1 142.5,248.3 143,248.5 143.5,248.3 144,248.3 144.5,248.1 144.9,248 145.4,248 145.9,248.2 146.4,248.1 146.9,248.5 147.4,248 147.8,248.2 148.3,248.4 148.8,248.2 149.3,248.4 149.8,248.1 150.2,248 150.7,247.8 151.2,248.8 151.7,248.8 152.2,248.6 152.7,248.4 153.1,248.2 153.6,248.4 154.1,249 154.6,248.6 155.1,248.3 155.6,248.4 156,248.3 156.5,248.6 157,248.6 157.5,248.5 158,248.5 158.5,248.5 158.9,248.6 159.4,248.8 159.9,248.5 160.4,248.6 160.9,248.3 161.4,248.3 161.8,248.6 162.3,248.8 162.8,248.9 163.3,248.6 163.8,248.7 164.2,248.9 164.7,248.8 165.2,249 165.7,248.7 166.2,249 166.7,248.6 167.1,248.8 167.6,248.8 168.1,249.3 168.6,248.9 169.1,248.8 169.6,249.3 170,249.1 170.5,249.1 171,249.5 171.5,249 172,248.9 172.5,249.4 172.9,249.1 173.4,249.6 173.9,249.3 174.4,249.7 174.9,249 175.4,249.2 175.8,249.3 176.3,249.6 176.8,249 177.3,248.9 177.8,249.9 178.2,249.1 178.7,249 179.2,249.4 179.7,249.8 180.2,249.3 180.7,249.6 181.1,249.7 181.6,249.9 182.1,249.5 182.6,249.4 183.1,249.8 183.6,249.6 184,250 184.5,249.5 185,249.7 185.5,249.8 186,249.8 186.5,249.6 186.9,249.6 187.4,249.7 187.9,249.8 188.4,249.9 188.9,249.8 189.4,249.9 189.8,249.8 190.3,250.1 190.8,250.6 191.3,249.7 191.8,249.5 192.3,249.9 192.7,250.1 193.2,250.1 193.7,250.1 194.2,250.1 194.7,250.4 195.1,250.3 195.6,250.5 196.1,250.2 196.6,250.3 197.1,250.1 197.6,250.3 198,250 198.5,250.3 199,249.8 199.5,250.9 200,250.5 200.5,250.2 200.9,249.8 201.4,250.5 201.9,250.4 202.4,250.5 202.9,250.1 203.4,250.6 203.8,250.4 204.3,250.6 204.8,250.9 205.3,250.5 205.8,250.5 206.3,250.3 206.7,250.7 207.2,250.8 207.7,250.6 208.2,250.7 208.7,250.7 209.1,250.8 209.6,250.5 210.1,250.7 210.6,250.3 211.1,250.5 211.6,250.7 212,251.3 212.5,250.7 213,250.8 213.5,250.7 214,250.7 214.5,251.1 214.9,250.8 215.4,251.2 215.9,250.5 216.4,251.4 216.9,251.5 217.4,251.5 217.8,251.3 218.3,251.4 218.8,250.6 219.3,251.2 219.8,251.5 220.3,250.9 220.7,251.3 221.2,251.5 221.7,251 222.2,251.1 222.7,251.4 223.2,250.9 223.6,251.3 224.1,250.9 224.6,251.2 225.1,250.9 225.6,251.3 226,251.7 226.5,250.8 227,251.6 227.5,251.5 228,251.6 228.5,251.5 228.9,251.4 229.4,251.4 229.9,251.3 230.4,251.1 230.9,251.6 231.4,251.9 231.8,251.9 232.3,251.8 232.8,252.1 233.3,251.4 233.8,251.8 234.3,251.7 234.7,251.7 235.2,252.1 235.7,251.9 236.2,251.6 236.7,251.6 237.2,251.9 237.6,251.3 238.1,252.1 238.6,251.9 239.1,251.9 239.6,252.6 240,251.4 240.5,251.8 241,252.2 241.5,251.4 242,251.8 242.5,251.8 242.9,252.1 243.4,252 243.9,252.4 244.4,251.8 244.9,252.1 245.4,252 245.8,251.7 246.3,252 246.8,252 247.3,252 247.8,252.3 248.3,251.9 248.7,251.8 249.2,252 249.7,251.9 250.2,252.4 250.7,207.1 251.2,145.7 251.6,96.6 252.1,97 252.6,96.6 253.1,97.1 253.6,97 254,96.9 254.5,96.7 255,96.9 255.5,96.9 256,96.9 256.5,96.9 256.9,97.2 257.4,96.9 257.9,97 258.4,96.9 258.9,96.8 259.4,97.1 259.8,96.9 260.3,97 260.8,96.8 261.3,96.7 261.8,100.3 262.3,115.6 262.7,144.5 263.2,174.6 263.7,203.7 264.2,232.9 264.7,235 265.2,236.9 265.6,239.6 266.1,240.5 266.6,240.9 267.1,241.9 267.6,241.8 268.1,242.2 268.5,242 269,242.6 269.5,241.8 270,242.5 270.5,242.4 270.9,242.4 271.4,242.5 271.9,242.4 272.4,242.1 272.9,242.2 273.4,241.8 273.8,241.9 274.3,241.4 274.8,241.2 275.3,241.6 275.8,241 276.3,241.3 276.7,240.8 277.2,240.9 277.7,240.7 278.2,241.1 278.7,240.8 279.2,240.3 279.6,240.8 280.1,241.1 280.6,241 281.1,241 281.6,240.8 282.1,240.4 282.5,239.9 283,240.3 283.5,240.1 284,240.2 284.5,240.1 284.9,240.1 285.4,240.1 285.9,239.9 286.4,240.3 286.9,239.7 287.4,239.7 287.8,240 288.3,239.7 288.8,240.1 289.3,240 289.8,239.8 290.3,240 290.7,240.1 291.2,240.2 291.7,240.2 292.2,239.8 292.7,240.6 293.2,240 293.6,240.2 294.1,240 294.6,240.1 295.1,241 295.6,240.1 296.1,240.2 296.5,240.4 297,240.5 297.5,240.2 298,240.6 298.5,240 299,240.4 299.4,240.1 299.9,240.9 300.4,241.2 300.9,240.6 301.4,240.6 301.8,240.9 302.3,241.4 302.8,241.1 303.3,240.9 303.8,241.2 304.3,241.2 304.7,241.3 305.2,241.6 305.7,241.5 306.2,241.8 306.7,241 307.2,241.6 307.6,241.4 308.1,213.8 308.6,185.4 309.1,182.1 309.6,177.5 310.1,173.8 310.5,172.7 311,174.5 311.5,175.1 312,175.9 312.5,176.4 313,177.6 313.4,178.3 313.9,179.7 314.4,180.1 314.9,180.3 315.4,180.6 315.8,181.4 316.3,181.3 316.8,181.6 317.3,182.3 317.8,183.1 318.3,183.8 318.7,185.8 319.2,198.3 319.7,211.6 320.2,225.3 320.7,229.4 321.2,233.5 321.6,238.6 322.1,243.3 322.6,243.4 323.1,244.8 323.6,245.9 324.1,246.5 324.5,246.8 325,247.2 325.5,247 326,247.2 326.5,247.5 327,248 327.4,247.9 327.9,248.2 328.4,248.1 328.9,248 329.4,248.1 329.8,247.9 330.3,248.3 330.8,248.9 331.3,248.8 331.8,248.2 332.3,248.7 332.7,248.5 333.2,248.9 333.7,248.4 334.2,248.8 334.7,248.4 335.2,248.9 335.6,248.5 336.1,248.6 336.6,248.9 337.1,248.4 337.6,248.9 338.1,248.9 338.5,248.5 339,248.8 339.5,248.8 340,248.7 340.5,248.9 341,248.3 341.4,248.4 341.9,248.6 342.4,248.6 342.9,248.4 343.4,246.1 343.9,202.8 344.3,177.1 344.8,172.6 345.3,173.2 345.8,173.5 346.3,173.3 346.7,174.3 347.2,174.7 347.7,175.4 348.2,175.6 348.7,175.4 349.2,175.5 349.6,175 350.1,175.3 350.6,175 351.1,174.5 351.6,174.1 352.1,174.2 352.5,174 353,173.7 353.5,173.7 354,174.1 354.5,175.5 355,181 355.4,195.8 355.9,210.1 356.4,225.2 356.9,231.2 357.4,237.1 357.9,243.1 358.3,244 358.8,245 359.3,246.7 359.8,247.5 360.3,249 360.7,249.2 361.2,249.5 361.7,249.7 362.2,250.2 362.7,250.3 363.2,250.8 363.6,250.8 364.1,250.8 364.6,251.4 365.1,251.5 365.6,252 366.1,251.6 366.5,252 367,252.1 367.5,251.9 368,252.1 368.5,251.9 369,251.9 369.4,252.6 369.9,252.5 370.4,252.1 370.9,252.5 371.4,252.6 371.9,252.5 372.3,253 372.8,252.7 373.3,252.6 373.8,252.5 374.3,253.2 374.7,253.1 375.2,253 375.7,253.2 376.2,253.3 376.7,253.1 377.2,253.4 377.6,253.8 378.1,253.2 378.6,253.4 379.1,211.2 379.6,184.5 380.1,172.2 380.5,172.7 381,172.2 381.5,171.5 382,170.7 382.5,170.3 383,170.6 383.4,170.1 383.9,170.2 384.4,169.3 384.9,169.7 385.4,169.1 385.9,168.5 386.3,168.6 386.8,168 387.3,168.5 387.8,168 388.3,167.8 388.8,167.9 389.2,167.3 389.7,170.6 390.2,181.6 390.7,197.6 391.2,215.9 391.6,224.8 392.1,233.9 392.6,242.2 393.1,243.9 393.6,245.2 394.1,246.9 394.5,248 395,250.1 395.5,250.5 396,251.1 396.5,251.8 397,252.3 397.4,252.5 397.9,253.2 398.4,254.1 398.9,254.3 399.4,254.1 399.9,253.9 400.3,254.3 400.8,253.9 401.3,254.7 401.8,254.5 402.3,255.3 402.8,254.9 403.2,254.9 403.7,254.8 404.2,254.6 404.7,255.1 405.2,254.8 405.6,255.1 406.1,255.1 406.6,255.6 407.1,255.2 407.6,255.8 408.1,255.5 408.5,255.9 409,255.8 409.5,256.1 410,255.8 410.5,255.6 411,255.8 411.4,256.1 411.9,255.4 412.4,255.7 412.9,255.6 413.4,255.7 413.9,256.1 414.3,256.4 414.8,256.3 415.3,255.8 415.8,256.5 416.3,256.1 416.8,256.6 417.2,256.4 417.7,257.1 418.2,256.4 418.7,256.8 419.2,256.7 419.6,257 420.1,256.9 420.6,257.2 421.1,257.1 421.6,257.8 422.1,257.8 422.5,257.3 423,257.5 423.5,257.6 424,257.6 424.5,257.5 425,257.8 425.4,257.5 425.9,257.9 426.4,257.8 426.9,257.4 427.4,257.4 427.9,258 428.3,257.5 428.8,258 429.3,257.6 429.8,258.3 430.3,258.1 430.8,257.9 431.2,257.9 431.7,257.5 432.2,257.6 432.7,257.5 433.2,257.6 433.7,258 434.1,258 434.6,257.7 435.1,257.9 435.6,258 436.1,258.3 436.5,258 437,258.7 437.5,258.2 438,258.3 438.5,257.9 439,258.2 439.4,258.2 439.9,257.8 440.4,258.4 440.9,258.1 441.4,258.7 441.9,258.1 442.3,258.1 442.8,258 443.3,258.4 443.8,258.1 444.3,258.1 444.8,258.2 445.2,258.2 445.7,258.1 446.2,258.1 446.7,258.5 447.2,258.6 447.7,257.6 448.1,257.8 448.6,258.6 449.1,258.2 449.6,258.1 450.1,258.1 450.5,258.3 451,258.6 451.5,258.4 452,258.5 452.5,258.3 453,258.4 453.4,258.4 453.9,258.1 454.4,258 454.9,258.7 455.4,258.5 455.9,258.6 456.3,258.1 456.8,258.4 457.3,258 457.8,258.3 458.3,257.9 458.8,251.6 459.2,244.2 459.7,238 460.2,236.1 460.7,233.7 461.2,231.9 461.7,230.8 462.1,230.2 462.6,229.6 463.1,228.8 463.6,228.7 464.1,227.9 464.6,227.6 465,227.2 465.5,227.2 466,225.9 466.5,225.9 467,225.3 467.4,225.3 467.9,224.5 468.4,224.9 468.9,225.9 469.4,227 469.9,229.4 470.3,232.2 470.8,235 471.3,237 471.8,239.5 472.3,240.9 472.8,242.6 473.2,243.7 473.7,245.5 474.2,246.5 474.7,246.6 475.2,246.7 475.7,246.9 476.1,248.1 476.6,247.8 477.1,247.5 477.6,247.6 478.1,247.2 478.6,247.2 479,247 479.5,247.2 480,246.5 480.5,246.8 481,246.4 481.4,246.7 481.9,246.4 482.4,246.6 482.9,246.6 483.4,246.4 483.9,246.1 484.3,246.1 484.8,245.5 485.3,246.1 485.8,246 486.3,245.2 486.8,245.3 487.2,245.9 487.7,245.2 488.2,245.2 488.7,245.7 489.2,245.2 489.7,245 490.1,244.7 490.6,244.6 491.1,244.7 491.6,244.4 492.1,244.6 492.6,244.7 493,244.7 493.5,243.8 494,238.1 494.5,231 495,225.1 495.4,222.7 495.9,220.3 496.4,217.9 496.9,216.6 497.4,215.6 497.9,214.8 498.3,214.3 498.8,213.2 499.3,213.4 499.8,212.1 500.3,211.8 500.8,211.7 501.2,211.2 501.7,211.5 502.2,210.7 502.7,210.9 503.2,210.3 503.7,211.6 504.1,213.6 504.6,215.9 505.1,220.3 505.6,223.8 506.1,227.5 506.6,231.4 507,233.7 507.5,235.2 508,237.8 508.5,239.7 509,242.4 509.5,243.1 509.9,243.5 510.4,244.3 510.9,244.1 511.4,245.3 511.9,245.7 512.3,246.7 512.8,247.1 513.3,246.9 513.8,246.8 514.3,246.6 514.8,246.8 515.2,246.8 515.7,246.9 516.2,246.5 516.7,246.3 517.2,246.2 517.7,246.3 518.1,246.3 518.6,246 519.1,245.8 519.6,245.9 520.1,245.8 520.6,245.8 521,245.4 521.5,245.7 522,245.4 522.5,245.3 523,245.1 523.5,244.8 523.9,245 524.4,244.9 524.9,245.4 525.4,244.8 525.9,244.3 526.3,245 526.8,245 527.3,244.7 527.8,244.3 528.3,244.4 528.8,244.5 529.2,244 529.7,235.9 530.2,228.1 530.7,219.8 531.2,217.5 531.7,214.9 532.1,212.1 532.6,209.6 533.1,209.1 533.6,208.2 534.1,207.4 534.6,207.3 535,206.4 535.5,205.7 536,205.2 536.5,205 537,204.4 537.5,204.2 537.9,203.5 538.4,203.9 538.9,202.7 539.4,204.3 539.9,207.1 540.4,209.4 540.8,213.7 541.3,218.5 541.8,222.6 542.3,226.8 542.8,229.5 543.2,231.9 543.7,234.8 544.2,237.4 544.7,240.3 545.2,240.9 545.7,241.6 546.1,241.8 546.6,242.9 547.1,244 547.6,244.3 548.1,245.2 548.6,246.7 549,246 549.5,246.4 550,245.8 550.5,246.1 551,246.1 551.5,245.5 551.9,245.9 552.4,245.5 552.9,245.3 553.4,245.1 553.9,245 554.4,245.1 554.8,245.3 555.3,244.5 555.8,245 556.3,244.3 556.8,244.8 557.2,244.3 557.7,244.3 558.2,244.8 558.7,244.3 559.2,244.1 559.7,244.1 560.1,244.2 560.6,244 561.1,244.1 561.6,244.2 562.1,243.6 562.6,243.9 563,243.4 563.5,243.5 564,243.9 564.5,243.7 565,243.7 565.5,243.8 565.9,243.4 566.4,243.6 566.9,243 567.4,243.2 567.9,243.6 568.4,243.3 568.8,243.4 569.3,243.7 569.8,243 570.3,243 570.8,242.9 571.2,243.2 571.7,242.8 572.2,243.2 572.7,242.9 573.2,242.7 573.7,243.2 574.1,243.7 574.6,243.4 575.1,243.2 575.6,243.1 576.1,243.7 576.6,243.5 577,243.4 577.5,243.4 578,243.3 578.5,243.8 579,243.7 579.5,243.4 579.9,243.5 580.4,243.6 580.9,243.4 581.4,243.7 581.9,243.6 582.4,243.9 582.8,244.2 583.3,244.3 583.8,244 584.3,244.1 584.8,244.2 585.3,244 585.7,244.4 586.2,244.2 586.7,244.3 587.2,244.5 587.7,245 588.1,244 588.6,244.4 589.1,245.2 589.6,244.7 590.1,244.5 590.6,244.7 591,244.6 591.5,245 592,244.8 592.5,244.9 593,245 593.5,245 593.9,245 594.4,244.8 594.9,245.3 595.4,245.3 595.9,245.2 596.4,245.3 596.8,245.2 597.3,245.2 597.8,245.1 598.3,245.5 598.8,246.1 599.3,245.6 599.7,245.5 600.2,245.7 600.7,245.7 601.2,246.3 601.7,245.6 602.1,245.9 602.6,246.2 603.1,246.1 603.6,246.1 604.1,245.8 604.6,245.9 605,245.6 605.5,245.9 606,246.5 606.5,246.5 607,246.1 607.5,246.3 607.9,247 608.4,261.1 608.9,280.7 609.4,293.8 609.9,298.1 610.4,298.4 610.8,299 611.3,299.4 611.8,299.7 612.3,299.6 612.8,299.5 613.3,300.1 613.7,299.8 614.2,300.6 614.7,300.6 615.2,300.4 615.7,300.6 616.1,300.2 616.6,300.7 617.1,300.2 617.6,300.3 618.1,299.5 618.6,300.1 619,299.7 619.5,297.7 620,291 620.5,281.2 621,273.7 621.5,269.4 621.9,266.2 622.4,264.1 622.9,261.4 623.4,259.9 623.9,259 624.4,258.8 624.8,258.1 625.3,257.1 625.8,257.3 626.3,256.6 626.8,255.9 627.3,255.4 627.7,255.4 628.2,254.8 628.7,255 629.2,255 629.7,254.9 630.2,254.7 630.6,254.7 631.1,254.6 631.6,254.6 632.1,254.2 632.6,254.2 633,254.4 633.5,254 634,254 634.5,254.3 635,253.6 635.5,253.2 635.9,253 636.4,253.1 636.9,253.7 637.4,253.1 637.9,253.1 638.4,253.8 638.8,253 639.3,253 639.8,253.1 640.3,253 640.8,253 641.3,252.5 641.7,253 642.2,253.1 642.7,253.1 643.2,262.9 643.7,280.4 644.2,294 644.6,299.8 645.1,300.3 645.6,300.9 646.1,301.5 646.6,302.1 647,302.2 647.5,302.5 648,302.5 648.5,303 649,303.4 649.5,303.1 649.9,304.2 650.4,304.5 650.9,304.3 651.4,304.7 651.9,305.3 652.4,305.1 652.8,305.5 653.3,305.2 653.8,305.9 654.3,305.1 654.8,300.3 655.3,286.6 655.7,277 656.2,273.5 656.7,271.6 657.2,269.2 657.7,267.6 658.2,266.4 658.6,266.3 659.1,265.1 659.6,265.4 660.1,263.8 660.6,263.5 661,263.2 661.5,262.8 662,262.4 662.5,261.7 663,261.8 663.5,262.1 663.9,261.5 664.4,260.8 664.9,261.2 665.4,261.1 665.9,261.1 666.4,260.8 666.8,260.7 667.3,260.7 667.8,260.3 668.3,260.6 668.8,260.3 669.3,260 669.7,260.1 670.2,260.2 670.7,259.7 671.2,259.9 671.7,259.7 672.2,259.7 672.6,259.4 673.1,259.3 673.6,259.2 674.1,258.8 674.6,258.4 675.1,258.9 675.5,258.5 676,258.6 676.5,258.4 677,258 677.5,258.2 677.9,258.4 678.4,258.5 678.9,264.8 679.4,280.4 679.9,296.5 680.4,303.6 680.8,304.1 681.3,304.6 681.8,305.4 682.3,305.1 682.8,305.7 683.3,305.5 683.7,306.7 684.2,306.2 684.7,307 685.2,307.2 685.7,307.6 686.2,307.9 686.6,308.1 687.1,307.9 687.6,308.5 688.1,308.4 688.6,308.5 689.1,308.4 689.5,308.8 690,308.9 690.5,305.3 691,294.6 691.5,283.8 691.9,281.4 692.4,278.6 692.9,276.2 693.4,275 693.9,274.2 694.4,272.9 694.8,272.5 695.3,271.9 695.8,271.4 696.3,270.4 696.8,270.4 697.3,269.8 697.7,269.1 698.2,268.8 698.7,268.6 699.2,268.4 699.7,267.8 700.2,267.3 700.6,267.8 701.1,267.2 701.6,266.6 702.1,266.6 702.6,266.9 703.1,266.5 703.5,266.3 704,266.2 704.5,265.9 705,265.5 705.5,265.6 706,265.1 706.4,265.2 706.9,265.2 707.4,264.7 707.9,264.7 708.4,264.6 708.8,264.3 709.3,264.2 709.8,264.3 710.3,263.9 710.8,263.9 711.3,263.1 711.7,263.4 712.2,263.3 712.7,263.1 713.2,263.3 713.7,262.8 714.2,263.1 714.6,263.3 715.1,263.1 715.6,262.8 716.1,263.3 716.6,262.8 717.1,262.9 717.5,262.5 718,262.8 718.5,262.1 719,262.3 719.5,262.8 720,261.9 720.4,262.4 720.9,262.5 721.4,262.5 721.9,262 722.4,261.7 722.8,262.2 723.3,262.2 723.8,262.2 724.3,261.5 724.8,261.4 725.3,261.9 725.7,261.6 726.2,261.7 726.7,261.7 727.2,261.4 727.7,261.5 728.2,261.5 728.6,261.6 729.1,261.3 729.6,261.6 730.1,261.5 730.6,261.4 731.1,261.7 731.5,261.4 732,261.4 732.5,261.3 733,261.6 733.5,261.5 734,260.8 734.4,260.9 734.9,260.9 735.4,260.6 735.9,261 736.4,261.1 736.8,260.9 737.3,261.5 737.8,261.2 738.3,260.7 738.8,260.9 739.3,261.2 739.7,260.6 740.2,260.5 740.7,260.6 741.2,260.7 741.7,260.9 742.2,260.7 742.6,260.6 743.1,260.7 743.6,260.5 744.1,260.5 744.6,260.5 745.1,261.1 745.5,260.3 746,260.1 746.5,260.6 747,260.9 747.5,260.3 748,260.6 748.4,260.7 748.9,260.1 749.4,260.7 749.9,260.2 750.4,260.7 750.9,259.9 751.3,260.1 751.8,260.3 752.3,260.2 752.8,260.1 753.3,260 753.7,260 754.2,260 754.7,260.3 755.2,259.9 755.7,260.4 756.2,259.8 756.6,259.7 757.1,259.6 757.6,260 758.1,259.8 758.6,259.6 759.1,259.6 759.5,259.8 760,258.6 760.5,257.6 761,256.4 761.5,256.2 762,255.4 762.4,254.8 762.9,254.7 763.4,254.9 763.9,254.9 764.4,254.9 764.9,254.9 765.3,254.9 765.8,255 766.3,254.1 766.8,255.1 767.3,255.2 767.7,255.1 768.2,255.7 768.7,256 769.2,256.3 769.7,256.5 770.2,257.2 770.6,258.3 771.1,257.8 771.6,258.3 772.1,258.1 772.6,258.2 773.1,257.8 773.5,258.1 774,257.7 774.5,257.8 775,258 775.5,257.9 776,257.6 776.4,258 776.9,257.6 777.4,257.9 777.9,257.8 778.4,257.7 778.9,257.5 779.3,257.7 779.8,257.8 780.3,257.7 780.8,258.2 781.3,257.4 781.8,258.2 782.2,257.6 782.7,258 783.2,257.7 783.7,257.8 784.2,257.7 784.6,258 785.1,258.4 785.6,257.7 786.1,257.9 786.6,257.9 787.1,258 787.5,257.2 788,257.9 788.5,257.7 789,258.1 789.5,257.3 790,257.9 790.4,258.4 790.9,257 791.4,258 791.9,257.4 792.4,257.5 792.9,256.3 793.3,255.4 793.8,254.2 794.3,252.8 794.8,253.2 795.3,253.1 795.8,252.9 796.2,253.1 796.7,253.3 797.2,252.8 797.7,253.1 798.2,253.2 798.6,253.3 799.1,253.4 799.6,252.9 800.1,252.9 800.6,253.7 801.1,254 801.5,254.3 802,254.7 802.5,255.1 803,255.7 803.5,255.9 804,256.8 804.4,256.4 804.9,256.9 805.4,256.8 805.9,256.5 806.4,256 806.9,256.4 807.3,256.5 807.8,256.6 808.3,256.9 808.8,256.4 809.3,256.7 809.8,256.5 810.2,256.8 810.7,256.5 811.2,257 811.7,256.4 812.2,256.2 812.6,256.3 813.1,256 813.6,256.5 814.1,256.4 814.6,256.4 815.1,256.8 815.5,256 816,256.3 816.5,256.6 817,256.7 817.5,256.3 818,256.3 818.4,256.5 818.9,256.4 819.4,256.5 819.9,256.5 820.4,256.1 820.9,256.1 821.3,256.9 821.8,256.4 822.3,256.8 822.8,256.8 823.3,256.3 823.8,256.7 824.2,257.3 824.7,256.3 825.2,256.1 825.7,255.9 826.2,256.5 826.7,256 827.1,257.1 827.6,256 828.1,255 828.6,254.3 829.1,253.7 829.5,253.3 830,253.2 830.5,252.7 831,253 831.5,252.7 832,253.4 832.4,253.1 832.9,253.3 833.4,252.9 833.9,253.2 834.4,253.2 834.9,253.5 835.3,253.1 835.8,252.8 836.3,253.3 836.8,254.8 837.3,254.9 837.8,254.1 838.2,254.9 838.7,255.1 839.2,255 839.7,255.3 840.2,255.5 840.7,255.4 841.1,254.8 841.6,255.6 842.1,254.9 842.6,255.3 843.1,255.3 843.5,254.8 844,255.4 844.5,255 845,255.3 845.5,255.6 846,255.3 846.4,254.9 846.9,255.2 847.4,255 847.9,255.1 848.4,255.2 848.9,255.3 849.3,255.1 849.8,255.7 850.3,255.3 850.8,255.6 851.3,255.1 851.8,255 852.2,255.3 852.7,254.9 853.2,255 853.7,255 854.2,255.2 854.7,254.9 855.1,254.8 855.6,255.2 856.1,255.3 856.6,254.7 857.1,255.6 857.5,255.7 858,255.5 858.5,255 859,255 859.5,254.9 860,255 860.4,254.6 860.9,254.6 861.4,254.7 861.9,255.2 862.4,254.8 862.9,255.2 863.3,255.1 863.8,255.2 864.3,254.9 864.8,254.8 865.3,254.9 865.8,255.2 866.2,255.3 866.7,255.1 867.2,255.1 867.7,254.7 868.2,255 868.7,254.9 869.1,254.9 869.6,254.6 870.1,254.5 870.6,254.8 871.1,254.9 871.6,254.5 872,254.8 872.5,255 873,254.6 873.5,254.8 874,255.3 874.4,254.7 874.9,254.8 875.4,255.4 875.9,255.4 876.4,254.8 876.9,254.7 877.3,254.7 877.8,255.2 878.3,255 878.8,254.7 879.3,255.3 879.8,254.9 880.2,254.8 880.7,254.6 881.2,255.5 881.7,254.8 882.2,254.4 882.7,255 883.1,255 883.6,254.6 884.1,255.1 884.6,254.6 885.1,254.7 885.6,255.3 886,254.9 886.5,255.3 887,254.6 887.5,255.3 888,255.4 888.4,255.2 888.9,255.1 889.4,254.5 889.9,254.9 890.4,254.8 890.9,254.6 891.3,255.1 891.8,255 892.3,255.1 892.8,254.7 893.3,254.5 893.8,254.8 894.2,255 894.7,255 895.2,255.2 895.7,254.7 896.2,255.2 896.7,255 897.1,255.2 897.6,255.4 898.1,255.5 898.6,255.1 899.1,254.8 899.6,255 900,254.9 900.5,255.2 901,255.1 901.5,255.2 902,254.8 902.4,254.3 902.9,254.9 903.4,255.2 903.9,254.6 904.4,255.1 904.5,275.8" fill="none" stroke="#ff0000" stroke-width="3.8" stroke-linejoin="round" />
</g>
<rect x="117.2" y="75" width="788.8" height="261.6" fill="none" stroke="#262626" stroke-width="1.3" />
<text x="213.3" y="372.2" font-size="24" text-anchor="middle" fill="#262626"  letter-spacing="0.35">200</text>
<text x="309.8" y="372.2" font-size="24" text-anchor="middle" fill="#262626"  letter-spacing="0.35">400</text>
<text x="406.4" y="372.2" font-size="24" text-anchor="middle" fill="#262626"  letter-spacing="0.35">600</text>
<text x="503" y="372.2" font-size="24" text-anchor="middle" fill="#262626"  letter-spacing="0.35">800</text>
<text x="599.5" y="372.2" font-size="24" text-anchor="middle" fill="#262626"  letter-spacing="0.35">1000</text>
<text x="696.1" y="372.2" font-size="24" text-anchor="middle" fill="#262626"  letter-spacing="0.35">1200</text>
<text x="792.6" y="372.2" font-size="24" text-anchor="middle" fill="#262626"  letter-spacing="0.35">1400</text>
<text x="889.2" y="372.2" font-size="24" text-anchor="middle" fill="#262626"  letter-spacing="0.35">1600</text>
<text x="106.2" y="346.9" font-size="24" text-anchor="end" fill="#262626" >0</text>
<text x="106.2" y="259.7" font-size="24" text-anchor="end" fill="#262626" >2</text>
<text x="106.2" y="172.5" font-size="24" text-anchor="end" fill="#262626" >4</text>
<text x="106.2" y="85.3" font-size="24" text-anchor="end" fill="#262626" >6</text>
<text x="915.8" y="346.9" font-size="24" text-anchor="start" fill="#262626"  letter-spacing="0.35">-2</text>
<text x="915.8" y="259.7" font-size="24" text-anchor="start" fill="#262626" >0</text>
<text x="915.8" y="172.5" font-size="24" text-anchor="start" fill="#262626" >2</text>
<text x="915.8" y="85.3" font-size="24" text-anchor="start" fill="#262626" >4</text>
<text x="118.4" y="70.2" font-size="24" fill="#262626"><tspan font-size="27" dy="2.5">×</tspan><tspan dy="-2.5" dx="3.2">10</tspan><tspan dy="-11.5" dx="0.5" font-size="19.2">-4</tspan></text>
<text x="906.7" y="61.8" font-size="24" fill="#262626"><tspan font-size="27" dy="2.5">×</tspan><tspan dy="-2.5" dx="3.2">10</tspan><tspan dy="-11.5" dx="0.5" font-size="19.2">-4</tspan></text>
<text x="78.3" y="202.2" font-size="27" text-anchor="middle" fill="#262626" transform="rotate(-90 78.3 202.2)"  letter-spacing="0.085">Raw data</text>
<text x="974" y="205.8" font-size="27" text-anchor="middle" fill="#262626" transform="rotate(-90 974 205.8)"  letter-spacing="0.085">Prepro. data</text>
<text x="511.8" y="407.6" font-size="27" text-anchor="middle" fill="#262626"  letter-spacing="0.085">Cycle number</text>
<line x1="189.2" y1="113.2" x2="189.2" y2="336.6" stroke="#000000" stroke-width="5" />
<rect x="167.9" y="67.4" width="42.6" height="45.8" fill="#ffffff" stroke="#000000" stroke-width="1.4" />
<text x="189.2" y="100.8" font-size="24" text-anchor="middle" fill="#000" >01</text>
<line x1="385" y1="113.2" x2="385" y2="336.6" stroke="#99cc00" stroke-width="5" />
<rect x="363.7" y="67.4" width="42.6" height="45.8" fill="#ffffff" stroke="#99cc00" stroke-width="1.4" />
<text x="385" y="100.8" font-size="24" text-anchor="middle" fill="#000" >02</text>
<line x1="535.7" y1="113.2" x2="535.7" y2="336.6" stroke="#ff9900" stroke-width="5" />
<rect x="514.4" y="67.4" width="42.6" height="45.8" fill="#ffffff" stroke="#ff9900" stroke-width="1.4" />
<text x="535.7" y="100.8" font-size="24" text-anchor="middle" fill="#000" >03</text>
<line x1="215.7" y1="698.1" x2="215.7" y2="689.6" stroke="#262626" stroke-width="1.3" />
<line x1="215.7" y1="438.4" x2="215.7" y2="446.9" stroke="#262626" stroke-width="1.3" />
<line x1="314.3" y1="698.1" x2="314.3" y2="689.6" stroke="#262626" stroke-width="1.3" />
<line x1="314.3" y1="438.4" x2="314.3" y2="446.9" stroke="#262626" stroke-width="1.3" />
<line x1="412.9" y1="698.1" x2="412.9" y2="689.6" stroke="#262626" stroke-width="1.3" />
<line x1="412.9" y1="438.4" x2="412.9" y2="446.9" stroke="#262626" stroke-width="1.3" />
<line x1="511.5" y1="698.1" x2="511.5" y2="689.6" stroke="#262626" stroke-width="1.3" />
<line x1="511.5" y1="438.4" x2="511.5" y2="446.9" stroke="#262626" stroke-width="1.3" />
<line x1="610.1" y1="698.1" x2="610.1" y2="689.6" stroke="#262626" stroke-width="1.3" />
<line x1="610.1" y1="438.4" x2="610.1" y2="446.9" stroke="#262626" stroke-width="1.3" />
<line x1="708.7" y1="698.1" x2="708.7" y2="689.6" stroke="#262626" stroke-width="1.3" />
<line x1="708.7" y1="438.4" x2="708.7" y2="446.9" stroke="#262626" stroke-width="1.3" />
<line x1="807.3" y1="698.1" x2="807.3" y2="689.6" stroke="#262626" stroke-width="1.3" />
<line x1="807.3" y1="438.4" x2="807.3" y2="446.9" stroke="#262626" stroke-width="1.3" />
<line x1="117.1" y1="698.1" x2="125.6" y2="698.1" stroke="#262626" stroke-width="1.3" />
<line x1="117.1" y1="633.2" x2="125.6" y2="633.2" stroke="#262626" stroke-width="1.3" />
<line x1="117.1" y1="568.3" x2="125.6" y2="568.3" stroke="#262626" stroke-width="1.3" />
<line x1="117.1" y1="503.3" x2="125.6" y2="503.3" stroke="#262626" stroke-width="1.3" />
<line x1="117.1" y1="438.4" x2="125.6" y2="438.4" stroke="#262626" stroke-width="1.3" />
<line x1="906" y1="698.1" x2="897.5" y2="698.1" stroke="#262626" stroke-width="1.3" />
<line x1="906" y1="611.5" x2="897.5" y2="611.5" stroke="#262626" stroke-width="1.3" />
<line x1="906" y1="525" x2="897.5" y2="525" stroke="#262626" stroke-width="1.3" />
<line x1="906" y1="438.4" x2="897.5" y2="438.4" stroke="#262626" stroke-width="1.3" />
<clipPath id="clipA2"><rect x="117.1" y="438.4" width="788.9" height="259.7"/></clipPath>
<g clip-path="url(#clipA2)">
<polyline points="117.1,471.2 118,470.8 118.9,470.8 119.7,470.1 120.6,471 121.5,471.2 122.4,471.5 123.2,471.5 124.1,472 125,472.1 125.9,472 126.8,473.2 127.6,473.5 128.5,474.1 129.4,473.7 130.3,473.7 131.1,473.9 132,473.7 132.9,475.1 133.8,474.4 134.6,474.6 135.5,475.2 136.4,476.2 137.3,475.8 138.2,475.5 139,475.8 139.9,476.5 140.8,476.3 141.7,476.2 142.5,476.6 143.4,477.2 144.3,477.8 145.2,476.5 146.1,476.9 146.9,476.9 147.8,476.3 148.7,477.1 149.6,477.2 150.4,478.2 151.3,477.8 152.2,477.2 153.1,478.3 154,477.9 154.8,477.4 155.7,477.9 156.6,477.9 157.5,477.8 158.3,478.2 159.2,477.2 160.1,478 161,478.5 161.8,478.4 162.7,478.4 163.6,478.3 164.5,478.4 165.4,477.1 166.2,477.8 167.1,476.4 168,476.9 168.9,476.1 169.7,477.3 170.6,477.3 171.5,476.4 172.4,477.2 173.3,475.9 174.1,476.1 175,475.9 175.9,475.2 176.8,475.7 177.6,476.2 178.5,474.6 179.4,475.3 180.3,474.6 181.2,475.2 182,474.4 182.9,474.2 183.8,473.9 184.7,473.5 185.5,472.4 186.4,473.4 187.3,471.9 188.2,472.3 189,472.2 189.9,471.2 190.8,471.3 191.7,471.5 192.6,470.7 193.4,470 194.3,468.7 195.2,469.3 196.1,469.2 196.9,468.9 197.8,468.4 198.7,468.7 199.6,467.9 200.5,467.9 201.3,467.9 202.2,466.9 203.1,466.9 204,467.7 204.8,466.8 205.7,465.5 206.6,465.8 207.5,465.8 208.4,465.8 209.2,465.1 210.1,464.5 211,464.1 211.9,464.5 212.7,464 213.6,463.4 214.5,463.3 215.4,462.9 216.2,463.2 217.1,462.3 218,462.5 218.9,462.4 219.8,462 220.6,461.1 221.5,461.8 222.4,460.7 223.3,460.9 224.1,460.1 225,459.4 225.9,460 226.8,459.8 227.7,459.4 228.5,459.3 229.4,458.7 230.3,458.4 231.2,458.5 232,459.2 232.9,458.5 233.8,457.8 234.7,458.1 235.6,457.4 236.4,457.3 237.3,457.7 238.2,457 239.1,456.3 239.9,456.5 240.8,456.8 241.7,456.7 242.6,457.1 243.4,456.1 244.3,456.6 245.2,456.3 246.1,455.9 247,456.2 247.8,455.9 248.7,455.2 249.6,456 250.5,454.8 251.3,455.3 252.2,455.2 253.1,455.3 254,454.7 254.9,455 255.7,454.9 256.6,455.4 257.5,454.6 258.4,455 259.2,454.9 260.1,454.5 261,456.3 261.9,455.2 262.8,454.6 263.6,456.1 264.5,455.1 265.4,455.8 266.3,456.2 267.1,455.7 268,455.9 268.9,456 269.8,456.3 270.6,455.8 271.5,456.1 272.4,456.8 273.3,457.4 274.2,457.4 275,458 275.9,457.7 276.8,457.3 277.7,457.6 278.5,456.9 279.4,457.5 280.3,457.6 281.2,458.4 282.1,458.7 282.9,458.3 283.8,458.4 284.7,458.1 285.6,458.9 286.4,459.2 287.3,459.4 288.2,459 289.1,460.4 290,460.2 290.8,459.7 291.7,459.7 292.6,459.9 293.5,460.2 294.3,460.3 295.2,460.6 296.1,460.9 297,461.3 297.8,461.4 298.7,460.9 299.6,461.3 300.5,461.1 301.4,461.1 302.2,462.4 303.1,461.4 304,462.7 304.9,461.8 305.7,462.2 306.6,462.7 307.5,462.3 308.4,462.6 309.3,462.5 310.1,462.5 311,462.8 311.9,462.7 312.8,463.9 313.6,463.2 314.5,464.2 315.4,462.3 316.3,463.6 317.2,464 318,463.7 318.9,464.4 319.8,464.3 320.7,463.9 321.5,464.3 322.4,465.4 323.3,464.2 324.2,464.3 325,463.9 325.9,464.2 326.8,463.5 327.7,463.9 328.6,465.1 329.4,464.4 330.3,464.1 331.2,464.2 332.1,464.5 332.9,463.9 333.8,464.4 334.7,463.9 335.6,463.4 336.5,464 337.3,462.1 338.2,462.8 339.1,463.1 340,462.5 340.8,462.8 341.7,462.5 342.6,462.4 343.5,463.8 344.4,462.8 345.2,462.4 346.1,462.9 347,462.1 347.9,462.6 348.7,462.2 349.6,462.7 350.5,461.3 351.4,462.2 352.2,461.8 353.1,461.1 354,462 354.9,461.1 355.8,462.1 356.6,461.5 357.5,461.5 358.4,461.1 359.3,461.4 360.1,460.1 361,460.8 361.9,460.4 362.8,460.8 363.7,460.5 364.5,460.7 365.4,460 366.3,461.1 367.2,461.2 368,460 368.9,460 369.8,460.1 370.7,460.5 371.6,460.7 372.4,459.2 373.3,459.4 374.2,459.2 375.1,459.1 375.9,458.9 376.8,459.7 377.7,459 378.6,460.2 379.4,459.9 380.3,459.1 381.2,459 382.1,459.2 383,460.1 383.8,459.1 384.7,458.8 385.6,459.5 386.5,459.7 387.3,459.2 388.2,460.2 389.1,459.6 390,459.7 390.9,459.1 391.7,459.5 392.6,459.5 393.5,458.5 394.4,459.7 395.2,458.8 396.1,459.7 397,459.1 397.9,460.7 398.8,460 399.6,460.3 400.5,460.5 401.4,459.6 402.3,459.3 403.1,460.3 404,461 404.9,460.8 405.8,461.3 406.6,461.5 407.5,460.6 408.4,461.5 409.3,462.5 410.2,461.5 411,461 411.9,462 412.8,462.1 413.7,462.7 414.5,462.3 415.4,462.9 416.3,462 417.2,463.6 418.1,464.1 418.9,464.2 419.8,463.1 420.7,464.1 421.6,462.8 422.4,464.4 423.3,464.4 424.2,464.2 425.1,465 426,465.1 426.8,465.6 427.7,465.4 428.6,465.7 429.5,464.9 430.3,465.4 431.2,465.9 432.1,466.5 433,466.5 433.8,467.4 434.7,466.6 435.6,467.1 436.5,467.5 437.4,467.5 438.2,468.1 439.1,467.9 440,469 440.9,468.5 441.7,469.4 442.6,469.2 443.5,470.2 444.4,469.1 445.3,470.3 446.1,470.1 447,470.7 447.9,471.4 448.8,470.7 449.6,470.9 450.5,471.3 451.4,472.2 452.3,471.5 453.2,472.7 454,472.3 454.9,472.7 455.8,473.3 456.7,473.9 457.5,473.8 458.4,474.1 459.3,474.6 460.2,474.8 461,474 461.9,475.3 462.8,475.8 463.7,476.6 464.6,477.3 465.4,476.9 466.3,477 467.2,476.8 468.1,477.6 468.9,478.2 469.8,478.7 470.7,478 471.6,478.8 472.5,479.4 473.3,480.2 474.2,479.8 475.1,479.8 476,480.1 476.8,480.6 477.7,480.9 478.6,481.9 479.5,482.4 480.4,482.7 481.2,483.3 482.1,483 483,483.8 483.9,483.9 484.7,484.5 485.6,485.5 486.5,485.4 487.4,485 488.2,486.1 489.1,486.4 490,486.5 490.9,487.2 491.8,488.5 492.6,489.2 493.5,488.7 494.4,489.8 495.3,490.4 496.1,489.8 497,490.7 497.9,491.2 498.8,491.8 499.7,491.5 500.5,492.6 501.4,493.7 502.3,494.3 503.2,495.1 504,494.6 504.9,496.2 505.8,496.2 506.7,497.5 507.6,502 508.4,505 509.3,509 510.2,512.2 511.1,512.6 511.9,509.6 512.8,506.5 513.7,503.6 514.6,499.9 515.4,498.2 516.3,498.6 517.2,498.9 518.1,500.1 519,501.4 519.8,502.2 520.7,503.5 521.6,505 522.5,504.2 523.3,505 524.2,504.9 525.1,505.5 526,506.8 526.9,506.9 527.7,506.6 528.6,507.3 529.5,507.3 530.4,507.7 531.2,508 532.1,508.4 533,509.3 533.9,509.7 534.8,510 535.6,510 536.5,509.8 537.4,510.7 538.3,510.6 539.1,511.7 540,511.8 540.9,512.2 541.8,511.9 542.6,511.5 543.5,513 544.4,513.3 545.3,512.4 546.2,513.3 547,514 547.9,513.2 548.8,514.7 549.7,514 550.5,513.9 551.4,515.2 552.3,514.9 553.2,514.7 554.1,515.6 554.9,514.5 555.8,516.4 556.7,515.4 557.6,516.1 558.4,516 559.3,516.5 560.2,516.9 561.1,516.2 562,517 562.8,516.6 563.7,516.5 564.6,516.8 565.5,516.4 566.3,516.6 567.2,517.3 568.1,516.8 569,517.4 569.8,517 570.7,516.3 571.6,515.8 572.5,516.3 573.4,516.7 574.2,516.5 575.1,516 576,516.7 576.9,515.4 577.7,515.4 578.6,515.9 579.5,516.7 580.4,515.7 581.3,514.9 582.1,515.5 583,515.3 583.9,515.2 584.8,514.4 585.6,513.9 586.5,514.1 587.4,514 588.3,514.2 589.2,514.2 590,512.6 590.9,512.4 591.8,512.4 592.7,512 593.5,512 594.4,511.7 595.3,511.3 596.2,511.5 597,510.5 597.9,509.7 598.8,509.2 599.7,509.1 600.6,508.7 601.4,508 602.3,508.8 603.2,508.2 604.1,507.6 604.9,507 605.8,506.3 606.7,506.3 607.6,507.2 608.5,505 609.3,505.7 610.2,505.6 611.1,504.9 612,504.4 612.8,504.5 613.7,503.3 614.6,503.7 615.5,503.7 616.4,502.2 617.2,501.9 618.1,502 619,502 619.9,501.8 620.7,501.2 621.6,500.2 622.5,499.6 623.4,499.9 624.2,499.6 625.1,498.5 626,498.7 626.9,498.5 627.8,498.4 628.6,497.1 629.5,497.5 630.4,496.3 631.3,496.3 632.1,496.1 633,496.5 633.9,496.9 634.8,495.2 635.7,494.9 636.5,494.8 637.4,493.4 638.3,494 639.2,492.7 640,493.7 640.9,493.2 641.8,492.5 642.7,491.5 643.6,492.3 644.4,491.4 645.3,491 646.2,490.8 647.1,489.5 647.9,490.1 648.8,490 649.7,489.4 650.6,489 651.4,488.2 652.3,488.6 653.2,488 654.1,487.6 655,487 655.8,487.3 656.7,487.2 657.6,486.5 658.5,486.4 659.3,486.2 660.2,486 661.1,485.1 662,484.6 662.9,484.1 663.7,484 664.6,483.9 665.5,483.8 666.4,482.8 667.2,482.8 668.1,481.9 669,482.6 669.9,481.5 670.8,481.5 671.6,480.7 672.5,480.6 673.4,480.1 674.3,480.8 675.1,479.9 676,479.4 676.9,478.7 677.8,478.5 678.6,478.8 679.5,478.9 680.4,477.3 681.3,477.2 682.2,477.2 683,476.8 683.9,476 684.8,476.5 685.7,476.6 686.5,475.3 687.4,475.8 688.3,475.9 689.2,475.6 690.1,474.8 690.9,475.7 691.8,474.7 692.7,473.8 693.6,474.4 694.4,473.2 695.3,473.8 696.2,472.6 697.1,473.3 698,472.4 698.8,473 699.7,472.5 700.6,472.1 701.5,471.7 702.3,471.9 703.2,470.4 704.1,471.1 705,470.9 705.8,470.7 706.7,470.6 707.6,471.7 708.5,469.8 709.4,470 710.2,469.5 711.1,469.9 712,468.1 712.9,469.6 713.7,468.4 714.6,467.6 715.5,468 716.4,468.3 717.3,468.4 718.1,468.2 719,468.5 719.9,468 720.8,467.9 721.6,466.9 722.5,468 723.4,468.2 724.3,467.5 725.2,466.8 726,467 726.9,468.3 727.8,467.2 728.7,467.1 729.5,467 730.4,467.6 731.3,466.9 732.2,466.8 733,466.4 733.9,467 734.8,467.4 735.7,466.8 736.6,467.2 737.4,466.9 738.3,466.8 739.2,466.7 740.1,466.6 740.9,467 741.8,466.7 742.7,466.2 743.6,466.4 744.5,466.3 745.3,466.5 746.2,466.3 747.1,466.3 748,465.4 748.8,466.2 749.7,466.6 750.6,465.4 751.5,466.7 752.4,466 753.2,465.8 754.1,465 755,466.3 755.9,465.4 756.7,465.5 757.6,466 758.5,465.3 759.4,465.3 760.2,465.2 761.1,465.6 762,465.9 762.9,465.8 763.8,465.8 764.6,465.4 765.5,465.6 766.4,465.3 767.3,466.4 768.1,465.6 769,464.6 769.9,465 770.8,466.2 771.7,464.8 772.5,465.2 773.4,465.6 774.3,464.9 775.2,465.9 776,466.1 776.9,465 777.8,465.8 778.7,464.9 779.6,464.8 780.4,465.4 781.3,465.4 782.2,465 783.1,465.6 783.9,464.5 784.8,464.8 785.7,464.7 786.6,465.5 787.4,465.5 788.3,465.4 789.2,464.5 790.1,465.1 791,465.3 791.8,464.3 792.7,464.7 793.6,465.3 794.5,465.3 795.3,465.1 796.2,465.2 797.1,465.1 798,465 798.9,464.8 799.7,464.5 800.6,464.7 801.5,464.7 802.4,465.9 803.2,464.9 804.1,464.8 805,464.7 805.9,464.7 806.8,464.6 807.6,465 808.5,464.7 809.4,465 810.3,464.4 811.1,464.8 812,465 812.9,464.1 813.8,464.7 814.6,464.7 815.5,464.4 816.4,464.3 817.3,463.7 818.2,465.1 819,464.1 819.9,464 820.8,464.8 821.7,463.7 822.5,464.9 823.4,464.7 824.3,464.7 825.2,464.4 826.1,463.9 826.9,463.6 827.8,465.1 828.7,464.2 829.6,464.2 830.4,465.1 831.3,464.1 832.2,464.3 833.1,464.2 834,464.3 834.8,463.9 835.7,464.1 836.6,464.9 837.5,464.6 838.3,462.9 839.2,463.4 840.1,464.4 841,464.2 841.8,464.1 842.7,464.7 843.6,463.4 844.5,464.7 845.4,464.3 846.2,464.4 847.1,464.3 848,464.6 848.9,464.1 849.7,464 850.6,464.6 851.5,464.3 852.4,463.7 853.3,464.9 854.1,464.9 855,465.1 855.9,464.5 856.8,464.7 857.6,464.4 858.5,464.2 859.4,464.8 860.3,464.9 861.2,464.6 862,465.8 862.9,464.3 863.8,464.8 864.7,464.9 865.5,465.9 866.4,465.3 867.3,465.3 868.2,465.1 869,465.3 869.9,465.1 870.8,466.2 871.7,466.1 872.6,466.4 873.4,465.7 874.3,467.2 875.2,465.7 876.1,465.3 876.9,466.2 877.8,466.5 878.7,466.9 879.6,466.1 880.5,467 881.3,467.6 882.2,466.5 883.1,466.7 884,466.3 884.8,467.3 885.7,467.7 886.6,467.8 887.5,468 888.4,468.4 889.2,467.9 890.1,468.5 891,467.8 891.9,468 892.7,468.6 893.6,468.3 894.5,469.1 895.4,469.6 896.2,469.4 897.1,469 898,469.2 898.9,470.3 899.8,469.5 900.6,470 901.5,470 902.4,470.3 903.3,470.9 904.1,470.3 905,470 905.9,471.4" fill="none" stroke="#e3f1b8" stroke-width="3.8" stroke-linejoin="round" />
<polyline points="117.1,659.2 118,659.4 118.9,658.9 119.7,659.6 120.6,659.3 121.5,658.9 122.4,659.3 123.2,659.9 124.1,659.9 125,659.3 125.9,660.1 126.8,659.9 127.6,660.2 128.5,660.3 129.4,659.8 130.3,660.5 131.1,660.2 132,661.1 132.9,660.9 133.8,660.7 134.6,660.4 135.5,660.9 136.4,661 137.3,660.6 138.2,662 139,661.4 139.9,662 140.8,661 141.7,662.1 142.5,661 143.4,661.4 144.3,662 145.2,661.9 146.1,661 146.9,661.6 147.8,662.4 148.7,663 149.6,662.6 150.4,662.2 151.3,662.7 152.2,661.9 153.1,662.6 154,661.9 154.8,662.5 155.7,662.5 156.6,662.8 157.5,662.4 158.3,663 159.2,662.4 160.1,662.8 161,662.7 161.8,661.6 162.7,662.3 163.6,662.3 164.5,661.9 165.4,662.3 166.2,661.6 167.1,662.3 168,662.2 168.9,662.1 169.7,662.9 170.6,662 171.5,661.9 172.4,661.5 173.3,661.9 174.1,661.3 175,662.1 175.9,661.3 176.8,661.6 177.6,662.3 178.5,661.9 179.4,661.5 180.3,661.9 181.2,661.2 182,661.5 182.9,661.2 183.8,660.7 184.7,661.2 185.5,661.3 186.4,660.7 187.3,660.4 188.2,660.5 189,659.7 189.9,660.3 190.8,660 191.7,661.2 192.6,660 193.4,659.6 194.3,660.4 195.2,659.9 196.1,659.9 196.9,659.9 197.8,659.8 198.7,659.4 199.6,659.9 200.5,659.6 201.3,659.1 202.2,659.1 203.1,658.7 204,659.1 204.8,659.2 205.7,659.1 206.6,659 207.5,658.6 208.4,659.1 209.2,658.3 210.1,658.3 211,658 211.9,658.1 212.7,657.8 213.6,658.6 214.5,657.8 215.4,656.8 216.2,657.2 217.1,656.6 218,657.4 218.9,657.4 219.8,656.5 220.6,656.8 221.5,656.2 222.4,656.3 223.3,656.6 224.1,655.6 225,655 225.9,655.6 226.8,655.3 227.7,655.2 228.5,655.1 229.4,654.2 230.3,653.5 231.2,654.5 232,653.7 232.9,653.2 233.8,653 234.7,653.7 235.6,653.2 236.4,653 237.3,653 238.2,652.2 239.1,651.8 239.9,651.7 240.8,651.4 241.7,651.5 242.6,651.1 243.4,651.3 244.3,650.9 245.2,650.8 246.1,650.9 247,651 247.8,650.9 248.7,650.1 249.6,649.9 250.5,649.4 251.3,649.8 252.2,649.8 253.1,648.8 254,649.1 254.9,648.5 255.7,648.3 256.6,648.3 257.5,647.8 258.4,648.1 259.2,647 260.1,647.1 261,647.1 261.9,646.6 262.8,646.9 263.6,646 264.5,646.4 265.4,645.6 266.3,645.9 267.1,646 268,646.4 268.9,645.8 269.8,645.8 270.6,645 271.5,645.6 272.4,644.4 273.3,644.2 274.2,643.6 275,643.9 275.9,644 276.8,643.1 277.7,643 278.5,642.7 279.4,642.5 280.3,642.2 281.2,641.6 282.1,642.5 282.9,640.9 283.8,641 284.7,641.3 285.6,641.3 286.4,640.6 287.3,640.3 288.2,640.1 289.1,639.7 290,639.9 290.8,639.1 291.7,638.7 292.6,638.6 293.5,638.6 294.3,638.8 295.2,638.7 296.1,637.6 297,636.9 297.8,636.7 298.7,637.8 299.6,636.6 300.5,636.6 301.4,637 302.2,635.7 303.1,635.6 304,635.2 304.9,634.7 305.7,635.2 306.6,635.1 307.5,633.6 308.4,634.5 309.3,633.7 310.1,633.7 311,633.4 311.9,632.5 312.8,632.7 313.6,632.1 314.5,633 315.4,632.9 316.3,631.8 317.2,631 318,631.7 318.9,630.9 319.8,631.4 320.7,631.2 321.5,630.8 322.4,629.7 323.3,629.2 324.2,629 325,628.9 325.9,628.3 326.8,628.9 327.7,628.3 328.6,627.7 329.4,627.3 330.3,627.4 331.2,627.4 332.1,625.7 332.9,626.3 333.8,625.8 334.7,625.3 335.6,625.1 336.5,625 337.3,625.3 338.2,624.3 339.1,623.8 340,623.1 340.8,623.6 341.7,622.7 342.6,622.6 343.5,622.6 344.4,622 345.2,621.6 346.1,621.3 347,621.4 347.9,620.7 348.7,620.5 349.6,620.3 350.5,619.7 351.4,619.6 352.2,619 353.1,619.3 354,618.7 354.9,617.5 355.8,617.8 356.6,618 357.5,617.1 358.4,616.7 359.3,617 360.1,615.8 361,616 361.9,615.9 362.8,615.6 363.7,614.6 364.5,614.2 365.4,614.9 366.3,613.7 367.2,613.6 368,614.3 368.9,612.8 369.8,611.8 370.7,613.4 371.6,612.3 372.4,611.7 373.3,612.3 374.2,610.7 375.1,610.9 375.9,610 376.8,609.4 377.7,609.4 378.6,609 379.4,608.8 380.3,608.3 381.2,607.1 382.1,606.9 383,607.2 383.8,606.2 384.7,605.6 385.6,605.6 386.5,605.2 387.3,604.7 388.2,603.5 389.1,603.1 390,603.1 390.9,602.8 391.7,601.4 392.6,601.2 393.5,600.8 394.4,600.9 395.2,599.6 396.1,600.6 397,599.1 397.9,598.9 398.8,599.1 399.6,598 400.5,597.6 401.4,596.7 402.3,596.5 403.1,595.5 404,595.4 404.9,595 405.8,594.1 406.6,594.4 407.5,593.7 408.4,592.3 409.3,592.9 410.2,591.7 411,591.8 411.9,590.7 412.8,590.4 413.7,590.2 414.5,590.2 415.4,588.3 416.3,588.2 417.2,587.6 418.1,587.6 418.9,586.5 419.8,586.1 420.7,585.9 421.6,585.1 422.4,584 423.3,583.4 424.2,582.8 425.1,582.4 426,581.4 426.8,581.1 427.7,580.7 428.6,579.7 429.5,579.1 430.3,578.8 431.2,578.4 432.1,576.9 433,576.4 433.8,576.7 434.7,575.6 435.6,574.5 436.5,574.4 437.4,574.4 438.2,572.9 439.1,572.1 440,571.8 440.9,571.9 441.7,570.3 442.6,570.2 443.5,569.7 444.4,568.9 445.3,567.9 446.1,567.6 447,566.7 447.9,566.3 448.8,565.5 449.6,564.7 450.5,563.3 451.4,563.6 452.3,562.6 453.2,561.2 454,561.3 454.9,560.8 455.8,559.9 456.7,558.3 457.5,558.3 458.4,557.6 459.3,557.1 460.2,555.7 461,556 461.9,555.4 462.8,554.8 463.7,553.9 464.6,553.2 465.4,552.9 466.3,552 467.2,551 468.1,550.6 468.9,550.1 469.8,549.6 470.7,548.6 471.6,547.4 472.5,546.8 473.3,546.4 474.2,545.7 475.1,545.3 476,543.4 476.8,543.1 477.7,542.2 478.6,542.4 479.5,541.5 480.4,540.5 481.2,539.9 482.1,538.6 483,538.3 483.9,537.3 484.7,536.5 485.6,535.6 486.5,535.3 487.4,534.5 488.2,532.7 489.1,532.3 490,531.7 490.9,531.1 491.8,529.5 492.6,528.9 493.5,528.4 494.4,528.4 495.3,526.6 496.1,526 497,525.4 497.9,524.5 498.8,523.9 499.7,523 500.5,522.2 501.4,521.7 502.3,521 503.2,520.4 504,519.7 504.9,518.5 505.8,518.4 506.7,519.6 507.6,522.4 508.4,524.9 509.3,527.8 510.2,529.5 511.1,528.6 511.9,525.4 512.8,521.4 513.7,517.4 514.6,513.2 515.4,511.1 516.3,511.2 517.2,510.6 518.1,511.9 519,511.6 519.8,512.7 520.7,512.7 521.6,512.9 522.5,513.2 523.3,513.2 524.2,512.6 525.1,512.3 526,512 526.9,512.1 527.7,512.4 528.6,511.2 529.5,511.7 530.4,511.4 531.2,512.2 532.1,511.4 533,512.3 533.9,511.6 534.8,511.8 535.6,513 536.5,513 537.4,512.4 538.3,512.3 539.1,512.9 540,513.8 540.9,513.8 541.8,513.7 542.6,514.7 543.5,515.3 544.4,514.7 545.3,515.4 546.2,515.5 547,516.7 547.9,516.7 548.8,516.8 549.7,516.8 550.5,518.2 551.4,518.3 552.3,518.9 553.2,519.3 554.1,520 554.9,519.7 555.8,520.6 556.7,521.6 557.6,522.8 558.4,522.8 559.3,523.2 560.2,523.6 561.1,524.1 562,524.9 562.8,525.3 563.7,526.3 564.6,526.8 565.5,528.2 566.3,528 567.2,529.1 568.1,529.1 569,530.3 569.8,531.5 570.7,530.9 571.6,531.3 572.5,532.8 573.4,533 574.2,533.5 575.1,534.4 576,534.9 576.9,535.9 577.7,536.2 578.6,536.4 579.5,536.8 580.4,537.2 581.3,538 582.1,539.5 583,539.1 583.9,540.3 584.8,541.4 585.6,541.7 586.5,542.7 587.4,543 588.3,543.9 589.2,543.7 590,544.2 590.9,545.9 591.8,545.8 592.7,546.3 593.5,546.7 594.4,548.1 595.3,548.3 596.2,548.9 597,549 597.9,549.9 598.8,550.3 599.7,551.1 600.6,551.8 601.4,552.1 602.3,552.6 603.2,553.8 604.1,553.7 604.9,555.3 605.8,555.9 606.7,555.4 607.6,557.2 608.5,556.8 609.3,558.2 610.2,558.1 611.1,559.2 612,559.1 612.8,560.4 613.7,560.7 614.6,561.9 615.5,562.2 616.4,562.1 617.2,563.2 618.1,563.4 619,564.3 619.9,565.4 620.7,565.9 621.6,565.9 622.5,566.1 623.4,567 624.2,568.3 625.1,568 626,568 626.9,568.5 627.8,569.1 628.6,570.5 629.5,570.5 630.4,570.9 631.3,571.8 632.1,572.6 633,572.6 633.9,572.9 634.8,573.8 635.7,574.6 636.5,574.1 637.4,574.7 638.3,576.6 639.2,576.5 640,577 640.9,576.8 641.8,577.5 642.7,578.3 643.6,579.4 644.4,579.4 645.3,579.3 646.2,581.1 647.1,581.6 647.9,581.8 648.8,581.5 649.7,582.2 650.6,582.9 651.4,583.6 652.3,584.8 653.2,584 654.1,584.8 655,585.6 655.8,585.8 656.7,586.3 657.6,586.4 658.5,587.5 659.3,587.9 660.2,588.5 661.1,589.3 662,589.3 662.9,589.8 663.7,590.4 664.6,590.6 665.5,591.3 666.4,591 667.2,591.8 668.1,592.7 669,593.1 669.9,593.7 670.8,593.3 671.6,594.1 672.5,594.7 673.4,595.1 674.3,595.5 675.1,596.6 676,596.3 676.9,596.8 677.8,597.5 678.6,598 679.5,598.3 680.4,599.3 681.3,599.3 682.2,599.4 683,599.6 683.9,600.9 684.8,600.6 685.7,601.4 686.5,601.5 687.4,603 688.3,602.9 689.2,602.3 690.1,603.6 690.9,603.3 691.8,604.1 692.7,605.1 693.6,604.7 694.4,605.7 695.3,606 696.2,606.7 697.1,606.5 698,607.5 698.8,607.5 699.7,608.5 700.6,608.5 701.5,609.1 702.3,609.7 703.2,610 704.1,609.9 705,610.5 705.8,610.6 706.7,611.1 707.6,611.9 708.5,611.2 709.4,611.4 710.2,612.4 711.1,612.3 712,613.4 712.9,613.5 713.7,613.8 714.6,613.8 715.5,614 716.4,614.1 717.3,614.6 718.1,615.1 719,615.1 719.9,616.2 720.8,616.3 721.6,615.9 722.5,615.6 723.4,617.5 724.3,616.9 725.2,616.5 726,617.3 726.9,618.4 727.8,619.2 728.7,619.3 729.5,619.9 730.4,620.3 731.3,620.7 732.2,619.9 733,620.5 733.9,620.6 734.8,621.2 735.7,621.4 736.6,622 737.4,622.9 738.3,622.2 739.2,623.1 740.1,622.7 740.9,622.9 741.8,624.2 742.7,624 743.6,624.4 744.5,625.3 745.3,624.5 746.2,625.3 747.1,626.2 748,625.5 748.8,626.3 749.7,626.8 750.6,627.1 751.5,627.3 752.4,627.6 753.2,627.7 754.1,628.1 755,628.1 755.9,627.9 756.7,628.5 757.6,628.6 758.5,629.4 759.4,629.3 760.2,629.6 761.1,629.6 762,630.1 762.9,629.8 763.8,630.3 764.6,630.2 765.5,630.5 766.4,630.5 767.3,632 768.1,631.6 769,631.2 769.9,631.6 770.8,632.1 771.7,632 772.5,632.7 773.4,632.8 774.3,633.3 775.2,632 776,633.6 776.9,633.6 777.8,634.2 778.7,633.8 779.6,633.9 780.4,634 781.3,634.8 782.2,634.9 783.1,634.4 783.9,635.1 784.8,635.5 785.7,635.3 786.6,635.8 787.4,636.2 788.3,636.2 789.2,636 790.1,637.3 791,637.2 791.8,637.4 792.7,637.3 793.6,637.8 794.5,637.7 795.3,638.1 796.2,638.4 797.1,638.8 798,638.6 798.9,638.7 799.7,639.7 800.6,638.9 801.5,639.7 802.4,639.8 803.2,640.3 804.1,640 805,640 805.9,640.6 806.8,640.2 807.6,640.5 808.5,641.1 809.4,641.4 810.3,640.9 811.1,642.2 812,641.8 812.9,642.5 813.8,642.6 814.6,642.4 815.5,642.4 816.4,642.2 817.3,643.3 818.2,643.7 819,643.3 819.9,643.4 820.8,643.2 821.7,643.4 822.5,643.9 823.4,644.6 824.3,644.2 825.2,644.8 826.1,644.8 826.9,644.8 827.8,644.7 828.7,645 829.6,644.9 830.4,645.9 831.3,645.9 832.2,645.5 833.1,645.8 834,645.7 834.8,646.5 835.7,646.8 836.6,646.4 837.5,646.8 838.3,647.3 839.2,646.7 840.1,647.6 841,648.3 841.8,648.5 842.7,648 843.6,648.2 844.5,648.7 845.4,648.8 846.2,649.3 847.1,649 848,649.2 848.9,649.4 849.7,650.1 850.6,649.2 851.5,650.2 852.4,650 853.3,650.2 854.1,649.9 855,650.3 855.9,650.2 856.8,649.6 857.6,650.9 858.5,650.4 859.4,651.1 860.3,650.7 861.2,651.2 862,651.3 862.9,650.9 863.8,651.8 864.7,651.7 865.5,651.1 866.4,652.9 867.3,652.5 868.2,652.6 869,652.6 869.9,653 870.8,652.7 871.7,653.3 872.6,653.5 873.4,653.1 874.3,653.4 875.2,653.6 876.1,653.1 876.9,653.9 877.8,653.9 878.7,654.5 879.6,654.3 880.5,654 881.3,654.5 882.2,654.4 883.1,653.8 884,654.8 884.8,654.5 885.7,655.6 886.6,655.4 887.5,655.7 888.4,655.7 889.2,655.6 890.1,656.1 891,655.3 891.9,656.4 892.7,656.1 893.6,655.6 894.5,656.4 895.4,656.8 896.2,656.5 897.1,657.4 898,657.5 898.9,656.9 899.8,657 900.6,657.3 901.5,657.3 902.4,657.9 903.3,658.1 904.1,658 905,658.1 905.9,657.9" fill="none" stroke="#ffe3b8" stroke-width="3.8" stroke-linejoin="round" />
<polyline points="117.1,687.5 118,687.3 118.9,688 119.7,687.4 120.6,687.5 121.5,687.9 122.4,687.3 123.2,687.4 124.1,687.7 125,687.6 125.9,687.4 126.8,687.7 127.6,687.7 128.5,687.9 129.4,687.4 130.3,687.7 131.1,688.2 132,688.4 132.9,687.6 133.8,688.2 134.6,687.8 135.5,687.9 136.4,687.9 137.3,688.1 138.2,688.5 139,688.4 139.9,688.3 140.8,688.2 141.7,688.4 142.5,688.4 143.4,688.6 144.3,688.3 145.2,688.5 146.1,688.5 146.9,688.6 147.8,688.7 148.7,688.7 149.6,689 150.4,688.7 151.3,689.2 152.2,688.7 153.1,688.7 154,688.9 154.8,689 155.7,689 156.6,689.3 157.5,689.2 158.3,689.1 159.2,688.9 160.1,689 161,689.3 161.8,689 162.7,688.6 163.6,688.8 164.5,688.8 165.4,689.2 166.2,688.9 167.1,689.5 168,689 168.9,688.9 169.7,688.7 170.6,689.1 171.5,688.7 172.4,688.6 173.3,688.9 174.1,688.7 175,689 175.9,688.7 176.8,687.9 177.6,688.8 178.5,688.1 179.4,689 180.3,689 181.2,688.4 182,688.2 182.9,688.2 183.8,688.7 184.7,688.4 185.5,688.3 186.4,688.4 187.3,688.9 188.2,688.5 189,688.5 189.9,688.5 190.8,688.6 191.7,688.6 192.6,688.1 193.4,688.2 194.3,688 195.2,688 196.1,688.4 196.9,688 197.8,688 198.7,687.8 199.6,687.8 200.5,688.1 201.3,687.7 202.2,687.7 203.1,687.9 204,687.8 204.8,687.8 205.7,687.6 206.6,687.1 207.5,687.6 208.4,687.6 209.2,687.6 210.1,687.1 211,687.9 211.9,686.9 212.7,687.3 213.6,687.1 214.5,686.9 215.4,687.2 216.2,686.9 217.1,686.3 218,686.5 218.9,686.9 219.8,687.3 220.6,686.3 221.5,686.6 222.4,686.9 223.3,686.7 224.1,686.4 225,686 225.9,685.9 226.8,686.1 227.7,686.1 228.5,685.6 229.4,685.6 230.3,686.1 231.2,685.8 232,685.7 232.9,685.7 233.8,685.5 234.7,685.8 235.6,685.9 236.4,685.9 237.3,685.5 238.2,685.4 239.1,685.5 239.9,685.5 240.8,685.3 241.7,685.1 242.6,684.6 243.4,684.2 244.3,684.7 245.2,684.4 246.1,684.3 247,684 247.8,683.8 248.7,684.4 249.6,684 250.5,683.5 251.3,683.8 252.2,683.7 253.1,683.6 254,684 254.9,683.3 255.7,682.9 256.6,683.1 257.5,682.8 258.4,683 259.2,682.9 260.1,682.8 261,682.5 261.9,682.6 262.8,682.3 263.6,682.4 264.5,682.1 265.4,681.8 266.3,682.1 267.1,681.7 268,682.1 268.9,681.8 269.8,681.7 270.6,681.5 271.5,681.3 272.4,680.6 273.3,681.4 274.2,680.8 275,681.1 275.9,680.6 276.8,680.6 277.7,680.4 278.5,680.1 279.4,680.2 280.3,680.2 281.2,679.8 282.1,679.5 282.9,679.5 283.8,679.6 284.7,679.6 285.6,679.4 286.4,679.1 287.3,678.7 288.2,679 289.1,678.6 290,678.4 290.8,678.6 291.7,678.3 292.6,678.2 293.5,677.6 294.3,677.6 295.2,677.2 296.1,677.5 297,677.3 297.8,677.4 298.7,677.1 299.6,676.8 300.5,677.2 301.4,676.3 302.2,676.1 303.1,676.1 304,676.3 304.9,675.9 305.7,675.7 306.6,675.4 307.5,675.9 308.4,675.2 309.3,674.9 310.1,675 311,674.7 311.9,674.7 312.8,674.9 313.6,674.3 314.5,674.2 315.4,673.9 316.3,673.7 317.2,673.8 318,673.5 318.9,673.1 319.8,672.7 320.7,672.7 321.5,672.7 322.4,672.3 323.3,672.1 324.2,671.4 325,671.9 325.9,671.1 326.8,670.9 327.7,670.9 328.6,670.8 329.4,670.5 330.3,670.1 331.2,670 332.1,669.7 332.9,669.2 333.8,669.3 334.7,669 335.6,669.1 336.5,668.7 337.3,668.8 338.2,668.5 339.1,668.3 340,668.1 340.8,667.8 341.7,667.3 342.6,667.5 343.5,666.7 344.4,666.7 345.2,666.7 346.1,666.2 347,666.2 347.9,665.6 348.7,665.5 349.6,665.5 350.5,665.3 351.4,665.2 352.2,664.7 353.1,664.5 354,664.4 354.9,664.1 355.8,663.4 356.6,663.4 357.5,663.6 358.4,662.7 359.3,662.9 360.1,662.4 361,662.5 361.9,661.8 362.8,661.7 363.7,660.9 364.5,661.1 365.4,661.1 366.3,660.2 367.2,660.5 368,659.8 368.9,659.6 369.8,658.7 370.7,659.3 371.6,658.5 372.4,658.3 373.3,657.8 374.2,657.6 375.1,657.9 375.9,657.1 376.8,657.2 377.7,656.6 378.6,656.5 379.4,656 380.3,655.9 381.2,656.1 382.1,655.3 383,655 383.8,654.5 384.7,654.5 385.6,654.3 386.5,653.3 387.3,653.1 388.2,653.6 389.1,652.9 390,652.5 390.9,652.3 391.7,652.2 392.6,651.8 393.5,651.3 394.4,651.5 395.2,650.7 396.1,650.2 397,650 397.9,649.8 398.8,649.4 399.6,649.1 400.5,648.9 401.4,647.7 402.3,648 403.1,648.1 404,647.7 404.9,647 405.8,646.7 406.6,646.7 407.5,646 408.4,645.5 409.3,645.7 410.2,644.8 411,644.6 411.9,644.1 412.8,643.7 413.7,643 414.5,642.6 415.4,642.7 416.3,641.7 417.2,641.6 418.1,640.8 418.9,640.7 419.8,640.3 420.7,639.5 421.6,639.7 422.4,639 423.3,638.9 424.2,637.9 425.1,638 426,637.9 426.8,637 427.7,636.3 428.6,636.2 429.5,635.7 430.3,635.2 431.2,634.8 432.1,634.2 433,634.1 433.8,633.4 434.7,632.9 435.6,632.9 436.5,632.2 437.4,632.5 438.2,631.3 439.1,630.8 440,630.4 440.9,630.2 441.7,629.4 442.6,628.8 443.5,629.1 444.4,627.9 445.3,628.1 446.1,627.3 447,626.5 447.9,626.7 448.8,625.8 449.6,625.1 450.5,624.9 451.4,624.7 452.3,624 453.2,623.6 454,623.3 454.9,622.4 455.8,622 456.7,621.3 457.5,620.5 458.4,620.4 459.3,620.3 460.2,619 461,619.3 461.9,618.5 462.8,617.7 463.7,617.4 464.6,617.4 465.4,616.3 466.3,616.1 467.2,615.7 468.1,614.7 468.9,614.6 469.8,614.1 470.7,613.3 471.6,613.1 472.5,612.4 473.3,611.8 474.2,611.2 475.1,611.1 476,610.3 476.8,609.8 477.7,609.1 478.6,608.6 479.5,608.2 480.4,608.1 481.2,607.2 482.1,607.2 483,606.4 483.9,605.8 484.7,604.9 485.6,605.2 486.5,603.8 487.4,603.8 488.2,603.5 489.1,602.5 490,601.9 490.9,601.6 491.8,601.3 492.6,601 493.5,600.3 494.4,599.4 495.3,599.1 496.1,598.9 497,598.1 497.9,598 498.8,598.3 499.7,597.1 500.5,597.4 501.4,596.5 502.3,596.4 503.2,596.2 504,595.6 504.9,595.8 505.8,595.9 506.7,596.9 507.6,599 508.4,600.7 509.3,603 510.2,605.2 511.1,604.7 511.9,602.6 512.8,599.5 513.7,597.3 514.6,594 515.4,592.7 516.3,591.9 517.2,592.6 518.1,593.3 519,593.7 519.8,594.5 520.7,595.1 521.6,595 522.5,595.4 523.3,595 524.2,595.6 525.1,595.4 526,595.7 526.9,595.2 527.7,595.9 528.6,596 529.5,596.4 530.4,596 531.2,596.9 532.1,596.4 533,597.3 533.9,597.3 534.8,597.2 535.6,598.2 536.5,597.6 537.4,598.1 538.3,598.4 539.1,598.8 540,599 540.9,599.4 541.8,599.7 542.6,599.9 543.5,600 544.4,600.5 545.3,601.2 546.2,601.1 547,601.9 547.9,601.8 548.8,602.6 549.7,602.9 550.5,604.2 551.4,604 552.3,605 553.2,605.8 554.1,606.4 554.9,607 555.8,607.7 556.7,608.2 557.6,608.9 558.4,609.3 559.3,609.9 560.2,610.1 561.1,611.1 562,612 562.8,612 563.7,612.4 564.6,613.3 565.5,614 566.3,614.5 567.2,614.3 568.1,615.2 569,615.3 569.8,615.9 570.7,615.7 571.6,616.9 572.5,616.9 573.4,617.4 574.2,617.7 575.1,617.8 576,618.5 576.9,618.6 577.7,618.9 578.6,619.6 579.5,619.7 580.4,619.9 581.3,620.7 582.1,620.6 583,621.1 583.9,621.7 584.8,622.1 585.6,622.5 586.5,622.9 587.4,622.9 588.3,623 589.2,623.9 590,624.2 590.9,624.1 591.8,624.7 592.7,624.8 593.5,624.9 594.4,625.8 595.3,626 596.2,626.3 597,627 597.9,627.3 598.8,627.1 599.7,627.3 600.6,627.5 601.4,628.3 602.3,628.5 603.2,629 604.1,629.3 604.9,629.4 605.8,629.8 606.7,629.8 607.6,630.8 608.5,630.7 609.3,631.3 610.2,631.3 611.1,631.8 612,632.2 612.8,632.3 613.7,632.4 614.6,633.5 615.5,633.2 616.4,633.7 617.2,633.8 618.1,633.9 619,634.8 619.9,634.8 620.7,635.1 621.6,634.8 622.5,635.7 623.4,636.1 624.2,636.3 625.1,636.5 626,637.1 626.9,637.2 627.8,637.6 628.6,638 629.5,638.3 630.4,638 631.3,638.7 632.1,638.7 633,638.7 633.9,639.6 634.8,639.4 635.7,640 636.5,639.8 637.4,640.5 638.3,640.9 639.2,641.3 640,641.5 640.9,641.6 641.8,641.9 642.7,642.8 643.6,642.6 644.4,643 645.3,643.7 646.2,643.1 647.1,643.3 647.9,643.8 648.8,644.2 649.7,644.3 650.6,644.8 651.4,645 652.3,644.9 653.2,645.6 654.1,645.4 655,646.2 655.8,646.3 656.7,647 657.6,646.9 658.5,646.9 659.3,647.3 660.2,647.4 661.1,647.4 662,647.5 662.9,648.4 663.7,648.7 664.6,648.5 665.5,648.7 666.4,648.9 667.2,649.5 668.1,649.8 669,649.5 669.9,649.9 670.8,650.1 671.6,650.5 672.5,650.9 673.4,651.2 674.3,651.1 675.1,651.1 676,651.7 676.9,652 677.8,652 678.6,652.4 679.5,652.6 680.4,653 681.3,653 682.2,653.4 683,653.5 683.9,653.5 684.8,654.1 685.7,654.2 686.5,654.7 687.4,654.4 688.3,654.7 689.2,655.2 690.1,654.9 690.9,655.6 691.8,655.7 692.7,655.9 693.6,656.2 694.4,656 695.3,656.7 696.2,657 697.1,657.4 698,657.8 698.8,657.7 699.7,658.1 700.6,657.4 701.5,658.4 702.3,658.7 703.2,658.9 704.1,658.9 705,659 705.8,659.2 706.7,659.5 707.6,659.8 708.5,660 709.4,660.1 710.2,660 711.1,660.9 712,660.5 712.9,660.2 713.7,661.4 714.6,661.5 715.5,661.5 716.4,661.9 717.3,662 718.1,661.9 719,662.3 719.9,662.2 720.8,662.5 721.6,662.6 722.5,663.1 723.4,663.5 724.3,663.3 725.2,663.8 726,663.3 726.9,663.8 727.8,664.4 728.7,664.7 729.5,664.9 730.4,665.1 731.3,664.6 732.2,665.1 733,664.8 733.9,665.6 734.8,665.9 735.7,666 736.6,666 737.4,666.5 738.3,666.8 739.2,666.9 740.1,666.9 740.9,667.2 741.8,667.4 742.7,667.7 743.6,668 744.5,668 745.3,667.8 746.2,668.3 747.1,668.6 748,668.6 748.8,669 749.7,668.9 750.6,669.6 751.5,669.5 752.4,669.6 753.2,669.9 754.1,670 755,670 755.9,670.4 756.7,670.4 757.6,670.5 758.5,670.6 759.4,670.4 760.2,670.9 761.1,671 762,670.9 762.9,671.6 763.8,671.3 764.6,671.2 765.5,671.5 766.4,671.7 767.3,671.9 768.1,671.8 769,672.1 769.9,671.9 770.8,672.3 771.7,672.6 772.5,672.5 773.4,673 774.3,673.1 775.2,672.9 776,672.6 776.9,673.5 777.8,673.8 778.7,673.2 779.6,673.8 780.4,673.9 781.3,673.6 782.2,674 783.1,674.6 783.9,674.4 784.8,674.5 785.7,674.9 786.6,674.6 787.4,674.5 788.3,675.4 789.2,675 790.1,675.3 791,675.7 791.8,675.6 792.7,675.7 793.6,675.7 794.5,676.1 795.3,676.6 796.2,676.1 797.1,676.1 798,676.6 798.9,676.4 799.7,676.8 800.6,676.9 801.5,677.1 802.4,677.1 803.2,677.3 804.1,677.6 805,677.2 805.9,677.6 806.8,677.8 807.6,677.5 808.5,677.7 809.4,677.9 810.3,678 811.1,678.5 812,678.4 812.9,679.2 813.8,678.5 814.6,678.6 815.5,679.3 816.4,678.7 817.3,679.5 818.2,678.3 819,679.1 819.9,679.7 820.8,679.8 821.7,679.7 822.5,679.5 823.4,679.7 824.3,680.1 825.2,680.1 826.1,680.3 826.9,680 827.8,680.5 828.7,680.7 829.6,681.3 830.4,680.8 831.3,680.9 832.2,680.7 833.1,680.6 834,680.5 834.8,681.3 835.7,681.8 836.6,681.4 837.5,680.9 838.3,681.7 839.2,681.7 840.1,681.8 841,682.4 841.8,682.4 842.7,682.6 843.6,682.1 844.5,682.5 845.4,682.2 846.2,682.9 847.1,682.4 848,683.1 848.9,683 849.7,683.1 850.6,682.7 851.5,683.4 852.4,682.8 853.3,683.1 854.1,683.2 855,684.1 855.9,683.6 856.8,683.5 857.6,683.9 858.5,684.4 859.4,683.9 860.3,683.7 861.2,683.8 862,684.1 862.9,684.6 863.8,684.2 864.7,684.2 865.5,684.1 866.4,684.1 867.3,684.8 868.2,684.6 869,684.7 869.9,684.3 870.8,684.9 871.7,684.9 872.6,685.3 873.4,685.2 874.3,684.9 875.2,685.1 876.1,685.2 876.9,685.2 877.8,685 878.7,685.5 879.6,686 880.5,685.4 881.3,685.9 882.2,685.5 883.1,685.6 884,685.7 884.8,685.7 885.7,686.1 886.6,686.2 887.5,685.3 888.4,686.2 889.2,686.2 890.1,686.6 891,686 891.9,686.3 892.7,686.7 893.6,686.6 894.5,686.9 895.4,686.3 896.2,686.4 897.1,686.8 898,686.4 898.9,686.9 899.8,687.1 900.6,687 901.5,686.6 902.4,686.9 903.3,687 904.1,687.2 905,687.2 905.9,687.1" fill="none" stroke="#cccccc" stroke-width="3.9" stroke-linejoin="round" />
<polyline points="117.1,468.6 118,469 118.9,468.9 119.7,468.7 120.6,468.3 121.5,469.4 122.4,469.5 123.2,468.8 124.1,469.9 125,469.4 125.9,470.4 126.8,469.9 127.6,469.7 128.5,470.3 129.4,470.1 130.3,470.2 131.1,470.3 132,470.3 132.9,470.6 133.8,470.8 134.6,470.8 135.5,471.3 136.4,470.5 137.3,470.9 138.2,471.3 139,470.9 139.9,471.8 140.8,471.6 141.7,471.4 142.5,471.7 143.4,471.5 144.3,471.3 145.2,472 146.1,472.1 146.9,471.9 147.8,471.8 148.7,471.2 149.6,471.6 150.4,471.6 151.3,471.8 152.2,472 153.1,471.4 154,471.2 154.8,471.6 155.7,471.2 156.6,470.7 157.5,471.3 158.3,470.5 159.2,470.5 160.1,470.2 161,470.5 161.8,470.5 162.7,470 163.6,470.1 164.5,469.6 165.4,470.3 166.2,470 167.1,469.2 168,469.4 168.9,469.4 169.7,469.1 170.6,468.6 171.5,468.6 172.4,468.7 173.3,468.5 174.1,468 175,468.2 175.9,467.6 176.8,467.1 177.6,467.7 178.5,467.8 179.4,467.5 180.3,467.7 181.2,467.6 182,467.1 182.9,466.7 183.8,466.7 184.7,466.2 185.5,466.5 186.4,466.4 187.3,466.3 188.2,466.5 189,465.4 189.9,466.1 190.8,465.6 191.7,465.9 192.6,465.6 193.4,465.1 194.3,465.6 195.2,465 196.1,465.3 196.9,464.8 197.8,464.7 198.7,464.8 199.6,465.2 200.5,464.7 201.3,464.4 202.2,464.8 203.1,464.2 204,464 204.8,463.6 205.7,463.9 206.6,463.7 207.5,463.4 208.4,462.9 209.2,463.3 210.1,463.3 211,463 211.9,462.7 212.7,462.6 213.6,462.7 214.5,463.1 215.4,462.6 216.2,462 217.1,462.6 218,462.2 218.9,462.9 219.8,462 220.6,462 221.5,462 222.4,461.9 223.3,461.7 224.1,461.6 225,461.5 225.9,461.3 226.8,461.2 227.7,460.9 228.5,461 229.4,460.9 230.3,460.8 231.2,460.7 232,460.7 232.9,460.8 233.8,460.5 234.7,460.5 235.6,460.5 236.4,460.2 237.3,460.2 238.2,460.3 239.1,459.6 239.9,460.2 240.8,459.9 241.7,458.8 242.6,460.1 243.4,459.5 244.3,460.2 245.2,459.6 246.1,459.8 247,460.1 247.8,459.7 248.7,459.7 249.6,460 250.5,460.6 251.3,460.5 252.2,460.7 253.1,460.5 254,460.6 254.9,460.9 255.7,460.8 256.6,460.5 257.5,461 258.4,460.7 259.2,460.7 260.1,461.1 261,461.1 261.9,461.5 262.8,461.4 263.6,461.3 264.5,461.5 265.4,461.5 266.3,461.7 267.1,462.3 268,462.1 268.9,462 269.8,462.2 270.6,462.3 271.5,462.6 272.4,462.4 273.3,463.2 274.2,463.1 275,463.6 275.9,463.9 276.8,464 277.7,463.8 278.5,464 279.4,464.8 280.3,465.1 281.2,464.6 282.1,465 282.9,465.8 283.8,465.8 284.7,466.6 285.6,466.4 286.4,466.7 287.3,466.7 288.2,466.8 289.1,466.7 290,466.6 290.8,468 291.7,468.1 292.6,468 293.5,468.7 294.3,468.2 295.2,469.3 296.1,469.2 297,469.8 297.8,469 298.7,470.2 299.6,470.3 300.5,470.4 301.4,470.2 302.2,470.8 303.1,471 304,471 304.9,470.9 305.7,471.2 306.6,471.6 307.5,472.3 308.4,472.5 309.3,472.8 310.1,472.6 311,472.1 311.9,472.5 312.8,472.5 313.6,472.9 314.5,473.5 315.4,473.2 316.3,473.2 317.2,473.6 318,473.8 318.9,474 319.8,473.5 320.7,473.6 321.5,473.9 322.4,474.3 323.3,474.3 324.2,474 325,475 325.9,474.4 326.8,474.6 327.7,474.7 328.6,474.6 329.4,474.9 330.3,475 331.2,475.2 332.1,475.3 332.9,475.1 333.8,475.1 334.7,475.8 335.6,475.5 336.5,476 337.3,475.9 338.2,476.6 339.1,475.9 340,475.5 340.8,475.9 341.7,476.5 342.6,476.7 343.5,476.8 344.4,476.5 345.2,476.9 346.1,476.1 347,476.3 347.9,476.3 348.7,476.8 349.6,477.1 350.5,476.8 351.4,477 352.2,476.8 353.1,476.9 354,477.1 354.9,477.6 355.8,477.4 356.6,477.5 357.5,477.8 358.4,477.8 359.3,477.5 360.1,478.3 361,477.9 361.9,478.1 362.8,478.2 363.7,478.5 364.5,478.4 365.4,478.8 366.3,479.3 367.2,478.7 368,478.6 368.9,479.7 369.8,479.6 370.7,479.9 371.6,480 372.4,479.9 373.3,480.2 374.2,479.8 375.1,480.5 375.9,480.7 376.8,480.5 377.7,480.8 378.6,481.1 379.4,481.4 380.3,481.5 381.2,482.1 382.1,482.1 383,482.3 383.8,481.7 384.7,482.2 385.6,482.6 386.5,482.6 387.3,483 388.2,482.9 389.1,483 390,483.5 390.9,483.7 391.7,483.9 392.6,484.2 393.5,484.7 394.4,484.8 395.2,485.2 396.1,485.4 397,485.5 397.9,485.7 398.8,486.6 399.6,486.4 400.5,486.9 401.4,486.8 402.3,486.9 403.1,487.3 404,487.9 404.9,487.9 405.8,488.8 406.6,488.8 407.5,489.1 408.4,490 409.3,489.7 410.2,490 411,491.3 411.9,490.9 412.8,491.2 413.7,491.3 414.5,492.1 415.4,492.4 416.3,491.7 417.2,492.7 418.1,493.1 418.9,493.5 419.8,493.3 420.7,494 421.6,494.8 422.4,495 423.3,494.7 424.2,495.4 425.1,495.4 426,496.2 426.8,495.4 427.7,496.9 428.6,497.1 429.5,497.7 430.3,497.4 431.2,498.1 432.1,498.3 433,499.2 433.8,499.6 434.7,500.5 435.6,500.6 436.5,500.2 437.4,501.5 438.2,501.9 439.1,502.7 440,503.1 440.9,503.2 441.7,503.8 442.6,504.8 443.5,504.8 444.4,505.6 445.3,505.7 446.1,506.9 447,507.4 447.9,507.6 448.8,507.8 449.6,508.5 450.5,509.1 451.4,509.6 452.3,510.3 453.2,510.3 454,510.9 454.9,511.5 455.8,512.6 456.7,512.5 457.5,513.4 458.4,514.2 459.3,514 460.2,514.4 461,515 461.9,516.3 462.8,516.8 463.7,517.2 464.6,517.5 465.4,518.5 466.3,518.6 467.2,519.8 468.1,520.2 468.9,520.8 469.8,521.9 470.7,521.8 471.6,522.3 472.5,523.4 473.3,524.2 474.2,524.2 475.1,524.8 476,525.7 476.8,526.5 477.7,526.8 478.6,527.9 479.5,528.9 480.4,528.8 481.2,529.3 482.1,530.7 483,530.3 483.9,531.6 484.7,532.2 485.6,532 486.5,533.2 487.4,534.1 488.2,534.1 489.1,534.1 490,535.1 490.9,536.5 491.8,536.2 492.6,537.3 493.5,537.2 494.4,538 495.3,538.5 496.1,539.2 497,539.9 497.9,540.4 498.8,540.6 499.7,541.4 500.5,541.9 501.4,542.4 502.3,542.9 503.2,543.3 504,544.1 504.9,545.1 505.8,545 506.7,545.9 507.6,546.7 508.4,547.9 509.3,549.6 510.2,550.1 511.1,550.5 511.9,550.2 512.8,549.3 513.7,549.2 514.6,548.5 515.4,548.2 516.3,547.8 517.2,548.5 518.1,548.3 519,549.2 519.8,549.6 520.7,549.7 521.6,550.1 522.5,549.8 523.3,550.1 524.2,550 525.1,550.6 526,550.6 526.9,551.1 527.7,550.7 528.6,551.2 529.5,551.2 530.4,551.4 531.2,551.6 532.1,551.9 533,552 533.9,551.2 534.8,551.9 535.6,551.5 536.5,551.9 537.4,551.6 538.3,552.2 539.1,552.2 540,552 540.9,551.7 541.8,551.6 542.6,551.6 543.5,551.9 544.4,552.2 545.3,552.3 546.2,552.3 547,551.6 547.9,551.8 548.8,552 549.7,551.9 550.5,551.6 551.4,551.1 552.3,551.9 553.2,551.3 554.1,550.7 554.9,551.1 555.8,550.9 556.7,550.6 557.6,550.5 558.4,550 559.3,550.5 560.2,549.9 561.1,549.1 562,549.3 562.8,548.3 563.7,548.9 564.6,548.4 565.5,548.4 566.3,548.2 567.2,547.7 568.1,548.1 569,547.1 569.8,546.9 570.7,546.4 571.6,545.9 572.5,545.5 573.4,545.7 574.2,545.2 575.1,545.1 576,544.1 576.9,543.7 577.7,543.5 578.6,543.2 579.5,542.8 580.4,542 581.3,542.1 582.1,541.9 583,541.6 583.9,541 584.8,540.7 585.6,540.7 586.5,540.3 587.4,539.6 588.3,539.2 589.2,538.8 590,538.6 590.9,538 591.8,537.6 592.7,537.6 593.5,536.5 594.4,536 595.3,535.8 596.2,536 597,535.2 597.9,534.1 598.8,534.4 599.7,533.8 600.6,533.3 601.4,532.4 602.3,532.2 603.2,531.8 604.1,531.7 604.9,530.8 605.8,530.4 606.7,529.7 607.6,530 608.5,529.2 609.3,529.1 610.2,528.4 611.1,528.2 612,527.3 612.8,527.3 613.7,526.5 614.6,526 615.5,526.1 616.4,525 617.2,525 618.1,524.6 619,524.2 619.9,523.7 620.7,523.5 621.6,522.6 622.5,522.8 623.4,522.3 624.2,521.6 625.1,521 626,520.3 626.9,519.9 627.8,519.5 628.6,519.3 629.5,519.3 630.4,518 631.3,518.3 632.1,517.6 633,517.2 633.9,516.7 634.8,516 635.7,515.7 636.5,515.4 637.4,515.3 638.3,514.4 639.2,514.5 640,514 640.9,513.1 641.8,512.9 642.7,512.7 643.6,511.5 644.4,511.2 645.3,511.3 646.2,510.8 647.1,509.9 647.9,509.4 648.8,509.4 649.7,509.2 650.6,508.2 651.4,507.7 652.3,507.8 653.2,507.3 654.1,506.3 655,505.9 655.8,505.7 656.7,505.6 657.6,505.1 658.5,504.4 659.3,503.5 660.2,504.3 661.1,502.9 662,503.2 662.9,502.7 663.7,502 664.6,501.5 665.5,500.7 666.4,500.2 667.2,499.9 668.1,499.3 669,499.3 669.9,498.5 670.8,498.9 671.6,498.8 672.5,497 673.4,496.9 674.3,497.1 675.1,496.6 676,496.1 676.9,495.8 677.8,495.6 678.6,494.9 679.5,494.9 680.4,494.7 681.3,494.4 682.2,494.2 683,493.4 683.9,493.1 684.8,492 685.7,492.1 686.5,491.6 687.4,491.8 688.3,491.7 689.2,490.6 690.1,490.3 690.9,489.9 691.8,489.7 692.7,489.1 693.6,489.2 694.4,488.5 695.3,488.7 696.2,488.2 697.1,487.5 698,487 698.8,487.2 699.7,486.5 700.6,485.7 701.5,485.9 702.3,485.4 703.2,486 704.1,485.1 705,484.6 705.8,483.9 706.7,484.6 707.6,484.2 708.5,483.8 709.4,483.5 710.2,483.4 711.1,483.3 712,482.9 712.9,482.5 713.7,482.5 714.6,481.5 715.5,481.8 716.4,481.6 717.3,481.3 718.1,481.2 719,481.3 719.9,480.8 720.8,480.2 721.6,480.5 722.5,480.5 723.4,480.2 724.3,479.9 725.2,479.8 726,479.3 726.9,478.3 727.8,478.7 728.7,478.3 729.5,478.5 730.4,478.4 731.3,477.8 732.2,478.1 733,477.2 733.9,477.6 734.8,476.9 735.7,476.8 736.6,476.5 737.4,476.7 738.3,477 739.2,476.2 740.1,476.1 740.9,476.2 741.8,475.7 742.7,475.8 743.6,475.6 744.5,475.3 745.3,475.1 746.2,475.7 747.1,475.3 748,475 748.8,475.5 749.7,475.1 750.6,474.6 751.5,474.5 752.4,474.8 753.2,474.5 754.1,474.7 755,474.2 755.9,474 756.7,474.3 757.6,474.5 758.5,474 759.4,474.8 760.2,474.7 761.1,473.9 762,473.6 762.9,473.8 763.8,473.5 764.6,473.6 765.5,473.6 766.4,473.4 767.3,472.8 768.1,473.8 769,472.9 769.9,473 770.8,473.2 771.7,472.9 772.5,472.9 773.4,472.9 774.3,472.3 775.2,472.7 776,472.7 776.9,472.3 777.8,472.6 778.7,472.7 779.6,472 780.4,472.3 781.3,472 782.2,472.2 783.1,471.7 783.9,471.2 784.8,471.9 785.7,471.7 786.6,471.5 787.4,471.1 788.3,471.1 789.2,471.3 790.1,471.1 791,470.7 791.8,470.9 792.7,471 793.6,470.5 794.5,470.6 795.3,470.4 796.2,470.7 797.1,470.4 798,470.3 798.9,470.5 799.7,470.3 800.6,469.9 801.5,470.3 802.4,469.5 803.2,469.5 804.1,469.9 805,469.6 805.9,469.9 806.8,469.6 807.6,469.5 808.5,469.7 809.4,469.1 810.3,468.8 811.1,469.3 812,468.8 812.9,469.1 813.8,468.6 814.6,468.7 815.5,468.6 816.4,468.4 817.3,468.4 818.2,468.6 819,468.4 819.9,468.5 820.8,468 821.7,467.9 822.5,467.7 823.4,467.7 824.3,467.9 825.2,467.8 826.1,467.9 826.9,467.9 827.8,467.7 828.7,467.4 829.6,467.2 830.4,467.8 831.3,467.4 832.2,466.4 833.1,467.1 834,467.3 834.8,466.8 835.7,467 836.6,466.7 837.5,466.8 838.3,466.6 839.2,466.7 840.1,466.5 841,466.6 841.8,466.3 842.7,466.5 843.6,466.2 844.5,465.7 845.4,466.2 846.2,466.2 847.1,465.8 848,466.4 848.9,465.9 849.7,466.2 850.6,465.8 851.5,465.9 852.4,466 853.3,466.1 854.1,465.6 855,465.4 855.9,466.1 856.8,465.6 857.6,466.3 858.5,465.5 859.4,465.1 860.3,465.6 861.2,465.7 862,465.5 862.9,465.3 863.8,465.5 864.7,465 865.5,464.9 866.4,465.3 867.3,465.5 868.2,464.7 869,465.4 869.9,465.2 870.8,465.1 871.7,465.4 872.6,465.4 873.4,465.4 874.3,465.6 875.2,465.6 876.1,465.8 876.9,465.8 877.8,465.4 878.7,465.5 879.6,465 880.5,465.5 881.3,465.2 882.2,465.5 883.1,465.7 884,465.9 884.8,465.6 885.7,466.5 886.6,465.9 887.5,465.5 888.4,466.5 889.2,466 890.1,466 891,466.4 891.9,466 892.7,466.7 893.6,466.9 894.5,466.8 895.4,466.5 896.2,466.4 897.1,466.8 898,466.9 898.9,466.8 899.8,466.8 900.6,467.2 901.5,466.9 902.4,466.6 903.3,466.6 904.1,467.1 905,467.5 905.9,467.1" fill="none" stroke="#99cc00" stroke-width="3.8" stroke-linejoin="round" />
<polyline points="117.1,594.1 118,593.2 118.9,593.4 119.7,593.6 120.6,593.2 121.5,593.5 122.4,593.5 123.2,592.9 124.1,594 125,593.9 125.9,593.4 126.8,593.6 127.6,593.9 128.5,593.7 129.4,593.7 130.3,593.3 131.1,594.1 132,594 132.9,594.1 133.8,593.4 134.6,594.7 135.5,594.1 136.4,593.9 137.3,594.9 138.2,594.1 139,593.6 139.9,594.1 140.8,593.4 141.7,594.7 142.5,594.2 143.4,594.1 144.3,594.8 145.2,593.7 146.1,594.6 146.9,593.6 147.8,594.2 148.7,594 149.6,595 150.4,595.1 151.3,594.3 152.2,594.8 153.1,594.3 154,594.6 154.8,594.1 155.7,593.6 156.6,593.6 157.5,594.4 158.3,595.1 159.2,594.3 160.1,594 161,594.9 161.8,594.2 162.7,594.1 163.6,594.1 164.5,594 165.4,593.9 166.2,593.4 167.1,594.1 168,593.8 168.9,594.3 169.7,593.7 170.6,593 171.5,593.7 172.4,594.4 173.3,593.5 174.1,593.3 175,593.1 175.9,593.2 176.8,593.4 177.6,593 178.5,594.1 179.4,593.3 180.3,593.5 181.2,594 182,594 182.9,593.2 183.8,593.4 184.7,593.6 185.5,593.1 186.4,592.5 187.3,593.4 188.2,593.5 189,593.3 189.9,592.7 190.8,592.9 191.7,592.8 192.6,592.8 193.4,593.4 194.3,593.5 195.2,593.1 196.1,593.1 196.9,593.1 197.8,592.8 198.7,592.7 199.6,592.4 200.5,592.6 201.3,593.5 202.2,593 203.1,592.4 204,592.3 204.8,592.2 205.7,592.6 206.6,592.6 207.5,591.8 208.4,592.6 209.2,592.1 210.1,592.9 211,592.3 211.9,592.9 212.7,592 213.6,592 214.5,592.2 215.4,592.5 216.2,592.2 217.1,591.5 218,592 218.9,591.9 219.8,591.6 220.6,591.5 221.5,592.4 222.4,591.5 223.3,591.3 224.1,591.8 225,591.5 225.9,591.4 226.8,591.7 227.7,591.5 228.5,591.4 229.4,591.6 230.3,591.3 231.2,590.8 232,590.9 232.9,590.8 233.8,591 234.7,590.4 235.6,590.1 236.4,590.8 237.3,590.1 238.2,589.8 239.1,590.7 239.9,590.2 240.8,590.6 241.7,590.2 242.6,589.9 243.4,589.8 244.3,590 245.2,590 246.1,589.8 247,589.9 247.8,589.4 248.7,589.9 249.6,589.1 250.5,589.7 251.3,590 252.2,590.1 253.1,590.3 254,589 254.9,589.8 255.7,589.9 256.6,589.8 257.5,589 258.4,589.5 259.2,590 260.1,588.6 261,589.3 261.9,589.5 262.8,588.7 263.6,589.2 264.5,588.5 265.4,588.5 266.3,588.4 267.1,588.8 268,588.6 268.9,589 269.8,588.2 270.6,588.4 271.5,588.8 272.4,588.6 273.3,587.8 274.2,588.5 275,588 275.9,588.3 276.8,588.2 277.7,588.5 278.5,588 279.4,587.2 280.3,587.3 281.2,588.1 282.1,587.6 282.9,588.1 283.8,587.7 284.7,587.3 285.6,587.9 286.4,587.1 287.3,586.6 288.2,588.1 289.1,586.5 290,587.5 290.8,587.5 291.7,587.1 292.6,586.4 293.5,587.4 294.3,586.3 295.2,586.3 296.1,586.7 297,587.1 297.8,586.8 298.7,587 299.6,586.4 300.5,586.4 301.4,586 302.2,586.3 303.1,586.6 304,586.2 304.9,586.4 305.7,585.9 306.6,585.9 307.5,586.1 308.4,585.9 309.3,586.2 310.1,585.9 311,586.5 311.9,585.7 312.8,585.6 313.6,585.2 314.5,585.6 315.4,585.8 316.3,585.2 317.2,585.4 318,585.6 318.9,585.3 319.8,585 320.7,585.6 321.5,585.2 322.4,585.2 323.3,585.5 324.2,585.4 325,584.8 325.9,584.6 326.8,584.9 327.7,584.7 328.6,583.9 329.4,585.1 330.3,584.6 331.2,584.8 332.1,584 332.9,584.9 333.8,584.1 334.7,584.2 335.6,583.7 336.5,584.1 337.3,584 338.2,584 339.1,584.2 340,584 340.8,584.3 341.7,583.6 342.6,583.4 343.5,583.7 344.4,583.9 345.2,584.1 346.1,583.9 347,582.8 347.9,583.6 348.7,583.9 349.6,583.3 350.5,583 351.4,583.3 352.2,582.9 353.1,583.3 354,583 354.9,583.5 355.8,583.1 356.6,582.6 357.5,583 358.4,583.1 359.3,582.5 360.1,582.5 361,581.6 361.9,582.9 362.8,582.2 363.7,581.5 364.5,581.6 365.4,582.2 366.3,582.5 367.2,582.1 368,582.3 368.9,581.6 369.8,581.5 370.7,582.3 371.6,582.1 372.4,581.8 373.3,582.3 374.2,581.3 375.1,581.5 375.9,582 376.8,582.3 377.7,581.5 378.6,582.1 379.4,581.1 380.3,581.4 381.2,581.2 382.1,580.6 383,581.2 383.8,581.5 384.7,581 385.6,580.9 386.5,581.5 387.3,580.4 388.2,580.2 389.1,580.5 390,580.2 390.9,581.2 391.7,580.7 392.6,580.2 393.5,580.2 394.4,581.5 395.2,580.1 396.1,580 397,580.4 397.9,580.4 398.8,580.2 399.6,579.7 400.5,579.5 401.4,580.2 402.3,579.9 403.1,579.2 404,580.2 404.9,580 405.8,579.6 406.6,579.5 407.5,579.6 408.4,579.2 409.3,578.9 410.2,579.5 411,578.7 411.9,579.3 412.8,578.5 413.7,579 414.5,578.9 415.4,579.6 416.3,578.3 417.2,578.1 418.1,578.3 418.9,578 419.8,578.1 420.7,578.5 421.6,578.5 422.4,578.7 423.3,577.7 424.2,578.9 425.1,578.6 426,577.6 426.8,576.7 427.7,577.4 428.6,577.4 429.5,576.3 430.3,577.2 431.2,577 432.1,576.6 433,577.1 433.8,577.1 434.7,576.4 435.6,576.6 436.5,576.2 437.4,576 438.2,576.3 439.1,576.3 440,575.8 440.9,575 441.7,576.1 442.6,575.1 443.5,575.7 444.4,576.2 445.3,575.4 446.1,574.8 447,574.6 447.9,575.6 448.8,575 449.6,575.1 450.5,575.1 451.4,574.6 452.3,574.4 453.2,574 454,573.1 454.9,573.5 455.8,574 456.7,573.8 457.5,573.9 458.4,573.5 459.3,573.4 460.2,573.5 461,572.7 461.9,572.7 462.8,572 463.7,572.8 464.6,572.3 465.4,572.2 466.3,572.4 467.2,572 468.1,571.4 468.9,571.5 469.8,570.4 470.7,570.9 471.6,570.6 472.5,569.7 473.3,570.7 474.2,569.6 475.1,570 476,569.3 476.8,569.7 477.7,569.6 478.6,568.5 479.5,568 480.4,568.3 481.2,568.5 482.1,567.8 483,567.4 483.9,567.6 484.7,566.1 485.6,566.6 486.5,566.1 487.4,566.5 488.2,565.8 489.1,565.3 490,565.4 490.9,564.6 491.8,564.9 492.6,564.4 493.5,564.2 494.4,563.7 495.3,564.1 496.1,563.4 497,563.4 497.9,563 498.8,562.2 499.7,562.5 500.5,562.1 501.4,561.8 502.3,561.2 503.2,560.9 504,561.1 504.9,561.4 505.8,559.9 506.7,560.4 507.6,560.2 508.4,560.8 509.3,560.8 510.2,561.2 511.1,559.3 511.9,559.5 512.8,558.7 513.7,558.3 514.6,557.3 515.4,556.8 516.3,557 517.2,557.4 518.1,555.4 519,556.3 519.8,556.5 520.7,556.2 521.6,555.9 522.5,555.3 523.3,555.3 524.2,555.8 525.1,555.8 526,555.2 526.9,554.7 527.7,554.9 528.6,554.7 529.5,554.8 530.4,554.5 531.2,554.1 532.1,554.4 533,553.7 533.9,554.4 534.8,554.5 535.6,553.5 536.5,554 537.4,553.4 538.3,554.2 539.1,554.1 540,553.6 540.9,554.1 541.8,553.5 542.6,553.5 543.5,553.5 544.4,553.7 545.3,553.7 546.2,553.9 547,553.7 547.9,554.3 548.8,554.5 549.7,553.9 550.5,553.6 551.4,554.6 552.3,554.8 553.2,554.4 554.1,554.1 554.9,554.8 555.8,555.4 556.7,554.2 557.6,555.3 558.4,555.1 559.3,555 560.2,555.7 561.1,555.1 562,555.9 562.8,556.4 563.7,556.1 564.6,555.9 565.5,555.7 566.3,556 567.2,556 568.1,557.5 569,556.9 569.8,556.8 570.7,556.8 571.6,557.1 572.5,557.5 573.4,557.3 574.2,558.7 575.1,557.9 576,558 576.9,558.6 577.7,559.3 578.6,559.4 579.5,558.8 580.4,559.3 581.3,559.4 582.1,559.8 583,559.8 583.9,559.5 584.8,559.5 585.6,560.3 586.5,559.9 587.4,561.1 588.3,560.8 589.2,560.5 590,561 590.9,561 591.8,561.4 592.7,562 593.5,561.2 594.4,561.2 595.3,562.2 596.2,562.2 597,562.5 597.9,562.8 598.8,562.7 599.7,563.3 600.6,562.8 601.4,563.3 602.3,563.1 603.2,563.2 604.1,564.1 604.9,564.2 605.8,563.4 606.7,563.9 607.6,564.6 608.5,565.1 609.3,564.5 610.2,564.9 611.1,564.5 612,566.3 612.8,565.6 613.7,565.9 614.6,566 615.5,566.2 616.4,566.2 617.2,566 618.1,566.6 619,566.4 619.9,567.1 620.7,566.4 621.6,566.6 622.5,567.2 623.4,567.6 624.2,567.3 625.1,567.1 626,567.5 626.9,567.5 627.8,568.6 628.6,568.3 629.5,568.6 630.4,568.3 631.3,568.1 632.1,569 633,569.3 633.9,569 634.8,568.9 635.7,569.5 636.5,569 637.4,569.6 638.3,569.2 639.2,569.2 640,570 640.9,570 641.8,570.8 642.7,570 643.6,570.3 644.4,570 645.3,569.8 646.2,570 647.1,571 647.9,570.5 648.8,571.6 649.7,571.8 650.6,571.3 651.4,572.2 652.3,571.8 653.2,572.3 654.1,571.9 655,572.5 655.8,571.9 656.7,572.6 657.6,572.3 658.5,572.6 659.3,573 660.2,573 661.1,573 662,573.5 662.9,573.6 663.7,572.9 664.6,573.8 665.5,573.9 666.4,573.5 667.2,574.1 668.1,573.5 669,574.8 669.9,574.2 670.8,574.4 671.6,575 672.5,574.6 673.4,575.1 674.3,574.5 675.1,574.8 676,574.6 676.9,575.2 677.8,575.9 678.6,575.7 679.5,576.1 680.4,575.4 681.3,575.6 682.2,575.9 683,576.4 683.9,576.5 684.8,576.5 685.7,576.8 686.5,576.7 687.4,576.8 688.3,577.5 689.2,576.9 690.1,577.3 690.9,578 691.8,577.5 692.7,577.9 693.6,577.5 694.4,578.7 695.3,577.1 696.2,577.7 697.1,577.8 698,579 698.8,578.6 699.7,578.5 700.6,578.2 701.5,579 702.3,579.1 703.2,578.9 704.1,578.7 705,578.9 705.8,579.6 706.7,579.8 707.6,579.8 708.5,579.8 709.4,579.3 710.2,580.1 711.1,579.8 712,580.3 712.9,580.6 713.7,580.2 714.6,580.2 715.5,581.1 716.4,580.9 717.3,580.6 718.1,579.7 719,581 719.9,581.3 720.8,581.6 721.6,581 722.5,581 723.4,581.2 724.3,581.8 725.2,581 726,581.5 726.9,581.3 727.8,581.8 728.7,581.2 729.5,582 730.4,581.7 731.3,581.9 732.2,582.3 733,582.6 733.9,581.5 734.8,582.7 735.7,582.6 736.6,582.3 737.4,583.1 738.3,582.6 739.2,583.2 740.1,582.5 740.9,582.4 741.8,583.3 742.7,583.8 743.6,583.3 744.5,583.4 745.3,583 746.2,582.7 747.1,583.2 748,584 748.8,582.7 749.7,583.3 750.6,582.8 751.5,583.7 752.4,584.1 753.2,583.3 754.1,583.7 755,584.5 755.9,584 756.7,583.6 757.6,583.6 758.5,583.4 759.4,584.6 760.2,584 761.1,584.8 762,584.8 762.9,584.3 763.8,584.4 764.6,585 765.5,584.8 766.4,585 767.3,584.3 768.1,585.3 769,584.7 769.9,584.2 770.8,584.9 771.7,585.4 772.5,586.2 773.4,585.2 774.3,584.9 775.2,586.4 776,585.6 776.9,585.5 777.8,585.3 778.7,585.4 779.6,586.4 780.4,585.8 781.3,585.7 782.2,585.8 783.1,586.7 783.9,585.9 784.8,586.4 785.7,586.3 786.6,586.3 787.4,586 788.3,586.6 789.2,587 790.1,586.4 791,586.1 791.8,586 792.7,586.7 793.6,586.6 794.5,586.7 795.3,586.8 796.2,586.2 797.1,587.2 798,587 798.9,587 799.7,587.1 800.6,587.5 801.5,587.2 802.4,586.9 803.2,587.7 804.1,587.1 805,587.1 805.9,586.8 806.8,587.5 807.6,587.1 808.5,587.4 809.4,587.8 810.3,587.7 811.1,588.1 812,587.9 812.9,587.7 813.8,587.7 814.6,587.7 815.5,588.2 816.4,588 817.3,587.9 818.2,588.5 819,588.2 819.9,588.1 820.8,587.7 821.7,588.5 822.5,588.5 823.4,588.5 824.3,588.3 825.2,588.2 826.1,588.5 826.9,588.8 827.8,588.7 828.7,588.7 829.6,588.6 830.4,589 831.3,589 832.2,588.7 833.1,589.3 834,589.4 834.8,589.5 835.7,589.1 836.6,589.2 837.5,588.8 838.3,589.6 839.2,588.5 840.1,589.3 841,589.3 841.8,589.9 842.7,589.6 843.6,589.2 844.5,589.1 845.4,589.4 846.2,589.8 847.1,589.8 848,589.8 848.9,589.6 849.7,589.8 850.6,590.4 851.5,589.6 852.4,590.1 853.3,590.7 854.1,590.4 855,590 855.9,590.5 856.8,590 857.6,590.3 858.5,591 859.4,591.1 860.3,589.7 861.2,590.7 862,591.3 862.9,590.3 863.8,590.7 864.7,591.2 865.5,590.5 866.4,590.9 867.3,590.7 868.2,590 869,591 869.9,590.8 870.8,591.3 871.7,591.8 872.6,591.3 873.4,590.9 874.3,591.3 875.2,591.2 876.1,591.6 876.9,590.6 877.8,590.8 878.7,590.5 879.6,591.6 880.5,591.4 881.3,591.2 882.2,591.2 883.1,591.3 884,591.2 884.8,591.5 885.7,591.4 886.6,592.2 887.5,591.9 888.4,591.4 889.2,591.6 890.1,592.3 891,592.1 891.9,592 892.7,592.3 893.6,592.6 894.5,591.6 895.4,591.8 896.2,591.4 897.1,592.4 898,592.1 898.9,592 899.8,592 900.6,592.6 901.5,592.3 902.4,592.2 903.3,592.9 904.1,592 905,592 905.9,593.5" fill="none" stroke="#ff9900" stroke-width="4.0" stroke-linejoin="round" />
<polyline points="117.1,611.4 118,611.7 118.9,610.9 119.7,611.1 120.6,610.8 121.5,612 122.4,611.8 123.2,612 124.1,611.6 125,611.6 125.9,611.1 126.8,611.9 127.6,611.1 128.5,611.2 129.4,611.3 130.3,611.2 131.1,611.6 132,611.3 132.9,611.4 133.8,611.3 134.6,611.7 135.5,611.2 136.4,611.4 137.3,611.5 138.2,611 139,611.3 139.9,611.5 140.8,611.7 141.7,611.4 142.5,611.2 143.4,611.8 144.3,611.3 145.2,611.4 146.1,611.4 146.9,611.4 147.8,611.3 148.7,611.5 149.6,611.1 150.4,611.3 151.3,611.3 152.2,611.2 153.1,611.4 154,611.4 154.8,611.4 155.7,611.4 156.6,611.5 157.5,611.8 158.3,611.7 159.2,610.6 160.1,611.7 161,610.9 161.8,611 162.7,611.4 163.6,611.1 164.5,611.8 165.4,611.6 166.2,611.2 167.1,611 168,611.5 168.9,611.7 169.7,611.4 170.6,611.9 171.5,611.5 172.4,611.6 173.3,611.3 174.1,611.5 175,611.3 175.9,610.9 176.8,612 177.6,611.4 178.5,611.4 179.4,611.7 180.3,611.4 181.2,611.5 182,611.5 182.9,611.1 183.8,611.8 184.7,611.5 185.5,611.2 186.4,611.6 187.3,611.5 188.2,611.2 189,611.4 189.9,611.4 190.8,611.5 191.7,611.5 192.6,611.6 193.4,611.1 194.3,611.4 195.2,611.2 196.1,611.5 196.9,611.1 197.8,610.9 198.7,611.3 199.6,612 200.5,611.7 201.3,611.4 202.2,612 203.1,611.4 204,611.4 204.8,611.6 205.7,611.5 206.6,611.4 207.5,611.3 208.4,611.4 209.2,611.7 210.1,611.1 211,611.2 211.9,611.7 212.7,612 213.6,610.9 214.5,611.5 215.4,611.8 216.2,611.3 217.1,611.3 218,611.7 218.9,611.3 219.8,611.2 220.6,611.3 221.5,611.1 222.4,610.8 223.3,611.7 224.1,611.8 225,611.5 225.9,611.3 226.8,611.5 227.7,611.4 228.5,611 229.4,611.1 230.3,611.5 231.2,611.3 232,611 232.9,611 233.8,611.6 234.7,611 235.6,611.7 236.4,611.5 237.3,611.1 238.2,611.3 239.1,611.4 239.9,611.5 240.8,611.5 241.7,611.8 242.6,611.6 243.4,611.3 244.3,611.4 245.2,611.2 246.1,611.3 247,611.4 247.8,610.8 248.7,611.4 249.6,611.4 250.5,611.3 251.3,611.1 252.2,611.3 253.1,611.2 254,611.4 254.9,610.8 255.7,611.3 256.6,611.5 257.5,611.2 258.4,611.2 259.2,611.6 260.1,612.1 261,611.6 261.9,611.6 262.8,611.4 263.6,611.6 264.5,611.5 265.4,611.2 266.3,611.5 267.1,611.6 268,611.2 268.9,611.5 269.8,611.7 270.6,611.6 271.5,611.4 272.4,611.9 273.3,611.7 274.2,611.3 275,610.9 275.9,611.3 276.8,611.4 277.7,611.3 278.5,611.4 279.4,611.8 280.3,611.6 281.2,611.7 282.1,611.1 282.9,611.4 283.8,611.7 284.7,611.2 285.6,611.9 286.4,611.1 287.3,611.2 288.2,611.8 289.1,610.9 290,611.6 290.8,611.1 291.7,611.1 292.6,611.4 293.5,611.4 294.3,611.5 295.2,611.4 296.1,611.3 297,611.1 297.8,611.5 298.7,610.8 299.6,611.6 300.5,611.4 301.4,611.7 302.2,611.7 303.1,611 304,611.5 304.9,611.2 305.7,611.3 306.6,611.6 307.5,611.5 308.4,611.5 309.3,611.4 310.1,611.4 311,611.1 311.9,611.2 312.8,611.5 313.6,611.1 314.5,611.2 315.4,611.6 316.3,611.4 317.2,611.2 318,611.5 318.9,611.7 319.8,611.2 320.7,611 321.5,611.4 322.4,611.2 323.3,611.3 324.2,611.3 325,611.2 325.9,611.4 326.8,611.4 327.7,611.1 328.6,611.6 329.4,611.7 330.3,611.3 331.2,611.4 332.1,611.8 332.9,611.1 333.8,611.1 334.7,611.3 335.6,611.4 336.5,611.5 337.3,611.4 338.2,610.9 339.1,611.6 340,611.7 340.8,611.1 341.7,611.5 342.6,611.2 343.5,611.3 344.4,611.2 345.2,611.8 346.1,611.2 347,611.4 347.9,611.5 348.7,611.2 349.6,611.3 350.5,611.4 351.4,611.8 352.2,611.1 353.1,611.4 354,611.4 354.9,611.3 355.8,611.7 356.6,611.4 357.5,611.3 358.4,611.6 359.3,611.7 360.1,611.2 361,611.6 361.9,611.6 362.8,611.4 363.7,611.2 364.5,611.6 365.4,611.6 366.3,611.2 367.2,611.3 368,611.8 368.9,611.2 369.8,610.9 370.7,611.3 371.6,611.4 372.4,611.6 373.3,611.3 374.2,611.9 375.1,611.3 375.9,611.4 376.8,611.7 377.7,611.4 378.6,610.8 379.4,611.6 380.3,611.5 381.2,611.2 382.1,611.7 383,611.7 383.8,611.3 384.7,611 385.6,610.9 386.5,611.4 387.3,611.3 388.2,611.4 389.1,610.7 390,611.4 390.9,611.1 391.7,611.3 392.6,612 393.5,611.4 394.4,611.6 395.2,611.5 396.1,611.6 397,611.4 397.9,611.4 398.8,611.7 399.6,611.1 400.5,611.2 401.4,611.5 402.3,611.4 403.1,611.9 404,611.4 404.9,611.4 405.8,611.5 406.6,611 407.5,611.8 408.4,611.3 409.3,611.6 410.2,611.2 411,611.1 411.9,611.4 412.8,611.3 413.7,611.5 414.5,611.3 415.4,612 416.3,611.4 417.2,611.1 418.1,611.4 418.9,611.7 419.8,611.4 420.7,611.2 421.6,611.3 422.4,611.6 423.3,611.8 424.2,611.2 425.1,611.8 426,611.2 426.8,611.9 427.7,611.3 428.6,611.1 429.5,611.3 430.3,611.4 431.2,611.6 432.1,611.7 433,611.5 433.8,611.2 434.7,611.4 435.6,611.3 436.5,611.4 437.4,611.3 438.2,611.2 439.1,612 440,611.3 440.9,610.9 441.7,611.3 442.6,611.7 443.5,611.5 444.4,611.2 445.3,611.7 446.1,612 447,611 447.9,611.4 448.8,611.6 449.6,611.7 450.5,611.5 451.4,611.6 452.3,611.1 453.2,611.8 454,611.2 454.9,610.9 455.8,611.4 456.7,611.4 457.5,611.2 458.4,611.3 459.3,611.5 460.2,611.3 461,611.2 461.9,611.6 462.8,611.5 463.7,611.2 464.6,611.4 465.4,611.2 466.3,611.5 467.2,611.6 468.1,611.6 468.9,611.3 469.8,611.5 470.7,611.2 471.6,611.6 472.5,611.5 473.3,611.3 474.2,611.5 475.1,611 476,611.1 476.8,611.4 477.7,611.7 478.6,611.3 479.5,611.5 480.4,611.7 481.2,611.2 482.1,611.5 483,611.3 483.9,611.9 484.7,611.4 485.6,611.6 486.5,611.2 487.4,611.5 488.2,611.3 489.1,611.7 490,611.1 490.9,611.9 491.8,611.4 492.6,611.5 493.5,611.2 494.4,611.5 495.3,611.4 496.1,611.4 497,611.5 497.9,611.1 498.8,610.7 499.7,611.6 500.5,611 501.4,611.5 502.3,611 503.2,611.3 504,612 504.9,611.8 505.8,611.4 506.7,611.3 507.6,611.6 508.4,610.8 509.3,611.8 510.2,611.3 511.1,611.2 511.9,611.4 512.8,611.2 513.7,611.2 514.6,611.6 515.4,611.4 516.3,611.2 517.2,611.5 518.1,611.5 519,611.6 519.8,611.3 520.7,611.2 521.6,611.7 522.5,611.4 523.3,611.6 524.2,611 525.1,611.1 526,611.4 526.9,611.5 527.7,611.6 528.6,611.7 529.5,611.8 530.4,611.3 531.2,611.4 532.1,611.6 533,611.5 533.9,611.4 534.8,611.9 535.6,611.7 536.5,611 537.4,611.3 538.3,611.3 539.1,611.9 540,611 540.9,611.5 541.8,611.5 542.6,611.2 543.5,611.6 544.4,611.3 545.3,611 546.2,611.1 547,611.7 547.9,611.2 548.8,611.7 549.7,611.4 550.5,611 551.4,611 552.3,611.5 553.2,611.8 554.1,611.4 554.9,611.3 555.8,611.3 556.7,611.4 557.6,611.4 558.4,611.3 559.3,611.3 560.2,611.2 561.1,611.3 562,611.1 562.8,611.4 563.7,611.6 564.6,611.5 565.5,611.1 566.3,611.7 567.2,611.8 568.1,611 569,611.7 569.8,611.6 570.7,611.3 571.6,610.9 572.5,611.6 573.4,611.7 574.2,611.7 575.1,611.7 576,611.7 576.9,611.4 577.7,611.7 578.6,611.8 579.5,611.5 580.4,611.1 581.3,611.9 582.1,611.4 583,611.1 583.9,611.7 584.8,611.8 585.6,611.5 586.5,611.5 587.4,611.7 588.3,611.2 589.2,611.4 590,611.3 590.9,611.6 591.8,611.4 592.7,612 593.5,611.5 594.4,611.2 595.3,611.1 596.2,611.9 597,611.9 597.9,611.5 598.8,611.4 599.7,611.6 600.6,611.3 601.4,610.5 602.3,611.1 603.2,611.4 604.1,611.5 604.9,611.5 605.8,611.6 606.7,611.1 607.6,611.2 608.5,611.3 609.3,611.6 610.2,611 611.1,611.2 612,611.6 612.8,611.3 613.7,611.5 614.6,611 615.5,611.5 616.4,611.8 617.2,611.6 618.1,611.6 619,611.5 619.9,611.5 620.7,611.6 621.6,612 622.5,611.8 623.4,611.4 624.2,611.5 625.1,611.4 626,611.2 626.9,611.5 627.8,611.3 628.6,611.7 629.5,611.4 630.4,611.5 631.3,611.6 632.1,611.2 633,611.6 633.9,611.1 634.8,611.5 635.7,611.2 636.5,611.1 637.4,611.4 638.3,611.2 639.2,611 640,611.1 640.9,611.1 641.8,611.4 642.7,611 643.6,611.1 644.4,611.4 645.3,611.7 646.2,611.2 647.1,611.4 647.9,611.7 648.8,611.5 649.7,611.8 650.6,611.6 651.4,611.2 652.3,611.8 653.2,611.5 654.1,612.1 655,611.5 655.8,611.8 656.7,611.6 657.6,611.4 658.5,611.3 659.3,611.5 660.2,611.6 661.1,611.3 662,611.4 662.9,611.4 663.7,611.3 664.6,611.9 665.5,611.7 666.4,611 667.2,611.6 668.1,611.4 669,611.7 669.9,611.3 670.8,611.3 671.6,611.3 672.5,611.1 673.4,611.4 674.3,611.8 675.1,611.7 676,611.7 676.9,611.4 677.8,611.2 678.6,611 679.5,611.4 680.4,611.9 681.3,611.8 682.2,611.6 683,611.8 683.9,611.6 684.8,611.5 685.7,611.6 686.5,611.1 687.4,611.1 688.3,611.1 689.2,611 690.1,611.5 690.9,611.5 691.8,611.5 692.7,611.3 693.6,611.4 694.4,611.1 695.3,611.9 696.2,611.7 697.1,611.6 698,611.8 698.8,611.3 699.7,611.6 700.6,611.5 701.5,611.4 702.3,611.5 703.2,611.5 704.1,611.1 705,611.8 705.8,611.1 706.7,611.5 707.6,611.3 708.5,611.3 709.4,611.2 710.2,611.3 711.1,611.3 712,611.6 712.9,611.6 713.7,611.3 714.6,612.1 715.5,611.4 716.4,611.5 717.3,611.4 718.1,611.6 719,611.1 719.9,611.3 720.8,611.1 721.6,611.4 722.5,611.4 723.4,611.6 724.3,611.4 725.2,611.6 726,611.4 726.9,612 727.8,611.4 728.7,611.6 729.5,611.1 730.4,611.5 731.3,612 732.2,610.9 733,611.7 733.9,611.5 734.8,611.3 735.7,611.7 736.6,611.2 737.4,611.2 738.3,611.4 739.2,611.7 740.1,611.2 740.9,611.5 741.8,611.4 742.7,611.4 743.6,611.7 744.5,611.1 745.3,611.3 746.2,611.2 747.1,611.6 748,611.8 748.8,611.5 749.7,611.6 750.6,611.5 751.5,611.4 752.4,611.3 753.2,611.1 754.1,612 755,611.4 755.9,611.4 756.7,611.5 757.6,611.3 758.5,611.3 759.4,611.4 760.2,611.5 761.1,611.3 762,611.7 762.9,611 763.8,611.5 764.6,611.7 765.5,611.5 766.4,611.1 767.3,611.5 768.1,611.2 769,611.5 769.9,611.7 770.8,611.8 771.7,611.2 772.5,611.3 773.4,611.3 774.3,611.5 775.2,611.7 776,611 776.9,611.7 777.8,611.9 778.7,610.9 779.6,611.5 780.4,611.3 781.3,611.3 782.2,611.2 783.1,611.6 783.9,611.6 784.8,611.4 785.7,611.5 786.6,611.9 787.4,611.2 788.3,611.3 789.2,610.9 790.1,611.2 791,611.4 791.8,611 792.7,611.6 793.6,611.4 794.5,611.3 795.3,611.1 796.2,611.5 797.1,611.2 798,611.6 798.9,611.1 799.7,611.4 800.6,611.2 801.5,611.6 802.4,611.3 803.2,611.6 804.1,611.3 805,611.2 805.9,611.5 806.8,611.5 807.6,611.5 808.5,611.5 809.4,611.7 810.3,611.3 811.1,611 812,611.4 812.9,611.6 813.8,611.1 814.6,611.4 815.5,611.6 816.4,611.2 817.3,611.4 818.2,611.3 819,611.4 819.9,611.5 820.8,611 821.7,611.1 822.5,611.7 823.4,611.8 824.3,611.4 825.2,611.6 826.1,611.3 826.9,611.1 827.8,611.4 828.7,611.9 829.6,611.6 830.4,611.2 831.3,611.7 832.2,611.7 833.1,611.5 834,611.2 834.8,611.2 835.7,611.5 836.6,611.1 837.5,611.6 838.3,611.1 839.2,611.2 840.1,611.9 841,611.3 841.8,611.1 842.7,611.4 843.6,611.6 844.5,611.5 845.4,611.3 846.2,611.5 847.1,611.7 848,611.3 848.9,611 849.7,611.3 850.6,611.2 851.5,611.3 852.4,611.6 853.3,610.6 854.1,611.5 855,611.8 855.9,611.9 856.8,611.6 857.6,611.1 858.5,611.4 859.4,611.4 860.3,611.2 861.2,610.9 862,611.5 862.9,611.6 863.8,611.2 864.7,612.2 865.5,611 866.4,611.6 867.3,611.1 868.2,611.3 869,611.4 869.9,611 870.8,611.4 871.7,610.9 872.6,611.5 873.4,611.5 874.3,611.7 875.2,611.3 876.1,611.5 876.9,611.1 877.8,611.4 878.7,611.3 879.6,611.4 880.5,611.3 881.3,611 882.2,611.5 883.1,611.3 884,611.1 884.8,611.5 885.7,611.8 886.6,611.3 887.5,611.1 888.4,611.6 889.2,611.4 890.1,611.5 891,611.4 891.9,611.7 892.7,611.7 893.6,611 894.5,611.2 895.4,611.4 896.2,611.8 897.1,611.4 898,611.7 898.9,611.5 899.8,611.5 900.6,611 901.5,611.5 902.4,611.3 903.3,611.3 904.1,611.2 905,611.1 905.9,611.4" fill="none" stroke="#000000" stroke-width="4.2" stroke-linejoin="round" />
</g>
<rect x="117.1" y="438.4" width="788.9" height="259.7" fill="none" stroke="#262626" stroke-width="1.3" />
<text x="117.1" y="733.5" font-size="24" text-anchor="middle" fill="#262626" >0</text>
<text x="215.7" y="733.5" font-size="24" text-anchor="middle" fill="#262626" >5</text>
<text x="314.3" y="733.5" font-size="24" text-anchor="middle" fill="#262626"  letter-spacing="0.35">10</text>
<text x="412.9" y="733.5" font-size="24" text-anchor="middle" fill="#262626"  letter-spacing="0.35">15</text>
<text x="511.5" y="733.5" font-size="24" text-anchor="middle" fill="#262626"  letter-spacing="0.35">20</text>
<text x="610.1" y="733.5" font-size="24" text-anchor="middle" fill="#262626"  letter-spacing="0.35">25</text>
<text x="708.7" y="733.5" font-size="24" text-anchor="middle" fill="#262626"  letter-spacing="0.35">30</text>
<text x="807.3" y="733.5" font-size="24" text-anchor="middle" fill="#262626"  letter-spacing="0.35">35</text>
<text x="905.9" y="733.5" font-size="24" text-anchor="middle" fill="#262626"  letter-spacing="0.35">40</text>
<text x="106.2" y="708.4" font-size="24" text-anchor="end" fill="#262626" >1</text>
<text x="106.2" y="643.5" font-size="24" text-anchor="end" fill="#262626" >2</text>
<text x="106.2" y="578.6" font-size="24" text-anchor="end" fill="#262626" >3</text>
<text x="106.2" y="513.6" font-size="24" text-anchor="end" fill="#262626" >4</text>
<text x="106.2" y="448.7" font-size="24" text-anchor="end" fill="#262626" >5</text>
<text x="915.8" y="708.4" font-size="24" text-anchor="start" fill="#262626"  letter-spacing="0.35">-2</text>
<text x="915.8" y="621.8" font-size="24" text-anchor="start" fill="#262626" >0</text>
<text x="915.8" y="535.3" font-size="24" text-anchor="start" fill="#262626" >2</text>
<text x="915.8" y="448.7" font-size="24" text-anchor="start" fill="#262626" >4</text>
<text x="118.8" y="431.2" font-size="24" fill="#262626"><tspan font-size="27" dy="2.5">×</tspan><tspan dy="-2.5" dx="3.2">10</tspan><tspan dy="-11.5" dx="0.5" font-size="19.2">-4</tspan></text>
<text x="906.5" y="424.8" font-size="24" fill="#262626"><tspan font-size="27" dy="2.5">×</tspan><tspan dy="-2.5" dx="3.2">10</tspan><tspan dy="-11.5" dx="0.5" font-size="19.2">-4</tspan></text>
<text x="78.3" y="564.4" font-size="27" text-anchor="middle" fill="#262626" transform="rotate(-90 78.3 564.4)"  letter-spacing="0.085">Raw data</text>
<text x="973.6" y="568.2" font-size="27" text-anchor="middle" fill="#262626" transform="rotate(-90 973.6 568.2)"  letter-spacing="0.085">Prepro. data</text>
<text x="511.5" y="769.7" font-size="27" text-anchor="middle" fill="#262626"  letter-spacing="0.085">Virtual time</text>
<text x="905.3" y="767.2" font-size="24" text-anchor="end" fill="#262626" >sec</text>
<line x1="153.6" y1="476.7" x2="153.6" y2="698.1" stroke="#0000ff" stroke-width="5" />
<rect x="132.3" y="431.2" width="42.6" height="45.5" fill="#ffffff" stroke="#0000ff" stroke-width="1.4" />
<text x="153.6" y="464.4" font-size="24" text-anchor="middle" fill="#000" >01</text>
<line x1="484.4" y1="476.7" x2="484.4" y2="698.1" stroke="#ff0000" stroke-width="5" />
<rect x="463.1" y="431.2" width="42.6" height="45.5" fill="#ffffff" stroke="#ff0000" stroke-width="1.4" />
<text x="484.4" y="464.4" font-size="24" text-anchor="middle" fill="#000" >02</text>
<text x="1078" y="50.5" font-size="40" text-anchor="start" fill="#000"  letter-spacing="1.0">(b)</text>
<rect x="1228.3" y="73.7" width="17.9" height="620.9" fill="#dedede" stroke="none" stroke-width="0" />
<rect x="1375.8" y="73.7" width="5.5" height="620.9" fill="#cce680" stroke="none" stroke-width="0" />
<rect x="1411.1" y="73.7" width="5.6" height="620.9" fill="#cce680" stroke="none" stroke-width="0" />
<rect x="1446.4" y="73.7" width="5.4" height="620.9" fill="#cce680" stroke="none" stroke-width="0" />
<rect x="1527.1" y="73.7" width="5.8" height="620.9" fill="#ffe680" stroke="none" stroke-width="0" />
<rect x="1561.2" y="73.7" width="5.7" height="620.9" fill="#ffe680" stroke="none" stroke-width="0" />
<rect x="1598.6" y="73.7" width="5.7" height="620.9" fill="#ffe680" stroke="none" stroke-width="0" />
<rect x="1676.4" y="73.7" width="6.2" height="620.9" fill="#ff8585" stroke="none" stroke-width="0" />
<rect x="1711.2" y="73.7" width="6.9" height="620.9" fill="#ff8585" stroke="none" stroke-width="0" />
<rect x="1747.1" y="73.7" width="6.3" height="620.9" fill="#ff8585" stroke="none" stroke-width="0" />
<rect x="1826.9" y="73.7" width="6.6" height="620.9" fill="#e6ccff" stroke="none" stroke-width="0" />
<rect x="1862.1" y="73.7" width="5.5" height="620.9" fill="#e6ccff" stroke="none" stroke-width="0" />
<rect x="1897.3" y="73.7" width="5.4" height="620.9" fill="#e6ccff" stroke="none" stroke-width="0" />
<polyline points="1182.4,575.7 1182.9,576.1 1183.4,575.8 1183.9,576.4 1184.3,575.7 1184.8,576.4 1185.3,575.9 1185.8,575.9 1186.3,576.1 1186.8,575 1187.2,576.1 1187.7,575.7 1188.2,575.5 1188.7,576.3 1189.2,575.5 1189.7,575.9 1190.1,575.6 1190.6,576.2 1191.1,576.2 1191.6,575.5 1192.1,575.7 1192.6,575.8 1193,575.7 1193.5,575.7 1194,576.2 1194.5,576.6 1195,576.4 1195.5,576.4 1195.9,576.6 1196.4,576.1 1196.9,576 1197.4,575.9 1197.9,575.8 1198.4,576 1198.8,576 1199.3,575.9 1199.8,576.2 1200.3,576.1 1200.8,575.9 1201.3,576.1 1201.7,576.1 1202.2,575.9 1202.7,575.5 1203.2,575.8 1203.7,576 1204.2,576.1 1204.6,575.9 1205.1,575.2 1205.6,576.9 1206.1,575.7 1206.6,575.8 1207.1,575.6 1207.5,576.2 1208,575.2 1208.5,575.6 1209,575.9 1209.5,575.8 1210,576.1 1210.4,575.9 1210.9,575.9 1211.4,575.6 1211.9,575.8 1212.4,575.9 1212.9,575.7 1213.3,575.7 1213.8,575.8 1214.3,576.4 1214.8,575.6 1215.3,576.2 1215.8,576.2 1216.2,575.9 1216.7,575.7 1217.2,575.4 1217.7,576.4 1218.2,575.4 1218.7,575.4 1219.1,576 1219.6,575.9 1220.1,576.1 1220.6,576.1 1221.1,576.3 1221.6,576.4 1222,575.9 1222.5,575.8 1223,575.3 1223.5,576.2 1224,576.5 1224.5,575.8 1224.9,576 1225.4,572.8 1225.9,564.1 1226.4,570.9 1226.9,576.1 1227.4,575.6 1227.8,575.8 1228.3,576.2 1228.8,575.6 1229.3,576.3 1229.8,576.1 1230.3,575.8 1230.8,576.3 1231.2,576.3 1231.7,575.9 1232.2,575.9 1232.7,576 1233.2,576.1 1233.7,576.2 1234.1,576.1 1234.6,574.9 1235.1,576.1 1235.6,575.4 1236.1,576.1 1236.6,575.5 1237,575.5 1237.5,575.7 1238,576.1 1238.5,576.3 1239,575.6 1239.5,576.3 1239.9,576.3 1240.4,575.4 1240.9,575.4 1241.4,575.9 1241.9,576 1242.4,576.1 1242.8,575.8 1243.3,576 1243.8,576.4 1244.3,576.1 1244.8,575.8 1245.3,576.4 1245.7,576.2 1246.2,575.8 1246.7,575.4 1247.2,575.8 1247.7,575.9 1248.2,575.3 1248.6,576.2 1249.1,576.1 1249.6,575.6 1250.1,575.6 1250.6,575.7 1251.1,576.7 1251.5,575.7 1252,575.7 1252.5,575.9 1253,575.7 1253.5,575.4 1254,575.9 1254.4,576.2 1254.9,576.5 1255.4,575.9 1255.9,576.1 1256.4,576.1 1256.9,576.2 1257.3,575.8 1257.8,575.7 1258.3,575.8 1258.8,576.2 1259.3,575.6 1259.8,575.8 1260.2,576.7 1260.7,575.7 1261.2,576.5 1261.7,576.2 1262.2,575.6 1262.7,575.7 1263.1,576.1 1263.6,576.2 1264.1,575.8 1264.6,576.4 1265.1,575.8 1265.6,576 1266,575.7 1266.5,575.9 1267,576.2 1267.5,575.8 1268,576 1268.5,576.3 1268.9,573.3 1269.4,564.3 1269.9,570.5 1270.4,575.6 1270.9,575.9 1271.4,576.3 1271.8,576 1272.3,575.7 1272.8,575.6 1273.3,576.2 1273.8,575.8 1274.3,576 1274.7,576.6 1275.2,576.3 1275.7,576.1 1276.2,576 1276.7,576 1277.2,576.1 1277.6,575.8 1278.1,576.2 1278.6,576.4 1279.1,575.7 1279.6,576.1 1280.1,575.6 1280.6,576.1 1281,575.5 1281.5,576.3 1282,576.3 1282.5,575.7 1283,575.3 1283.5,576.1 1283.9,575.4 1284.4,575.4 1284.9,575.6 1285.4,576 1285.9,576.6 1286.4,576.4 1286.8,576.1 1287.3,575.7 1287.8,575.9 1288.3,576.1 1288.8,575.9 1289.3,576.4 1289.7,575.8 1290.2,576.2 1290.7,575.5 1291.2,575.8 1291.7,576.1 1292.2,576.1 1292.6,576.4 1293.1,575.8 1293.6,576.2 1294.1,575.9 1294.6,575.5 1295.1,575.8 1295.5,575.7 1296,575.1 1296.5,575.7 1297,575.5 1297.5,576 1298,576.3 1298.4,575.8 1298.9,576.2 1299.4,576.8 1299.9,575.7 1300.4,575.8 1300.9,576.2 1301.3,575.5 1301.8,575.9 1302.3,576 1302.8,576.2 1303.3,575.5 1303.8,576 1304.2,576 1304.7,576 1305.2,576.1 1305.7,576.4 1306.2,576.1 1306.7,576.2 1307.1,575.7 1307.6,576.3 1308.1,575.7 1308.6,576 1309.1,576.1 1309.6,575.9 1310,575.9 1310.5,575.9 1311,575.7 1311.5,575.8 1312,576.4 1312.5,573.1 1312.9,563.5 1313.4,570.6 1313.9,576.6 1314.4,575.8 1314.9,575.4 1315.4,570 1315.8,497.9 1316.3,425.4 1316.8,400.1 1317.3,375.2 1317.8,350.1 1318.3,341.8 1318.7,334.9 1319.2,326.9 1319.7,324.2 1320.2,320.5 1320.7,317.2 1321.2,315.5 1321.6,314.7 1322.1,313.5 1322.6,313.3 1323.1,313 1323.6,312.7 1324.1,313.2 1324.5,327.7 1325,342.7 1325.5,394.6 1326,446.1 1326.5,482 1327,519.5 1327.5,529.5 1327.9,540.2 1328.4,551.8 1328.9,555.4 1329.4,559.2 1329.9,563.2 1330.4,564.8 1330.8,565.1 1331.3,565.7 1331.8,566.6 1332.3,567 1332.8,568.1 1333.3,568 1333.7,568.1 1334.2,568.3 1334.7,568.6 1335.2,568.2 1335.7,568.6 1336.2,568.6 1336.6,569.4 1337.1,569.3 1337.6,569.5 1338.1,569.5 1338.6,569.1 1339.1,569 1339.5,569.8 1340,569.8 1340.5,570 1341,570.1 1341.5,569.7 1342,570.2 1342.4,570.4 1342.9,569.9 1343.4,570.2 1343.9,570.1 1344.4,570.2 1344.9,570 1345.3,570.2 1345.8,570.1 1346.3,570.5 1346.8,570.5 1347.3,570.4 1347.8,570.5 1348.2,570.5 1348.7,570.6 1349.2,570.1 1349.7,570.8 1350.2,570.7 1350.7,570.8 1351.1,570.5 1351.6,571.2 1352.1,571.3 1352.6,570.6 1353.1,570.8 1353.6,571 1354,571.3 1354.5,570.7 1355,571 1355.5,571.3 1356,568.3 1356.5,559.5 1356.9,565.4 1357.4,571.3 1357.9,571.6 1358.4,571.5 1358.9,571 1359.4,571.2 1359.8,571.6 1360.3,571.8 1360.8,571.6 1361.3,571.4 1361.8,571.6 1362.3,571.7 1362.7,571.5 1363.2,571.7 1363.7,571.9 1364.2,572 1364.7,571.9 1365.2,571.9 1365.6,571.6 1366.1,571.7 1366.6,572 1367.1,571.4 1367.6,572.2 1368.1,571.5 1368.5,572.2 1369,572 1369.5,571.6 1370,571.6 1370.5,572.2 1371,571.9 1371.4,572.1 1371.9,571.7 1372.4,571.3 1372.9,446.7 1373.4,366.4 1373.9,332.2 1374.3,330 1374.8,328.3 1375.3,328.5 1375.8,329.8 1376.3,331 1376.8,332.4 1377.3,334.2 1377.7,335.7 1378.2,336.8 1378.7,336.8 1379.2,338.1 1379.7,338.9 1380.2,340.4 1380.6,340.7 1381.1,342.2 1381.6,343.2 1382.1,344 1382.6,344.8 1383.1,353.6 1383.5,384.1 1384,435.9 1384.5,488 1385,508.9 1385.5,529.3 1386,549.4 1386.4,556 1386.9,563.7 1387.4,570.5 1387.9,572.1 1388.4,573 1388.9,573.8 1389.3,575.3 1389.8,575.1 1390.3,574.8 1390.8,575.3 1391.3,575.7 1391.8,574.9 1392.2,575.3 1392.7,575.5 1393.2,575.6 1393.7,575.8 1394.2,575.6 1394.7,576.3 1395.1,575.9 1395.6,576.3 1396.1,575.9 1396.6,575.7 1397.1,575.9 1397.6,575.3 1398,575.9 1398.5,576.1 1399,575.8 1399.5,572.8 1400,563.9 1400.5,570.5 1400.9,575.9 1401.4,575.6 1401.9,576.4 1402.4,575.7 1402.9,576.1 1403.4,575.9 1403.8,576.2 1404.3,575.5 1404.8,576.5 1405.3,576.3 1405.8,576 1406.3,575.7 1406.7,576.3 1407.2,575.7 1407.7,575.5 1408.2,576.2 1408.7,576.7 1409.2,539.1 1409.6,387.6 1410.1,303.4 1410.6,286.4 1411.1,286 1411.6,285.9 1412.1,285.2 1412.5,285 1413,284.1 1413.5,283.7 1414,283 1414.5,282.9 1415,282.2 1415.4,281.7 1415.9,281.2 1416.4,280.9 1416.9,281.1 1417.4,279.9 1417.9,279.9 1418.3,278.8 1418.8,281.2 1419.3,286.9 1419.8,315.3 1420.3,395.1 1420.8,458.9 1421.2,503.7 1421.7,549.2 1422.2,554.9 1422.7,561.7 1423.2,568.4 1423.7,574.8 1424.2,575.1 1424.6,575.7 1425.1,575.2 1425.6,575.9 1426.1,576.7 1426.6,576.2 1427.1,576.4 1427.5,576.1 1428,576.3 1428.5,576.7 1429,576.3 1429.5,576.1 1430,576.4 1430.4,576.4 1430.9,576.8 1431.4,576.6 1431.9,576.4 1432.4,576.1 1432.9,576.6 1433.3,576.5 1433.8,575.7 1434.3,576.7 1434.8,576.5 1435.3,576.7 1435.8,576.4 1436.2,576.1 1436.7,576.1 1437.2,576.3 1437.7,576 1438.2,576.4 1438.7,576.2 1439.1,576.7 1439.6,576.1 1440.1,576.6 1440.6,576 1441.1,576.7 1441.6,576.3 1442,576.3 1442.5,576.3 1443,573.5 1443.5,564 1444,544.4 1444.5,442.7 1444.9,280.8 1445.4,269.9 1445.9,260.2 1446.4,257.3 1446.9,255.9 1447.4,254.3 1447.8,251.3 1448.3,249.8 1448.8,248.6 1449.3,246.1 1449.8,245.1 1450.3,243.3 1450.7,241.7 1451.2,240.3 1451.7,239.3 1452.2,238.9 1452.7,237.3 1453.2,236.9 1453.6,236.1 1454.1,235.8 1454.6,234.8 1455.1,237.6 1455.6,249.6 1456.1,316.8 1456.5,384.4 1457,446.7 1457.5,508.2 1458,524.6 1458.5,540.5 1459,556.7 1459.4,566.3 1459.9,568.4 1460.4,570 1460.9,572.2 1461.4,574.8 1461.9,574.5 1462.3,575.5 1462.8,576.1 1463.3,577 1463.8,577.2 1464.3,577.5 1464.8,578 1465.2,577.8 1465.7,578 1466.2,578.7 1466.7,578.5 1467.2,578.6 1467.7,578.8 1468.1,578.8 1468.6,579 1469.1,579 1469.6,578.8 1470.1,578.7 1470.6,578.5 1471,579.2 1471.5,579.2 1472,580.1 1472.5,579.2 1473,579 1473.5,579.3 1474,579.1 1474.4,579.4 1474.9,579.4 1475.4,579.6 1475.9,579.5 1476.4,579.7 1476.9,578.8 1477.3,578.9 1477.8,579.1 1478.3,579.2 1478.8,578.7 1479.3,579 1479.8,579.4 1480.2,579.1 1480.7,579.1 1481.2,579.1 1481.7,579.1 1482.2,579.7 1482.7,579.4 1483.1,579.8 1483.6,579.1 1484.1,579.3 1484.6,579.6 1485.1,578.5 1485.6,578.8 1486,579.4 1486.5,576 1487,567.5 1487.5,573.6 1488,579 1488.5,579.4 1488.9,579 1489.4,578.7 1489.9,578.9 1490.4,579.6 1490.9,579.1 1491.4,579 1491.8,579.2 1492.3,578.9 1492.8,579.4 1493.3,580 1493.8,578.8 1494.3,579.6 1494.7,579.3 1495.2,579.7 1495.7,579 1496.2,579.6 1496.7,579.2 1497.2,579.3 1497.6,578.8 1498.1,578.7 1498.6,579 1499.1,579 1499.6,579.2 1500.1,579.2 1500.5,579.6 1501,579.1 1501.5,579.9 1502,579 1502.5,579.3 1503,579.3 1503.4,579 1503.9,579.9 1504.4,579.6 1504.9,579.2 1505.4,579.5 1505.9,579.2 1506.3,579.4 1506.8,579.7 1507.3,579.2 1507.8,579.3 1508.3,579.2 1508.8,579.2 1509.2,578.8 1509.7,579.7 1510.2,579.6 1510.7,579 1511.2,579.7 1511.7,579.4 1512.1,579.1 1512.6,579.3 1513.1,579.3 1513.6,579.4 1514.1,580 1514.6,579.2 1515,579.2 1515.5,579.3 1516,579.6 1516.5,579.4 1517,579.2 1517.5,579.6 1517.9,579.6 1518.4,579.8 1518.9,579.3 1519.4,579.9 1519.9,579.6 1520.4,579.1 1520.9,580.1 1521.3,579.7 1521.8,579.2 1522.3,579.6 1522.8,578.2 1523.3,578 1523.8,572.1 1524.2,565.6 1524.7,560.4 1525.2,558.3 1525.7,556.7 1526.2,554.5 1526.7,554.2 1527.1,553.4 1527.6,552.7 1528.1,552.2 1528.6,552.1 1529.1,551.5 1529.6,551.9 1530,548.1 1530.5,539.5 1531,545.9 1531.5,550.9 1532,551.3 1532.5,551.4 1532.9,551.1 1533.4,552.3 1533.9,554.6 1534.4,556 1534.9,556.7 1535.4,558.4 1535.8,559.7 1536.3,560.4 1536.8,562.5 1537.3,563.8 1537.8,564.8 1538.3,566.2 1538.7,566.6 1539.2,567.4 1539.7,568 1540.2,568.6 1540.7,569.8 1541.2,570.1 1541.6,570.4 1542.1,570.9 1542.6,570.7 1543.1,571.3 1543.6,571.7 1544.1,572.2 1544.5,572.1 1545,572.5 1545.5,572.2 1546,572.1 1546.5,572.8 1547,573 1547.4,573.1 1547.9,572.9 1548.4,573.5 1548.9,573.2 1549.4,573.8 1549.9,574.5 1550.3,573.3 1550.8,573.6 1551.3,573.9 1551.8,573.8 1552.3,573.8 1552.8,573.3 1553.2,573.9 1553.7,573.7 1554.2,573.9 1554.7,574 1555.2,573.7 1555.7,573.7 1556.1,574 1556.6,573.1 1557.1,574.7 1557.6,573.3 1558.1,574.2 1558.6,574 1559,569.3 1559.5,564.9 1560,558.1 1560.5,552.2 1561,549.2 1561.5,548.3 1561.9,545.9 1562.4,544.9 1562.9,544.5 1563.4,543.7 1563.9,542.7 1564.4,542.2 1564.8,541.7 1565.3,540.7 1565.8,540.3 1566.3,540.1 1566.8,539.8 1567.3,539.2 1567.7,538.9 1568.2,538.5 1568.7,538.4 1569.2,538.8 1569.7,541.1 1570.2,544.3 1570.7,547.3 1571.1,550.2 1571.6,554.2 1572.1,556.1 1572.6,556.2 1573.1,557.7 1573.6,556.3 1574,549.2 1574.5,556.2 1575,563.5 1575.5,564 1576,565.8 1576.5,566.9 1576.9,568.6 1577.4,568.2 1577.9,569.1 1578.4,569.9 1578.9,570.1 1579.4,569.6 1579.8,570.8 1580.3,571.4 1580.8,570.6 1581.3,571.5 1581.8,571.4 1582.3,571 1582.7,571.4 1583.2,571.7 1583.7,571.6 1584.2,572 1584.7,572.4 1585.2,572.1 1585.6,572.2 1586.1,572.1 1586.6,572.1 1587.1,572 1587.6,571.8 1588.1,572.4 1588.5,572.3 1589,572.1 1589.5,571.9 1590,572.4 1590.5,572.9 1591,572 1591.4,572.8 1591.9,572.5 1592.4,572.5 1592.9,572.2 1593.4,573 1593.9,571.7 1594.3,571.5 1594.8,563.8 1595.3,557 1595.8,548.8 1596.3,546.2 1596.8,542.9 1597.2,539.5 1597.7,539.2 1598.2,537 1598.7,537.1 1599.2,535.9 1599.7,535.2 1600.1,534.8 1600.6,534.6 1601.1,534.3 1601.6,533.4 1602.1,533.3 1602.6,533.5 1603,533 1603.5,532.2 1604,531.8 1604.5,536.5 1605,539.2 1605.5,543.5 1605.9,547.3 1606.4,551.7 1606.9,555.6 1607.4,559 1607.9,562.8 1608.4,563.8 1608.8,565.2 1609.3,566.1 1609.8,566.7 1610.3,567.7 1610.8,568.4 1611.3,568.4 1611.7,569.3 1612.2,569.2 1612.7,570.2 1613.2,570.5 1613.7,570.1 1614.2,570.9 1614.6,570.8 1615.1,570.7 1615.6,570.8 1616.1,571.5 1616.6,570.8 1617.1,568.3 1617.6,559.4 1618,565.9 1618.5,571.3 1619,571.6 1619.5,571.5 1620,571.8 1620.5,572.4 1620.9,572.4 1621.4,572.4 1621.9,572.5 1622.4,572.3 1622.9,573 1623.4,572.3 1623.8,572.1 1624.3,572.2 1624.8,572.5 1625.3,572.9 1625.8,571.9 1626.3,572.9 1626.7,572.9 1627.2,572.7 1627.7,573.3 1628.2,573.3 1628.7,572.9 1629.2,572.6 1629.6,573.1 1630.1,572.9 1630.6,572.8 1631.1,572.9 1631.6,573.3 1632.1,572.7 1632.5,573.1 1633,573.3 1633.5,573.4 1634,572.7 1634.5,573 1635,573.3 1635.4,572.7 1635.9,572.8 1636.4,573.1 1636.9,573.5 1637.4,573.1 1637.9,573 1638.3,573.4 1638.8,572.3 1639.3,573.1 1639.8,573.4 1640.3,573.6 1640.8,572.8 1641.2,573.2 1641.7,573.1 1642.2,573.4 1642.7,572.9 1643.2,573 1643.7,573.5 1644.1,573.3 1644.6,573.6 1645.1,573 1645.6,573.2 1646.1,572.9 1646.6,573 1647,572.9 1647.5,573.8 1648,573.4 1648.5,573.6 1649,573.7 1649.5,573.5 1649.9,572.9 1650.4,573 1650.9,572.8 1651.4,573.1 1651.9,573.1 1652.4,573.4 1652.8,573.4 1653.3,573.4 1653.8,573.5 1654.3,573.7 1654.8,573.3 1655.3,572.9 1655.7,573.6 1656.2,573.7 1656.7,573 1657.2,573.4 1657.7,573.9 1658.2,573.4 1658.6,574.1 1659.1,573.3 1659.6,573.5 1660.1,573.8 1660.6,570.3 1661.1,561.6 1661.5,567.6 1662,573.6 1662.5,573.2 1663,573.7 1663.5,573.3 1664,573.2 1664.4,573.1 1664.9,573.1 1665.4,573.8 1665.9,572.8 1666.4,572.9 1666.9,573.5 1667.4,573.4 1667.8,573.1 1668.3,574 1668.8,573.5 1669.3,573.3 1669.8,573.3 1670.3,573.3 1670.7,573.8 1671.2,573.2 1671.7,573.2 1672.2,573.4 1672.7,573.7 1673.2,573.8 1673.6,579.8 1674.1,585.8 1674.6,589.4 1675.1,592.4 1675.6,593 1676.1,593.1 1676.5,593.5 1677,593.9 1677.5,593.3 1678,593.8 1678.5,593.7 1679,593.1 1679.4,593.2 1679.9,593.7 1680.4,593.4 1680.9,593.3 1681.4,593.2 1681.9,593 1682.3,593.2 1682.8,594.1 1683.3,593.3 1683.8,593.5 1684.3,593.3 1684.8,592.2 1685.2,591.2 1685.7,588.4 1686.2,585 1686.7,582.7 1687.2,580.9 1687.7,579.4 1688.1,579.4 1688.6,579.4 1689.1,579.8 1689.6,579 1690.1,579.3 1690.6,579.1 1691,579.5 1691.5,579.1 1692,577.8 1692.5,578.8 1693,578.4 1693.5,578.3 1693.9,578.5 1694.4,578.8 1694.9,578.6 1695.4,578.4 1695.9,578.7 1696.4,579 1696.8,578.9 1697.3,578 1697.8,578.3 1698.3,578.3 1698.8,578.2 1699.3,578.4 1699.7,578.7 1700.2,577.7 1700.7,578.5 1701.2,578.3 1701.7,578.3 1702.2,577.9 1702.6,578.4 1703.1,578.8 1703.6,578.8 1704.1,575.6 1704.6,566.1 1705.1,572.5 1705.5,578.3 1706,578.3 1706.5,578 1707,578.1 1707.5,578.4 1708,578.6 1708.4,578.6 1708.9,583.5 1709.4,588.7 1709.9,591.4 1710.4,594.3 1710.9,594.3 1711.3,595.4 1711.8,594.7 1712.3,594.5 1712.8,595.1 1713.3,595.2 1713.8,594.3 1714.2,594.9 1714.7,594.9 1715.2,594.4 1715.7,594.7 1716.2,595.2 1716.7,594.8 1717.2,594.9 1717.6,594.6 1718.1,594.5 1718.6,595.5 1719.1,595.2 1719.6,594.5 1720.1,595 1720.5,594 1721,592.9 1721.5,590.9 1722,589.2 1722.5,586.9 1723,584.9 1723.4,584.1 1723.9,583.3 1724.4,582.4 1724.9,581.2 1725.4,580.8 1725.9,580.4 1726.3,580.4 1726.8,580.3 1727.3,580.5 1727.8,580.3 1728.3,580.2 1728.8,580.3 1729.2,580.2 1729.7,579.1 1730.2,579.7 1730.7,579.4 1731.2,579.6 1731.7,579.9 1732.1,579.2 1732.6,579.5 1733.1,579.6 1733.6,579.9 1734.1,579.5 1734.6,579.3 1735,579.2 1735.5,579.4 1736,579.5 1736.5,579.6 1737,579.3 1737.5,579.7 1737.9,579.4 1738.4,580.1 1738.9,578.9 1739.4,579.1 1739.9,579.4 1740.4,579.5 1740.8,579.1 1741.3,579.3 1741.8,579.5 1742.3,579.4 1742.8,579.4 1743.3,579.8 1743.7,580.5 1744.2,586.5 1744.7,591.1 1745.2,593.7 1745.7,596.6 1746.2,595.9 1746.6,596.7 1747.1,596.4 1747.6,593.4 1748.1,584.4 1748.6,591 1749.1,595.9 1749.5,596.2 1750,596.2 1750.5,596.2 1751,596.1 1751.5,596.4 1752,596 1752.4,596.2 1752.9,596.1 1753.4,596.3 1753.9,596.3 1754.4,596.3 1754.9,596.5 1755.3,596.2 1755.8,594.8 1756.3,594 1756.8,592.2 1757.3,589.9 1757.8,588.1 1758.2,587.3 1758.7,586.3 1759.2,585.4 1759.7,584.4 1760.2,584.8 1760.7,584.4 1761.1,584.6 1761.6,584.2 1762.1,584 1762.6,583.9 1763.1,584.7 1763.6,584.2 1764.1,584.4 1764.5,584 1765,583.9 1765.5,584.1 1766,584.1 1766.5,583.9 1767,583.6 1767.4,583.4 1767.9,583 1768.4,582.8 1768.9,583.6 1769.4,583.2 1769.9,583.3 1770.3,583.3 1770.8,583.6 1771.3,583 1771.8,583 1772.3,583.3 1772.8,583 1773.2,583.3 1773.7,583.8 1774.2,583.2 1774.7,583 1775.2,583.2 1775.7,582.8 1776.1,582.2 1776.6,582.7 1777.1,582.8 1777.6,583.1 1778.1,582.7 1778.6,582.7 1779,582.2 1779.5,582.7 1780,582.8 1780.5,582.7 1781,582 1781.5,582 1781.9,582.5 1782.4,581.4 1782.9,582.6 1783.4,582.5 1783.9,582 1784.4,582.3 1784.8,582.5 1785.3,582.5 1785.8,582.1 1786.3,582.1 1786.8,582.1 1787.3,582.4 1787.7,581.7 1788.2,582.2 1788.7,581.7 1789.2,581.3 1789.7,582.3 1790.2,582 1790.6,581.8 1791.1,578.6 1791.6,569.8 1792.1,576.7 1792.6,581.5 1793.1,581.7 1793.5,581.2 1794,581.7 1794.5,581.8 1795,581.7 1795.5,581.6 1796,581.3 1796.4,581.1 1796.9,581.7 1797.4,581.2 1797.9,581.7 1798.4,580.2 1798.9,581.1 1799.3,581.1 1799.8,581.3 1800.3,580.8 1800.8,580.5 1801.3,581.1 1801.8,580.9 1802.2,580.9 1802.7,580.7 1803.2,581 1803.7,580.6 1804.2,580.8 1804.7,580.2 1805.1,581 1805.6,580.6 1806.1,580.4 1806.6,580.2 1807.1,580.3 1807.6,580.5 1808,580.4 1808.5,580.1 1809,580.8 1809.5,580 1810,580.5 1810.5,579.9 1811,579.6 1811.4,580.4 1811.9,580.3 1812.4,580.1 1812.9,580.2 1813.4,579.7 1813.9,579.7 1814.3,580.4 1814.8,580.4 1815.3,580.1 1815.8,580.2 1816.3,579.8 1816.8,579.6 1817.2,580 1817.7,580.3 1818.2,580.1 1818.7,579.8 1819.2,579.9 1819.7,579.9 1820.1,580 1820.6,579.6 1821.1,579.8 1821.6,579.7 1822.1,579.4 1822.6,580.2 1823,579.7 1823.5,579.8 1824,579.9 1824.5,579.6 1825,579.9 1825.5,579.9 1825.9,578.8 1826.4,579 1826.9,579.3 1827.4,579.9 1827.9,579.7 1828.4,579.8 1828.8,579.6 1829.3,579.4 1829.8,579.3 1830.3,579.9 1830.8,579.1 1831.3,579.4 1831.7,579.1 1832.2,579.4 1832.7,579.1 1833.2,579.8 1833.7,579.1 1834.2,579.5 1834.6,576.5 1835.1,567.4 1835.6,574 1836.1,580.1 1836.6,578.8 1837.1,579.4 1837.5,579.2 1838,579.2 1838.5,579.3 1839,579.2 1839.5,579.1 1840,579.2 1840.4,579.5 1840.9,579.3 1841.4,578.6 1841.9,579 1842.4,579.1 1842.9,578.6 1843.3,579.2 1843.8,578.4 1844.3,578.8 1844.8,579 1845.3,579.2 1845.8,579.2 1846.2,579.2 1846.7,578.5 1847.2,578.3 1847.7,578.6 1848.2,579 1848.7,578.8 1849.1,579.5 1849.6,579.2 1850.1,579 1850.6,578.2 1851.1,578.7 1851.6,578.5 1852,578.6 1852.5,579.1 1853,578.8 1853.5,579 1854,579.2 1854.5,578.7 1854.9,578.7 1855.4,578.6 1855.9,578.5 1856.4,579 1856.9,579 1857.4,578.8 1857.8,578.8 1858.3,578.3 1858.8,578.6 1859.3,578.9 1859.8,578.5 1860.3,578.6 1860.8,578.9 1861.2,578.2 1861.7,579.2 1862.2,578.6 1862.7,578.3 1863.2,578.7 1863.7,578.5 1864.1,579.2 1864.6,578.6 1865.1,578.4 1865.6,578.8 1866.1,578.5 1866.6,578.6 1867,578.5 1867.5,578.4 1868,578.5 1868.5,578.3 1869,578.6 1869.5,578 1869.9,578.3 1870.4,578.8 1870.9,578.7 1871.4,578.2 1871.9,578 1872.4,578.6 1872.8,578.3 1873.3,578.6 1873.8,577.9 1874.3,578.2 1874.8,578.4 1875.3,577.9 1875.7,579.1 1876.2,578.2 1876.7,578.7 1877.2,578.2 1877.7,578.5 1878.2,575.7 1878.6,566.4 1879.1,573 1879.6,577.5 1880.1,578.3 1880.6,577.6 1881.1,577.9 1881.5,578.3 1882,578.7 1882.5,578 1883,578.1 1883.5,578.7 1884,577.5 1884.4,578.1 1884.9,578.2 1885.4,577.8 1885.9,577.8 1886.4,578 1886.9,578.1 1887.3,578 1887.8,578.8 1888.3,578.3 1888.8,578.2 1889.3,577.3 1889.8,578 1890.2,578.2 1890.7,578 1891.2,578.3 1891.7,577.9 1892.2,578.2 1892.7,578 1893.1,578 1893.6,578.1 1894.1,578.2 1894.6,578.4 1895.1,578.5 1895.6,578.2 1896,578.2 1896.5,578.2 1897,578.1 1897.5,578 1898,578.1 1898.5,578.1 1898.9,577.7 1899.4,577.6 1899.9,578.3 1900.4,578 1900.9,578 1901.4,578.4 1901.8,577.9 1902.3,578.2 1902.8,577.6 1903.3,578.4 1903.8,577.9 1904.3,578.4 1904.7,578.4 1905.2,577.9 1905.7,578 1906.2,577.7 1906.7,577.8 1907.2,578.6 1907.7,577.6 1908.1,578.4 1908.6,578.1 1909.1,578.3 1909.6,577.9 1910.1,578 1910.6,578 1911,577.3 1911.5,578.2 1912,578.2 1912.5,578.3 1913,577.5 1913.5,578.3 1913.9,578 1914.4,578.1 1914.9,578.1 1915.4,577.9 1915.9,578.4 1916.4,578.1 1916.8,577.8 1917.3,578.4 1917.8,577.8 1918.3,578.2 1918.8,577.7 1919.3,578 1919.7,578.2 1920.2,578.3 1920.7,577.4 1921.2,577.7 1921.7,575.2 1922.2,565.2 1922.6,572.8 1923.1,578.3 1923.6,577.6 1924.1,578 1924.6,577.6 1925.1,578.1 1925.5,577.6 1926,577.8 1926.5,577.8 1927,577.7 1927.5,578.2 1928,578.1 1928.4,577.9 1928.9,578 1929.4,577.9 1929.9,577.7 1930.4,578 1930.9,578.1 1931.3,577.6 1931.8,577 1932.3,577.6 1932.8,577.6 1933.3,578 1933.8,578.1 1934.2,577.6 1934.7,577.3 1935.2,577.9 1935.7,577.6 1936.2,577.9 1936.7,578.2 1937.1,578 1937.6,578.2 1938.1,577.8 1938.6,578 1939.1,577.3 1939.6,577.4 1940,577.9 1940.5,577.7 1941,577.9 1941.5,577.4 1942,577.1 1942.5,577.7 1942.9,578.1 1943.4,578.1 1943.9,577.9 1944.4,577.7 1944.9,577.8 1945.4,577.9 1945.8,577.8 1946.3,577.7 1946.8,577.9 1947.3,578.2 1947.8,577.9 1948.3,578.2 1948.7,577.9 1949.2,577.9 1949.7,577.6 1950.2,577.8 1950.7,578.1 1951.2,578.1 1951.6,577.3 1952.1,578.1 1952.6,577.6 1953.1,577.8 1953.6,577.8 1954.1,577.6 1954.5,577.9 1955,577.6 1955.5,577.8 1956,577.6 1956.5,577.8 1957,578 1957.5,577.7 1957.9,577.7 1958.4,577.8 1958.9,578.1 1959.4,577.5 1959.9,578.2 1960.4,577.8 1960.8,577.9 1961.3,577.4 1961.8,577.5 1962.3,577.3 1962.8,578.3 1963.3,577.7 1963.7,578.1 1964.2,577.5 1964.7,577 1965.2,574.9 1965.7,565.5 1966.2,573.1 1966.6,577.8 1967.1,577.4 1967.6,577.8 1968.1,577.8 1968.6,577.7 1969.1,577.4 1969.5,577.8 1970,577.8" fill="none" stroke="#0000ff" stroke-width="3.4" stroke-linejoin="round" />
<polyline points="1182.4,426.2 1182.9,430.4 1183.4,433.8 1183.9,438 1184.3,437.1 1184.8,437.5 1185.3,437.9 1185.8,437.8 1186.3,438 1186.8,438.9 1187.2,438.8 1187.7,438.7 1188.2,438.2 1188.7,438.3 1189.2,439.1 1189.7,439.1 1190.1,438.3 1190.6,438 1191.1,438.7 1191.6,439 1192.1,438.3 1192.6,438.9 1193,438.5 1193.5,438.2 1194,438.6 1194.5,438.9 1195,438.6 1195.5,439.2 1195.9,439 1196.4,439.2 1196.9,439.1 1197.4,439.3 1197.9,439.2 1198.4,439.3 1198.8,439.1 1199.3,439.1 1199.8,439.1 1200.3,438.6 1200.8,439.9 1201.3,438.7 1201.7,439.4 1202.2,439.8 1202.7,439.4 1203.2,439.4 1203.7,439 1204.2,439.9 1204.6,439.4 1205.1,439.5 1205.6,440.2 1206.1,440.1 1206.6,439.3 1207.1,439.3 1207.5,439.2 1208,439.5 1208.5,439.5 1209,439.7 1209.5,439.3 1210,440.1 1210.4,439.9 1210.9,439.7 1211.4,440.5 1211.9,439.4 1212.4,440.3 1212.9,440 1213.3,439.1 1213.8,440.4 1214.3,440.3 1214.8,439.4 1215.3,440.5 1215.8,440.3 1216.2,439.9 1216.7,440 1217.2,440 1217.7,440.1 1218.2,439.7 1218.7,439.9 1219.1,440.1 1219.6,440.6 1220.1,440.7 1220.6,441.2 1221.1,440.1 1221.6,441.2 1222,440.1 1222.5,439.8 1223,441 1223.5,440.9 1224,440.8 1224.5,440.3 1224.9,441 1225.4,440.7 1225.9,440.9 1226.4,440.9 1226.9,440.3 1227.4,441.3 1227.8,440.9 1228.3,440.9 1228.8,440.7 1229.3,441.6 1229.8,440.7 1230.3,441 1230.8,440.9 1231.2,441.3 1231.7,442 1232.2,441.7 1232.7,441.1 1233.2,441.5 1233.7,441.6 1234.1,440.9 1234.6,440.8 1235.1,441.8 1235.6,441 1236.1,442.7 1236.6,442.8 1237,441.6 1237.5,442.1 1238,441.8 1238.5,441.9 1239,442.2 1239.5,441.9 1239.9,442.2 1240.4,443 1240.9,442.3 1241.4,442.4 1241.9,441.7 1242.4,443 1242.8,442.6 1243.3,442.8 1243.8,442.8 1244.3,442.1 1244.8,442.7 1245.3,443.1 1245.7,442.9 1246.2,442.7 1246.7,443.5 1247.2,443.2 1247.7,442.5 1248.2,442.8 1248.6,443.3 1249.1,443.5 1249.6,443.4 1250.1,444 1250.6,443 1251.1,443.3 1251.5,443.5 1252,444.1 1252.5,443.9 1253,443.5 1253.5,443.6 1254,444 1254.4,443.6 1254.9,443.5 1255.4,444.2 1255.9,444.2 1256.4,444.4 1256.9,444.5 1257.3,443.8 1257.8,443.9 1258.3,444.1 1258.8,444.7 1259.3,444.7 1259.8,444.4 1260.2,444.6 1260.7,444.4 1261.2,444.8 1261.7,444.3 1262.2,443.8 1262.7,444 1263.1,444 1263.6,444.7 1264.1,444.4 1264.6,445 1265.1,444.5 1265.6,445.1 1266,445.2 1266.5,445.3 1267,444.8 1267.5,445 1268,445.1 1268.5,445.7 1268.9,445.2 1269.4,445.9 1269.9,444.7 1270.4,445.4 1270.9,445.4 1271.4,445.5 1271.8,446.2 1272.3,446.1 1272.8,445.6 1273.3,445.1 1273.8,446.2 1274.3,446.1 1274.7,445.8 1275.2,446.6 1275.7,446.6 1276.2,446.1 1276.7,446 1277.2,446.2 1277.6,445.5 1278.1,446.2 1278.6,446.1 1279.1,445.6 1279.6,445.6 1280.1,447 1280.6,446.5 1281,445.9 1281.5,447 1282,446.9 1282.5,447.1 1283,447.1 1283.5,447.1 1283.9,446.6 1284.4,446.2 1284.9,446.1 1285.4,446.8 1285.9,447.6 1286.4,446.9 1286.8,447 1287.3,446.8 1287.8,447 1288.3,447.7 1288.8,446.9 1289.3,447.9 1289.7,447.4 1290.2,447 1290.7,447 1291.2,446.6 1291.7,448.2 1292.2,447.2 1292.6,447.1 1293.1,447.5 1293.6,447.2 1294.1,447.9 1294.6,447.2 1295.1,447.3 1295.5,448 1296,447.9 1296.5,447.7 1297,448 1297.5,447.3 1298,447.7 1298.4,447.3 1298.9,447.4 1299.4,447.9 1299.9,448 1300.4,448.4 1300.9,448.4 1301.3,448.4 1301.8,448 1302.3,448.5 1302.8,448.2 1303.3,448.1 1303.8,448.5 1304.2,448.4 1304.7,447.7 1305.2,447.7 1305.7,448.7 1306.2,448.5 1306.7,448.7 1307.1,448.7 1307.6,447.9 1308.1,448.3 1308.6,448.1 1309.1,448 1309.6,448.9 1310,448.9 1310.5,448.8 1311,448.4 1311.5,448.9 1312,448.7 1312.5,448.5 1312.9,448.5 1313.4,448.9 1313.9,449.4 1314.4,449.7 1314.9,448.6 1315.4,341.3 1315.8,195.9 1316.3,80.7 1316.8,80.7 1317.3,81.2 1317.8,80.4 1318.3,80.9 1318.7,80.7 1319.2,80.2 1319.7,80.6 1320.2,80.3 1320.7,80.4 1321.2,80.5 1321.6,80.5 1322.1,79.8 1322.6,80.6 1323.1,79.9 1323.6,80.9 1324.1,80.2 1324.5,80.5 1325,80.8 1325.5,81.6 1326,79.9 1326.5,88.5 1327,125.7 1327.5,194.6 1327.9,264 1328.4,333.3 1328.9,402.8 1329.4,408.9 1329.9,413.4 1330.4,419.7 1330.8,420.9 1331.3,422.5 1331.8,423.9 1332.3,425.3 1332.8,425.6 1333.3,425.9 1333.7,426.8 1334.2,426.6 1334.7,427 1335.2,426.7 1335.7,425.9 1336.2,425.8 1336.6,424.7 1337.1,424.5 1337.6,425.6 1338.1,424.5 1338.6,424.6 1339.1,423.7 1339.5,423.7 1340,423.1 1340.5,423.2 1341,422.8 1341.5,423 1342,423.7 1342.4,423 1342.9,422.6 1343.4,422.3 1343.9,422.3 1344.4,421 1344.9,421.5 1345.3,420.7 1345.8,421.2 1346.3,420.2 1346.8,421.3 1347.3,420.5 1347.8,421.2 1348.2,420.4 1348.7,419.9 1349.2,421.1 1349.7,420.8 1350.2,420.2 1350.7,420.3 1351.1,420.8 1351.6,419.7 1352.1,420 1352.6,419.5 1353.1,419.8 1353.6,420.3 1354,420 1354.5,419.3 1355,420.5 1355.5,420.2 1356,419.9 1356.5,419.8 1356.9,420 1357.4,421 1357.9,419.6 1358.4,420.6 1358.9,420.6 1359.4,420.7 1359.8,420.9 1360.3,421.3 1360.8,421.1 1361.3,420.5 1361.8,421.7 1362.3,422.2 1362.7,421.1 1363.2,421.2 1363.7,421.2 1364.2,420.9 1364.7,422.1 1365.2,421.8 1365.6,421.9 1366.1,421.7 1366.6,421.9 1367.1,422.8 1367.6,423.2 1368.1,422.9 1368.5,423.6 1369,422.6 1369.5,423.3 1370,423.5 1370.5,423.8 1371,423 1371.4,423.6 1371.9,423.9 1372.4,423.5 1372.9,357.4 1373.4,290.7 1373.9,281.1 1374.3,272.5 1374.8,262.9 1375.3,261.6 1375.8,263.5 1376.3,265.8 1376.8,268.2 1377.3,270.3 1377.7,271.8 1378.2,274.2 1378.7,275.4 1379.2,277.5 1379.7,278.4 1380.2,280 1380.6,281.3 1381.1,282.5 1381.6,282.2 1382.1,283.3 1382.6,283.8 1383.1,286.4 1383.5,291 1384,323.4 1384.5,352.5 1385,384.2 1385.5,395 1386,406.4 1386.4,417.2 1386.9,427.3 1387.4,429.7 1387.9,431.5 1388.4,433.3 1388.9,435.6 1389.3,437.2 1389.8,437.3 1390.3,437.9 1390.8,438.4 1391.3,439.4 1391.8,439.9 1392.2,439.9 1392.7,439.9 1393.2,439.6 1393.7,440 1394.2,439.4 1394.7,440.8 1395.1,440.7 1395.6,440.1 1396.1,440.5 1396.6,440.9 1397.1,440.2 1397.6,440.2 1398,440.2 1398.5,441 1399,440.9 1399.5,440.9 1400,441 1400.5,440.5 1400.9,441.1 1401.4,440.8 1401.9,441.8 1402.4,440.5 1402.9,440.1 1403.4,440.8 1403.8,440.3 1404.3,441.4 1404.8,440.8 1405.3,441.3 1405.8,440.5 1406.3,440.4 1406.7,441.1 1407.2,440.9 1407.7,440.8 1408.2,434.8 1408.7,332.4 1409.2,270.4 1409.6,260.5 1410.1,261.3 1410.6,262.3 1411.1,263.6 1411.6,264.2 1412.1,264.1 1412.5,265.5 1413,266.7 1413.5,267.6 1414,266.7 1414.5,266.2 1415,266.1 1415.4,265.1 1415.9,265.3 1416.4,264.8 1416.9,264.1 1417.4,264.1 1417.9,263.4 1418.3,263.6 1418.8,263.4 1419.3,266.9 1419.8,280.5 1420.3,314.6 1420.8,349.4 1421.2,384.1 1421.7,398.7 1422.2,413.4 1422.7,426.6 1423.2,429.1 1423.7,432.2 1424.2,434.6 1424.6,438.2 1425.1,440.6 1425.6,442.3 1426.1,442.5 1426.6,442.8 1427.1,444.1 1427.5,444.2 1428,446.3 1428.5,446.2 1429,446.9 1429.5,447.4 1430,448.2 1430.4,447.6 1430.9,449 1431.4,447.9 1431.9,448.4 1432.4,448.3 1432.9,449.1 1433.3,449.7 1433.8,449.6 1434.3,449.8 1434.8,449.6 1435.3,450.2 1435.8,450.2 1436.2,450.2 1436.7,450 1437.2,451.5 1437.7,450.9 1438.2,450.6 1438.7,450.7 1439.1,451.3 1439.6,451.3 1440.1,451.3 1440.6,451.3 1441.1,451.7 1441.6,451.9 1442,452.2 1442.5,451.9 1443,451.2 1443.5,452.2 1444,351.1 1444.5,286.7 1444.9,259.8 1445.4,258.1 1445.9,258.2 1446.4,256.6 1446.9,256.5 1447.4,256.1 1447.8,254.6 1448.3,253.3 1448.8,253.8 1449.3,252.7 1449.8,252.8 1450.3,252.1 1450.7,251 1451.2,250.6 1451.7,250 1452.2,249.4 1452.7,250 1453.2,249.5 1453.6,248.9 1454.1,247.6 1454.6,255.9 1455.1,280.8 1455.6,321.8 1456.1,362.5 1456.5,384.3 1457,404.9 1457.5,425.5 1458,428.9 1458.5,432 1459,437.2 1459.4,441.1 1459.9,444 1460.4,445.2 1460.9,447.6 1461.4,448.3 1461.9,448.9 1462.3,450.8 1462.8,451.7 1463.3,453.1 1463.8,453.1 1464.3,453.4 1464.8,453.7 1465.2,453.5 1465.7,454.5 1466.2,454.4 1466.7,454.2 1467.2,455.1 1467.7,455.3 1468.1,455.6 1468.6,455.9 1469.1,454.9 1469.6,455.8 1470.1,455.4 1470.6,456.1 1471,456.6 1471.5,456.9 1472,456.9 1472.5,457.1 1473,456.8 1473.5,457.6 1474,457.2 1474.4,457.1 1474.9,457.5 1475.4,457.6 1475.9,457.3 1476.4,457.4 1476.9,457.7 1477.3,457.7 1477.8,458 1478.3,457.6 1478.8,457.9 1479.3,458.6 1479.8,458.3 1480.2,458.2 1480.7,458.5 1481.2,459.3 1481.7,458.8 1482.2,459.1 1482.7,459.3 1483.1,459.2 1483.6,460.2 1484.1,460 1484.6,460.6 1485.1,460.4 1485.6,460.5 1486,461 1486.5,461.2 1487,462 1487.5,461.5 1488,462.3 1488.5,460.9 1488.9,461.4 1489.4,462.5 1489.9,463 1490.4,461.4 1490.9,462.4 1491.4,461.8 1491.8,462.6 1492.3,462.1 1492.8,462.5 1493.3,462 1493.8,462.4 1494.3,461.7 1494.7,462.7 1495.2,461.9 1495.7,462.4 1496.2,462.3 1496.7,463.2 1497.2,463.3 1497.6,462.2 1498.1,463.1 1498.6,462.8 1499.1,462.8 1499.6,463.1 1500.1,462.7 1500.5,463.4 1501,463.4 1501.5,462.5 1502,463.3 1502.5,462.7 1503,462.8 1503.4,462.4 1503.9,462.9 1504.4,463.9 1504.9,463.5 1505.4,463.4 1505.9,462.8 1506.3,463.2 1506.8,463.5 1507.3,463.2 1507.8,463.5 1508.3,463.1 1508.8,463.3 1509.2,462.9 1509.7,463.3 1510.2,463 1510.7,463.5 1511.2,463.2 1511.7,463.6 1512.1,463.2 1512.6,463.4 1513.1,463.6 1513.6,463.7 1514.1,463.7 1514.6,463.4 1515,464.6 1515.5,463.1 1516,464.6 1516.5,463.8 1517,463.8 1517.5,463.4 1517.9,463.6 1518.4,463.8 1518.9,463.7 1519.4,463.4 1519.9,462.8 1520.4,463.7 1520.9,464.7 1521.3,464 1521.8,463.7 1522.3,462.5 1522.8,463.6 1523.3,462.9 1523.8,446.7 1524.2,430.9 1524.7,415.7 1525.2,409.6 1525.7,405.3 1526.2,399.7 1526.7,397.8 1527.1,397.6 1527.6,395.9 1528.1,393.8 1528.6,393.4 1529.1,392.5 1529.6,391.1 1530,389.3 1530.5,389.1 1531,387.5 1531.5,386.9 1532,385.8 1532.5,383.9 1532.9,383.6 1533.4,384.5 1533.9,386.6 1534.4,389.6 1534.9,396.2 1535.4,401.7 1535.8,408.3 1536.3,415.5 1536.8,418.4 1537.3,421.6 1537.8,425.5 1538.3,429 1538.7,433.3 1539.2,433.9 1539.7,435.8 1540.2,435.7 1540.7,437.4 1541.2,437.9 1541.6,438.5 1542.1,437.6 1542.6,438.4 1543.1,437.7 1543.6,437.1 1544.1,437 1544.5,436.9 1545,437.3 1545.5,435.8 1546,435.9 1546.5,435.4 1547,435.2 1547.4,435.6 1547.9,435 1548.4,433.8 1548.9,435 1549.4,434.3 1549.9,434.4 1550.3,433.2 1550.8,433.6 1551.3,433.9 1551.8,433.5 1552.3,433.6 1552.8,433.7 1553.2,433.7 1553.7,432.7 1554.2,432.7 1554.7,431.9 1555.2,432.2 1555.7,431.5 1556.1,430.7 1556.6,431.7 1557.1,431.6 1557.6,430.5 1558.1,429.7 1558.6,430 1559,415.2 1559.5,399.4 1560,384.3 1560.5,378.6 1561,374.2 1561.5,368.7 1561.9,363.5 1562.4,362.5 1562.9,361 1563.4,358.6 1563.9,357 1564.4,356 1564.8,353.4 1565.3,353.1 1565.8,352.8 1566.3,352.2 1566.8,351.7 1567.3,351 1567.7,350.4 1568.2,350.2 1568.7,353.5 1569.2,358.1 1569.7,363.8 1570.2,373 1570.7,381.3 1571.1,391.3 1571.6,399.3 1572.1,405.1 1572.6,410.5 1573.1,415.5 1573.6,419.3 1574,424.9 1574.5,427.1 1575,428 1575.5,429.2 1576,431.9 1576.5,433.1 1576.9,434.1 1577.4,435.8 1577.9,437 1578.4,436 1578.9,436.3 1579.4,436 1579.8,435.2 1580.3,435.8 1580.8,434.7 1581.3,435.5 1581.8,435.5 1582.3,435.2 1582.7,434.7 1583.2,434.5 1583.7,434.5 1584.2,435 1584.7,434.7 1585.2,434.1 1585.6,433.5 1586.1,433 1586.6,434.4 1587.1,433.2 1587.6,433.2 1588.1,432.8 1588.5,432.5 1589,432.8 1589.5,432.8 1590,431.6 1590.5,431.6 1591,431.9 1591.4,431.6 1591.9,431.7 1592.4,431.8 1592.9,430.8 1593.4,431.1 1593.9,431.2 1594.3,429.9 1594.8,410.3 1595.3,392.2 1595.8,373.7 1596.3,367.3 1596.8,360.5 1597.2,354 1597.7,348.4 1598.2,346.4 1598.7,345.1 1599.2,343.1 1599.7,341.7 1600.1,341 1600.6,338.1 1601.1,337.6 1601.6,337.6 1602.1,335.5 1602.6,335.1 1603,334.1 1603.5,333.5 1604,332.6 1604.5,336.6 1605,342.8 1605.5,348.2 1605.9,358.2 1606.4,368.6 1606.9,378.7 1607.4,389.3 1607.9,396.5 1608.4,401.4 1608.8,408.3 1609.3,414.7 1609.8,420.5 1610.3,422.7 1610.8,423.6 1611.3,425.9 1611.7,426.4 1612.2,429.1 1612.7,430.9 1613.2,432.7 1613.7,435.1 1614.2,435.1 1614.6,434.8 1615.1,434.4 1615.6,434.9 1616.1,433.7 1616.6,433 1617.1,433.5 1617.6,433.1 1618,432.7 1618.5,433.1 1619,432.7 1619.5,431.9 1620,432.1 1620.5,432.5 1620.9,432.5 1621.4,430.6 1621.9,431.2 1622.4,431.9 1622.9,431 1623.4,430.5 1623.8,430.6 1624.3,431.2 1624.8,429.5 1625.3,429.8 1625.8,430 1626.3,429.4 1626.7,429.6 1627.2,429.5 1627.7,428.8 1628.2,429.9 1628.7,428.5 1629.2,428.7 1629.6,428.5 1630.1,428.3 1630.6,428 1631.1,427.9 1631.6,428.1 1632.1,428.5 1632.5,428 1633,428.4 1633.5,428.5 1634,427.8 1634.5,427.8 1635,427.4 1635.4,428.7 1635.9,427.4 1636.4,427.3 1636.9,427.5 1637.4,427 1637.9,428.1 1638.3,427.7 1638.8,428 1639.3,428 1639.8,428.4 1640.3,428.2 1640.8,427.9 1641.2,428.2 1641.7,428.2 1642.2,428.7 1642.7,427.8 1643.2,428.8 1643.7,428.6 1644.1,428.4 1644.6,428.8 1645.1,428.5 1645.6,428.8 1646.1,428.2 1646.6,428.8 1647,428.9 1647.5,429.6 1648,429.2 1648.5,429 1649,429.4 1649.5,430.1 1649.9,430.1 1650.4,430 1650.9,430.1 1651.4,430.8 1651.9,429.5 1652.4,430.5 1652.8,430.5 1653.3,430.9 1653.8,430.8 1654.3,430.1 1654.8,431.4 1655.3,431.4 1655.7,431.7 1656.2,431.6 1656.7,430.9 1657.2,431.9 1657.7,432 1658.2,432.6 1658.6,432.2 1659.1,432 1659.6,432.5 1660.1,432.5 1660.6,432.2 1661.1,432.4 1661.5,432.8 1662,433.2 1662.5,433.6 1663,432.3 1663.5,433.8 1664,433 1664.4,433.4 1664.9,433.7 1665.4,433.2 1665.9,433.9 1666.4,433.2 1666.9,434.2 1667.4,433.7 1667.8,433.5 1668.3,434.5 1668.8,433.3 1669.3,434 1669.8,435.3 1670.3,433.9 1670.7,433.8 1671.2,434.8 1671.7,434.9 1672.2,435.3 1672.7,436.9 1673.2,436.7 1673.6,470.3 1674.1,516 1674.6,546.2 1675.1,556.4 1675.6,559.4 1676.1,560.6 1676.5,561.4 1677,561.3 1677.5,561.8 1678,562.8 1678.5,563.3 1679,563.6 1679.4,563 1679.9,564.1 1680.4,564 1680.9,563.4 1681.4,564 1681.9,564.3 1682.3,563.4 1682.8,563.4 1683.3,563.3 1683.8,562.7 1684.3,561.3 1684.8,557.4 1685.2,539.7 1685.7,518.1 1686.2,500.1 1686.7,490.8 1687.2,481.6 1687.7,476.5 1688.1,471.4 1688.6,467.7 1689.1,465.7 1689.6,464.5 1690.1,463 1690.6,460.6 1691,460.2 1691.5,458.4 1692,458.3 1692.5,457.6 1693,456.5 1693.5,456.7 1693.9,456.2 1694.4,455.9 1694.9,455.2 1695.4,454.7 1695.9,454.6 1696.4,454.3 1696.8,454.4 1697.3,453.9 1697.8,453.9 1698.3,453 1698.8,453.5 1699.3,452.9 1699.7,452.7 1700.2,452.3 1700.7,452.8 1701.2,452.5 1701.7,452.6 1702.2,452.7 1702.6,451.5 1703.1,451.7 1703.6,452.4 1704.1,452 1704.6,451.3 1705.1,451.6 1705.5,451.7 1706,450.6 1706.5,451.2 1707,451 1707.5,450.8 1708,451.6 1708.4,474.6 1708.9,514.8 1709.4,549 1709.9,562.7 1710.4,563.1 1710.9,564.7 1711.3,565.3 1711.8,567.2 1712.3,568.1 1712.8,568.8 1713.3,569.7 1713.8,569.9 1714.2,570.5 1714.7,570.8 1715.2,571.8 1715.7,572.8 1716.2,572.6 1716.7,573.7 1717.2,573.9 1717.6,574 1718.1,574.6 1718.6,575.9 1719.1,576.2 1719.6,574.8 1720.1,563.1 1720.5,530.4 1721,507.6 1721.5,500.8 1722,493.9 1722.5,490.3 1723,485.8 1723.4,484 1723.9,482 1724.4,480.1 1724.9,478.6 1725.4,477.1 1725.9,476.4 1726.3,474.7 1726.8,474 1727.3,473.9 1727.8,472.1 1728.3,471.6 1728.8,471.9 1729.2,471.1 1729.7,470.3 1730.2,470.8 1730.7,470.4 1731.2,470.1 1731.7,470.2 1732.1,469.7 1732.6,469.6 1733.1,469 1733.6,469 1734.1,467.9 1734.6,468.1 1735,467.4 1735.5,468 1736,467.2 1736.5,466.7 1737,466.4 1737.5,466.7 1737.9,466.2 1738.4,465.8 1738.9,465.7 1739.4,465.5 1739.9,464.8 1740.4,465.3 1740.8,465.3 1741.3,464.4 1741.8,463.8 1742.3,464.6 1742.8,462.9 1743.3,463.4 1743.7,463.4 1744.2,479 1744.7,516.1 1745.2,554.1 1745.7,569.6 1746.2,571.5 1746.6,573.1 1747.1,574.4 1747.6,575 1748.1,576.5 1748.6,577.3 1749.1,577.6 1749.5,577.8 1750,579.3 1750.5,579.3 1751,580 1751.5,580.7 1752,581.2 1752.4,581.2 1752.9,581.7 1753.4,582.9 1753.9,582.1 1754.4,582.9 1754.9,583.4 1755.3,584 1755.8,575.7 1756.3,550.8 1756.8,524.5 1757.3,517.7 1757.8,511.2 1758.2,507.7 1758.7,504.3 1759.2,501.4 1759.7,499.3 1760.2,496.8 1760.7,496.3 1761.1,493.9 1761.6,492.6 1762.1,491.5 1762.6,490.8 1763.1,490.9 1763.6,488.4 1764.1,488.1 1764.5,487.3 1765,487.4 1765.5,486.6 1766,485.2 1766.5,485.3 1767,484.7 1767.4,484.4 1767.9,483 1768.4,483.7 1768.9,482.6 1769.4,481.6 1769.9,481.3 1770.3,480.6 1770.8,480.5 1771.3,479.8 1771.8,480.1 1772.3,479.8 1772.8,479.3 1773.2,479.8 1773.7,478.2 1774.2,478.8 1774.7,477.6 1775.2,477.2 1775.7,477 1776.1,477 1776.6,477.1 1777.1,477.4 1777.6,475.9 1778.1,475.9 1778.6,474.8 1779,475.3 1779.5,474.8 1780,475.1 1780.5,474.6 1781,474.8 1781.5,474.6 1781.9,475.1 1782.4,474.5 1782.9,474.1 1783.4,473.4 1783.9,473.7 1784.4,474.2 1784.8,472.8 1785.3,473.2 1785.8,472.7 1786.3,473.5 1786.8,474.3 1787.3,473.1 1787.7,473.1 1788.2,472.4 1788.7,473 1789.2,472.6 1789.7,472.7 1790.2,472 1790.6,472.3 1791.1,471.3 1791.6,471.4 1792.1,471.3 1792.6,471.7 1793.1,471.4 1793.5,471.1 1794,471.7 1794.5,470.8 1795,471.2 1795.5,470.6 1796,470.1 1796.4,470.3 1796.9,471.4 1797.4,470.3 1797.9,470.9 1798.4,470.8 1798.9,470.7 1799.3,471 1799.8,470.3 1800.3,470.7 1800.8,469.8 1801.3,470.1 1801.8,471.2 1802.2,470.4 1802.7,470.4 1803.2,470.2 1803.7,470.1 1804.2,469.6 1804.7,469.7 1805.1,470 1805.6,469.3 1806.1,469.1 1806.6,469.4 1807.1,468.8 1807.6,469.1 1808,469.5 1808.5,469.4 1809,469.1 1809.5,468.9 1810,469 1810.5,468.6 1811,468.5 1811.4,469.3 1811.9,469.3 1812.4,468.8 1812.9,468.6 1813.4,468.3 1813.9,468.4 1814.3,468.3 1814.8,468.9 1815.3,468.3 1815.8,468.7 1816.3,468.2 1816.8,468 1817.2,468.6 1817.7,468.3 1818.2,467.2 1818.7,468.5 1819.2,468.3 1819.7,468.5 1820.1,468.6 1820.6,467.5 1821.1,468.1 1821.6,468 1822.1,467.9 1822.6,468.7 1823,467.1 1823.5,467.5 1824,467.2 1824.5,466.4 1825,467 1825.5,464.4 1825.9,462 1826.4,459.1 1826.9,458.8 1827.4,457.1 1827.9,456.4 1828.4,455.5 1828.8,455.3 1829.3,455.7 1829.8,454.7 1830.3,455.1 1830.8,454.7 1831.3,455.4 1831.7,454.8 1832.2,455.7 1832.7,455.3 1833.2,455.5 1833.7,457.1 1834.2,457.6 1834.6,459.1 1835.1,460.7 1835.6,460.9 1836.1,461.9 1836.6,462.7 1837.1,462.5 1837.5,462.9 1838,462.6 1838.5,462.6 1839,462.9 1839.5,462.9 1840,462.3 1840.4,462.6 1840.9,461.6 1841.4,461.7 1841.9,462.9 1842.4,462.5 1842.9,463.4 1843.3,462.9 1843.8,462.9 1844.3,462.9 1844.8,463.5 1845.3,462.4 1845.8,462.5 1846.2,462.9 1846.7,462.5 1847.2,462.1 1847.7,461.8 1848.2,463 1848.7,461.8 1849.1,463.2 1849.6,462.8 1850.1,462.6 1850.6,461.8 1851.1,462.2 1851.6,462.2 1852,461.7 1852.5,462.3 1853,462.6 1853.5,461.7 1854,462.4 1854.5,462.9 1854.9,463 1855.4,462.2 1855.9,461.5 1856.4,462 1856.9,462.2 1857.4,461.7 1857.8,462.9 1858.3,459.2 1858.8,456.8 1859.3,453.4 1859.8,451.7 1860.3,451 1860.8,451.3 1861.2,451.4 1861.7,451.1 1862.2,451.4 1862.7,450.8 1863.2,451.5 1863.7,452.3 1864.1,450.8 1864.6,450.8 1865.1,451.2 1865.6,450.8 1866.1,451.1 1866.6,453.4 1867,455.7 1867.5,457 1868,457.4 1868.5,457.9 1869,459.5 1869.5,460 1869.9,459 1870.4,459.9 1870.9,459.9 1871.4,460 1871.9,458.9 1872.4,459.3 1872.8,459.2 1873.3,458.9 1873.8,459.2 1874.3,459 1874.8,459.4 1875.3,459.2 1875.7,459.3 1876.2,459.2 1876.7,460 1877.2,459.6 1877.7,459.6 1878.2,459.7 1878.6,459.5 1879.1,458.7 1879.6,459 1880.1,459.4 1880.6,459.3 1881.1,458.8 1881.5,459.9 1882,459.2 1882.5,458.7 1883,458.6 1883.5,459 1884,459.1 1884.4,460.1 1884.9,459.6 1885.4,459.3 1885.9,459.1 1886.4,459.1 1886.9,460.2 1887.3,459.5 1887.8,459.1 1888.3,459.6 1888.8,459.3 1889.3,459 1889.8,459.1 1890.2,459.1 1890.7,458.9 1891.2,458.7 1891.7,459.3 1892.2,459.6 1892.7,459.4 1893.1,457.8 1893.6,456.1 1894.1,455.1 1894.6,453.8 1895.1,452.5 1895.6,450.8 1896,451.2 1896.5,451.4 1897,451 1897.5,451.3 1898,451.3 1898.5,450.9 1898.9,451.2 1899.4,451.3 1899.9,451.1 1900.4,451.6 1900.9,451.4 1901.4,452.3 1901.8,452.6 1902.3,452.8 1902.8,454.6 1903.3,455 1903.8,455.7 1904.3,456.5 1904.7,456.3 1905.2,456.5 1905.7,456.1 1906.2,456.9 1906.7,456.5 1907.2,456.6 1907.7,456.7 1908.1,456 1908.6,456.7 1909.1,456.7 1909.6,455.3 1910.1,456.4 1910.6,456.4 1911,456.1 1911.5,456.7 1912,456.1 1912.5,456.7 1913,456.4 1913.5,456.4 1913.9,455.6 1914.4,455.9 1914.9,455.4 1915.4,455.4 1915.9,456.4 1916.4,455.9 1916.8,456.3 1917.3,456.3 1917.8,455.5 1918.3,455.4 1918.8,455.9 1919.3,455.8 1919.7,455.8 1920.2,455.8 1920.7,455.8 1921.2,456.3 1921.7,455.6 1922.2,456.2 1922.6,456.3 1923.1,455.9 1923.6,455.7 1924.1,455.4 1924.6,455.6 1925.1,455.6 1925.5,456 1926,455.6 1926.5,455.6 1927,455.6 1927.5,456 1928,454.9 1928.4,455.3 1928.9,455.3 1929.4,455.6 1929.9,455.7 1930.4,455.2 1930.9,456.1 1931.3,455.7 1931.8,455.6 1932.3,455.3 1932.8,455.6 1933.3,454.9 1933.8,456.2 1934.2,454.9 1934.7,455.4 1935.2,455.1 1935.7,455.7 1936.2,455.1 1936.7,455.7 1937.1,455.4 1937.6,456.1 1938.1,455.3 1938.6,455.5 1939.1,456.3 1939.6,455.6 1940,455.7 1940.5,455.2 1941,455.8 1941.5,455.4 1942,455 1942.5,455.9 1942.9,454.7 1943.4,455.4 1943.9,455.6 1944.4,456.1 1944.9,456.3 1945.4,455.1 1945.8,455.7 1946.3,455.8 1946.8,455.1 1947.3,455.2 1947.8,455.5 1948.3,456.1 1948.7,456.3 1949.2,455.1 1949.7,455.5 1950.2,455.6 1950.7,454.7 1951.2,455.7 1951.6,455.4 1952.1,454.6 1952.6,455.3 1953.1,455.7 1953.6,455.9 1954.1,455 1954.5,456 1955,455.2 1955.5,454.8 1956,455.6 1956.5,455.2 1957,455.5 1957.5,454.9 1957.9,455.4 1958.4,455.8 1958.9,455.4 1959.4,455.4 1959.9,455.8 1960.4,455.6 1960.8,456 1961.3,455.9 1961.8,455.2 1962.3,456.3 1962.8,455.4 1963.3,455.5 1963.7,455.8 1964.2,454.9 1964.7,455.2 1965.2,455.8 1965.7,455.4 1966.2,455.1 1966.6,456.2 1967.1,455.4 1967.6,455.6 1968.1,455.3 1968.6,454.6 1969.1,455.8 1969.5,455.7 1970,456 1970.1,505.2" fill="none" stroke="#ff0000" stroke-width="3.4" stroke-linejoin="round" />
<line x1="1182.4" y1="73.7" x2="1182.4" y2="695.2" stroke="#262626" stroke-width="1.3" />
<line x1="1181.8" y1="694.6" x2="1970.6" y2="694.6" stroke="#262626" stroke-width="1.3" />
<line x1="1278.6" y1="694.6" x2="1278.6" y2="686.1" stroke="#262626" stroke-width="1.3" />
<text x="1278.6" y="732.3" font-size="24" text-anchor="middle" fill="#262626"  letter-spacing="0.35">200</text>
<line x1="1375.3" y1="694.6" x2="1375.3" y2="686.1" stroke="#262626" stroke-width="1.3" />
<text x="1375.3" y="732.3" font-size="24" text-anchor="middle" fill="#262626"  letter-spacing="0.35">400</text>
<line x1="1472" y1="694.6" x2="1472" y2="686.1" stroke="#262626" stroke-width="1.3" />
<text x="1472" y="732.3" font-size="24" text-anchor="middle" fill="#262626"  letter-spacing="0.35">600</text>
<line x1="1568.7" y1="694.6" x2="1568.7" y2="686.1" stroke="#262626" stroke-width="1.3" />
<text x="1568.7" y="732.3" font-size="24" text-anchor="middle" fill="#262626"  letter-spacing="0.35">800</text>
<line x1="1665.4" y1="694.6" x2="1665.4" y2="686.1" stroke="#262626" stroke-width="1.3" />
<text x="1665.4" y="732.3" font-size="24" text-anchor="middle" fill="#262626"  letter-spacing="0.35">1000</text>
<line x1="1762.1" y1="694.6" x2="1762.1" y2="686.1" stroke="#262626" stroke-width="1.3" />
<text x="1762.1" y="732.3" font-size="24" text-anchor="middle" fill="#262626"  letter-spacing="0.35">1200</text>
<line x1="1858.8" y1="694.6" x2="1858.8" y2="686.1" stroke="#262626" stroke-width="1.3" />
<text x="1858.8" y="732.3" font-size="24" text-anchor="middle" fill="#262626"  letter-spacing="0.35">1400</text>
<line x1="1955.5" y1="694.6" x2="1955.5" y2="686.1" stroke="#262626" stroke-width="1.3" />
<text x="1955.5" y="732.3" font-size="24" text-anchor="middle" fill="#262626"  letter-spacing="0.35">1600</text>
<line x1="1182.4" y1="694.6" x2="1190.9" y2="694.6" stroke="#262626" stroke-width="1.3" />
<text x="1171.2" y="704.8" font-size="24" text-anchor="end" fill="#262626" >0</text>
<line x1="1182.4" y1="591.1" x2="1190.9" y2="591.1" stroke="#262626" stroke-width="1.3" />
<text x="1171.2" y="601.3" font-size="24" text-anchor="end" fill="#262626" >1</text>
<line x1="1182.4" y1="487.6" x2="1190.9" y2="487.6" stroke="#262626" stroke-width="1.3" />
<text x="1171.2" y="497.8" font-size="24" text-anchor="end" fill="#262626" >2</text>
<line x1="1182.4" y1="384.1" x2="1190.9" y2="384.1" stroke="#262626" stroke-width="1.3" />
<text x="1171.2" y="394.3" font-size="24" text-anchor="end" fill="#262626" >3</text>
<line x1="1182.4" y1="280.6" x2="1190.9" y2="280.6" stroke="#262626" stroke-width="1.3" />
<text x="1171.2" y="290.8" font-size="24" text-anchor="end" fill="#262626" >4</text>
<line x1="1182.4" y1="177.1" x2="1190.9" y2="177.1" stroke="#262626" stroke-width="1.3" />
<text x="1171.2" y="187.3" font-size="24" text-anchor="end" fill="#262626" >5</text>
<line x1="1182.4" y1="73.6" x2="1190.9" y2="73.6" stroke="#262626" stroke-width="1.3" />
<text x="1171.2" y="83.8" font-size="24" text-anchor="end" fill="#262626" >6</text>
<text x="1183.8" y="65" font-size="24" fill="#262626"><tspan font-size="27" dy="2.5">×</tspan><tspan dy="-2.5" dx="3.2">10</tspan><tspan dy="-11.5" dx="0.5" font-size="19.2">-4</tspan></text>
<text x="1142.5" y="384.2" font-size="27" text-anchor="middle" fill="#262626" transform="rotate(-90 1142.5 384.2)"  letter-spacing="0.085">Prepro. data</text>
<text x="1580" y="772.6" font-size="27" text-anchor="middle" fill="#262626"  letter-spacing="0.085">Cycle number</text>
<text x="17.9" y="884.8" font-size="40" text-anchor="start" fill="#000"  letter-spacing="1.0">(c)</text>
<clipPath id="clipC"><rect x="126.5" y="874.6" width="788.3" height="622.1"/></clipPath>
<g clip-path="url(#clipC)">
<rect x="126.5" y="874.6" width="788.3" height="622.1" fill="#eef6d8" stroke="none" stroke-width="0" />
<polygon points="545,874.6 640,874.6 530,1120 528,1000" fill="#f1f8de" stroke="none" stroke-width="0" stroke-linejoin="round" />
<polygon points="536,1250 560,1250 690,1496.7 620,1496.7" fill="#f1f8de" stroke="none" stroke-width="0" stroke-linejoin="round" />
<polygon points="914.8,1280 914.8,1496.7 815,1496.7" fill="#f1f8de" stroke="none" stroke-width="0" stroke-linejoin="round" />
<polygon points="680,874.6 820,874.6 820,1496.7 680,1496.7" fill="#f0f7db" stroke="none" stroke-width="0" stroke-linejoin="round" />
<polygon points="126.5,874.6 537.9,873 535.3,905.3 532.7,957.6 531.5,1010 529.3,1069.9 527.4,1116.9 525.9,1136 526,1136 523,1134.2 457.7,1095.7 385.1,1055.8 352.2,1037.8 312.6,1013 301,1009.3 270.9,987.7 250,974.6 238.1,966.5 226.7,960.8 214.4,959.6 204,950 193.2,938.7 182.6,932.2 171.2,924.9 163,915.9 150,901.2 137,891 125.2,882 126.5,883" fill="#f7f7f7" stroke="none" stroke-width="0" stroke-linejoin="round" />
<polygon points="125.2,882 137,891 150,901.2 163,915.9 171.2,924.9 182.6,932.2 193.2,938.7 204,950 214.4,959.6 226.7,960.8 238.1,966.5 250,974.6 270.9,987.7 301,1009.3 312.6,1013 352.2,1037.8 385.1,1055.8 457.7,1095.7 523,1134.2 526,1136 526,1137 523,1135.6 486.7,1119.7 457.7,1106.6 414.2,1086.3 370.6,1068.1 341.6,1058.7 324.9,1052.9 327.1,1063.8 327.1,1063.8 298.1,1052.9 266.1,1035.5 250,1030.9 238.1,1024.4 226.7,1019.5 220.1,1020.3 215.3,1024.4 198.9,1021.1 190.8,1019.5 189.2,1021.1 182.6,1017 166.3,1010.5 150,1005.6 143.6,1003.9 125.2,994.4" fill="#f6eeff" stroke="none" stroke-width="0" stroke-linejoin="round" />
<polygon points="125.2,994.4 143.6,1003.9 150,1005.6 166.3,1010.5 182.6,1017 189.2,1021.1 190.8,1019.5 198.9,1021.1 215.3,1024.4 220.1,1020.3 226.7,1019.5 238.1,1024.4 250,1030.9 266.1,1035.5 298.1,1052.9 327.1,1063.8 354.7,1074.7 324.9,1052.9 341.6,1058.7 370.6,1068.1 414.2,1086.3 457.7,1106.6 486.7,1119.7 523,1135.6 526,1137 526.1,1179.6 525.3,1240 524.5,1275.9 524.4,1274 501.2,1272.6 460.6,1268.3 406.4,1262.9 365.8,1258.8 338.7,1260.1 311.6,1257.4 270.9,1256.4 249.3,1257.4 228,1261 205.9,1265 185,1266.6 162.6,1267.2 149,1265.8 137,1262.5 125.2,1258.3" fill="#fff6d9" stroke="none" stroke-width="0" stroke-linejoin="round" />
<polygon points="125.2,1258.3 137,1262.5 149,1265.8 162.6,1267.2 185,1266.6 205.9,1265 228,1261 249.3,1257.4 270.9,1256.4 311.6,1257.4 338.7,1260.1 365.8,1258.8 406.4,1262.9 460.6,1268.3 501.2,1272.6 524.4,1274 524.5,1275.9 527,1284 529.7,1335.5 535.1,1403.2 539.1,1457.4 542.7,1497.5 126.5,1498.7 126.5,1258" fill="#ffdcdc" stroke="none" stroke-width="0" stroke-linejoin="round" />
</g>
<line x1="126.5" y1="874.6" x2="126.5" y2="1496.7" stroke="#8c8c8c" stroke-width="1.1" />
<line x1="126.5" y1="1496.7" x2="914.8" y2="1496.7" stroke="#8c8c8c" stroke-width="1.1" />
<line x1="199.6" y1="1496.7" x2="199.6" y2="1491.7" stroke="#c8c8c8" stroke-width="1" />
<text x="199.6" y="1533.2" font-size="24" text-anchor="middle" fill="#262626"  letter-spacing="0.35">-20</text>
<line x1="328.4" y1="1496.7" x2="328.4" y2="1491.7" stroke="#c8c8c8" stroke-width="1" />
<text x="328.4" y="1533.2" font-size="24" text-anchor="middle" fill="#262626" >0</text>
<line x1="457.2" y1="1496.7" x2="457.2" y2="1491.7" stroke="#c8c8c8" stroke-width="1" />
<text x="457.2" y="1533.2" font-size="24" text-anchor="middle" fill="#262626"  letter-spacing="0.35">20</text>
<line x1="586" y1="1496.7" x2="586" y2="1491.7" stroke="#c8c8c8" stroke-width="1" />
<text x="586" y="1533.2" font-size="24" text-anchor="middle" fill="#262626"  letter-spacing="0.35">40</text>
<line x1="714.8" y1="1496.7" x2="714.8" y2="1491.7" stroke="#c8c8c8" stroke-width="1" />
<text x="714.8" y="1533.2" font-size="24" text-anchor="middle" fill="#262626"  letter-spacing="0.35">60</text>
<line x1="843.6" y1="1496.7" x2="843.6" y2="1491.7" stroke="#c8c8c8" stroke-width="1" />
<text x="843.6" y="1533.2" font-size="24" text-anchor="middle" fill="#262626"  letter-spacing="0.35">80</text>
<line x1="127.5" y1="1435.5" x2="131.5" y2="1435.5" stroke="#d0d0d8" stroke-width="1" />
<text x="116.2" y="1445.1" font-size="24" text-anchor="end" fill="#262626"  letter-spacing="0.35">-20</text>
<line x1="127.5" y1="1353.4" x2="131.5" y2="1353.4" stroke="#d0d0d8" stroke-width="1" />
<text x="116.2" y="1363" font-size="24" text-anchor="end" fill="#262626"  letter-spacing="0.35">-15</text>
<line x1="127.5" y1="1271.2" x2="131.5" y2="1271.2" stroke="#d0d0d8" stroke-width="1" />
<text x="116.2" y="1280.8" font-size="24" text-anchor="end" fill="#262626"  letter-spacing="0.35">-10</text>
<line x1="127.5" y1="1189.1" x2="131.5" y2="1189.1" stroke="#d0d0d8" stroke-width="1" />
<text x="116.2" y="1198.7" font-size="24" text-anchor="end" fill="#262626"  letter-spacing="0.35">-5</text>
<line x1="127.5" y1="1106.9" x2="131.5" y2="1106.9" stroke="#d0d0d8" stroke-width="1" />
<text x="116.2" y="1116.5" font-size="24" text-anchor="end" fill="#262626" >0</text>
<line x1="127.5" y1="1024.8" x2="131.5" y2="1024.8" stroke="#d0d0d8" stroke-width="1" />
<text x="116.2" y="1034.3" font-size="24" text-anchor="end" fill="#262626" >5</text>
<line x1="127.5" y1="942.6" x2="131.5" y2="942.6" stroke="#d0d0d8" stroke-width="1" />
<text x="116.2" y="952.2" font-size="24" text-anchor="end" fill="#262626"  letter-spacing="0.35">10</text>
<polyline points="125.2,882 137,891 150,901.2 163,915.9 171.2,924.9 182.6,932.2 193.2,938.7 204,950 214.4,959.6 226.7,960.8 238.1,966.5 250,974.6 270.9,987.7 301,1009.3 312.6,1013 352.2,1037.8 385.1,1055.8 457.7,1095.7 523,1134.2 526,1136" fill="none" stroke="#000000" stroke-width="3.8" stroke-linejoin="round" stroke-linecap="round"/>
<polyline points="125.2,994.4 143.6,1003.9 150,1005.6 166.3,1010.5 182.6,1017 189.2,1021.1 190.8,1019.5 198.9,1021.1 215.3,1024.4 220.1,1020.3 226.7,1019.5 238.1,1024.4 250,1030.9 266.1,1035.5 298.1,1052.9 327.1,1063.8 354.7,1074.7" fill="none" stroke="#000000" stroke-width="3.8" stroke-linejoin="round" stroke-linecap="round"/>
<polyline points="324.9,1052.9 341.6,1058.7 370.6,1068.1 414.2,1086.3 457.7,1106.6 486.7,1119.7 523,1135.6 526,1137" fill="none" stroke="#000000" stroke-width="3.8" stroke-linejoin="round" stroke-linecap="round"/>
<polyline points="125.2,1258.3 137,1262.5 149,1265.8 162.6,1267.2 185,1266.6 205.9,1265 228,1261 249.3,1257.4 270.9,1256.4 311.6,1257.4 338.7,1260.1 365.8,1258.8 406.4,1262.9 460.6,1268.3 501.2,1272.6 524.4,1274" fill="none" stroke="#000000" stroke-width="3.4" stroke-linejoin="round" stroke-linecap="round"/>
<polyline points="537.9,873 535.3,905.3 532.7,957.6 531.5,1010 529.3,1069.9 527.4,1116.9 525.9,1136 526.1,1179.6 525.3,1240 524.5,1275.9 527,1284 529.7,1335.5 535.1,1403.2 539.1,1457.4 542.7,1497.5" fill="none" stroke="#000000" stroke-width="4.6" stroke-linejoin="round" stroke-linecap="round"/>
<polyline points="354.7,1074.7 324.9,1052.9" fill="none" stroke="#000000" stroke-width="4.8" stroke-linejoin="round" stroke-linecap="round"/>
<circle cx="191.6" cy="950.1" r="7.0" fill="#cc99ff"/>
<circle cx="194.9" cy="956.7" r="7.0" fill="#cc99ff"/>
<circle cx="198.9" cy="961.6" r="7.0" fill="#cc99ff"/>
<circle cx="203.8" cy="966.5" r="7.0" fill="#cc99ff"/>
<circle cx="205.5" cy="970.5" r="7.0" fill="#cc99ff"/>
<circle cx="192.4" cy="973" r="7.0" fill="#cc99ff"/>
<circle cx="198.1" cy="976.2" r="7.0" fill="#cc99ff"/>
<circle cx="203.8" cy="979.5" r="7.0" fill="#cc99ff"/>
<circle cx="193.2" cy="984.4" r="7.0" fill="#cc99ff"/>
<circle cx="198.9" cy="986.9" r="7.0" fill="#cc99ff"/>
<circle cx="203.8" cy="988.5" r="7.0" fill="#cc99ff"/>
<circle cx="195.7" cy="994.2" r="7.0" fill="#cc99ff"/>
<circle cx="201.4" cy="995" r="7.0" fill="#cc99ff"/>
<circle cx="198.9" cy="999.9" r="7.0" fill="#cc99ff"/>
<circle cx="192.7" cy="961.6" r="7.0" fill="#cc99ff"/>
<circle cx="193.7" cy="967.3" r="7.0" fill="#cc99ff"/>
<circle cx="194" cy="978.7" r="7.0" fill="#cc99ff"/>
<circle cx="198.9" cy="968.9" r="7.0" fill="#cc99ff"/>
<circle cx="202.2" cy="974.6" r="7.0" fill="#cc99ff"/>
<circle cx="198.9" cy="981.1" r="7.0" fill="#cc99ff"/>
<circle cx="197.3" cy="988.5" r="7.0" fill="#cc99ff"/>
<circle cx="203" cy="984.4" r="7.0" fill="#cc99ff"/>
<circle cx="196.5" cy="902.8" r="7.0" fill="#bbbbbb"/>
<circle cx="198.9" cy="908.5" r="7.0" fill="#bbbbbb"/>
<circle cx="201.4" cy="914.3" r="7.0" fill="#bbbbbb"/>
<circle cx="210.4" cy="920" r="7.0" fill="#bbbbbb"/>
<circle cx="199.8" cy="920.8" r="7.0" fill="#bbbbbb"/>
<circle cx="203.8" cy="926.5" r="7.0" fill="#bbbbbb"/>
<circle cx="198.9" cy="930.6" r="7.0" fill="#bbbbbb"/>
<circle cx="206.3" cy="933.8" r="7.0" fill="#bbbbbb"/>
<circle cx="207.9" cy="937.9" r="7.0" fill="#bbbbbb"/>
<circle cx="202.2" cy="942" r="7.0" fill="#bbbbbb"/>
<circle cx="200.6" cy="948.5" r="7.0" fill="#bbbbbb"/>
<circle cx="203.8" cy="953.4" r="7.0" fill="#bbbbbb"/>
<circle cx="207.9" cy="956.7" r="7.0" fill="#bbbbbb"/>
<circle cx="203.8" cy="920.8" r="7.0" fill="#bbbbbb"/>
<circle cx="202.2" cy="933.8" r="7.0" fill="#bbbbbb"/>
<circle cx="204.6" cy="945.3" r="7.0" fill="#bbbbbb"/>
<circle cx="201.4" cy="1041.5" r="7.0" fill="#ffcc00"/>
<circle cx="197.3" cy="1045.6" r="7.0" fill="#ffcc00"/>
<circle cx="188.3" cy="1047.2" r="7.0" fill="#ffcc00"/>
<circle cx="192.4" cy="1049.7" r="7.0" fill="#ffcc00"/>
<circle cx="199.8" cy="1051.3" r="7.0" fill="#ffcc00"/>
<circle cx="195.7" cy="1056.2" r="7.0" fill="#ffcc00"/>
<circle cx="190.8" cy="1057.8" r="7.0" fill="#ffcc00"/>
<circle cx="206.3" cy="1063.5" r="7.0" fill="#ffcc00"/>
<circle cx="194" cy="1062.7" r="7.0" fill="#ffcc00"/>
<circle cx="188.3" cy="1066" r="7.0" fill="#ffcc00"/>
<circle cx="185.1" cy="1070" r="7.0" fill="#ffcc00"/>
<circle cx="194" cy="1070" r="7.0" fill="#ffcc00"/>
<circle cx="190.8" cy="1075.8" r="7.0" fill="#ffcc00"/>
<circle cx="184.3" cy="1079.8" r="7.0" fill="#ffcc00"/>
<circle cx="194" cy="1081.5" r="7.0" fill="#ffcc00"/>
<circle cx="183.4" cy="1093.7" r="7.0" fill="#ffcc00"/>
<circle cx="188.3" cy="1097.8" r="7.0" fill="#ffcc00"/>
<circle cx="186.7" cy="1104.3" r="7.0" fill="#ffcc00"/>
<circle cx="178.5" cy="1110" r="7.0" fill="#ffcc00"/>
<circle cx="182.6" cy="1107.6" r="7.0" fill="#ffcc00"/>
<circle cx="188.8" cy="1124.2" r="7.0" fill="#ffcc00"/>
<circle cx="178.4" cy="1467.5" r="7.0" fill="#ff0000"/>
<circle cx="165.4" cy="1453.1" r="7.0" fill="#ff0000"/>
<circle cx="161.8" cy="1437.6" r="7.0" fill="#ff0000"/>
<circle cx="162.6" cy="1442.9" r="7.0" fill="#ff0000"/>
<circle cx="179.5" cy="1420.6" r="7.0" fill="#ff0000"/>
<circle cx="192.5" cy="1424.3" r="7.0" fill="#ff0000"/>
<circle cx="198.2" cy="1429.4" r="7.0" fill="#ff0000"/>
<circle cx="178.4" cy="1429.4" r="7.0" fill="#ff0000"/>
<circle cx="197.1" cy="1435" r="7.0" fill="#ff0000"/>
<circle cx="193.1" cy="1439.5" r="7.0" fill="#ff0000"/>
<circle cx="188" cy="1442.9" r="7.0" fill="#ff0000"/>
<circle cx="179.5" cy="1441.8" r="7.0" fill="#ff0000"/>
<circle cx="173.9" cy="1440.7" r="7.0" fill="#ff0000"/>
<circle cx="185.2" cy="1431.6" r="7.0" fill="#ff0000"/>
<circle cx="185.2" cy="1425.4" r="7.0" fill="#ff0000"/>
<circle cx="169.4" cy="1441.2" r="7.0" fill="#ff0000"/>
<circle cx="856.6" cy="1069.9" r="7.0" fill="#99cc00"/>
<circle cx="847.4" cy="1081.6" r="7.0" fill="#99cc00"/>
<circle cx="865.2" cy="1082.4" r="7.0" fill="#99cc00"/>
<circle cx="854" cy="1090.8" r="7.0" fill="#99cc00"/>
<circle cx="861.8" cy="1097.3" r="7.0" fill="#99cc00"/>
<circle cx="852.7" cy="1103.8" r="7.0" fill="#99cc00"/>
<circle cx="860.5" cy="1109.1" r="7.0" fill="#99cc00"/>
<circle cx="852.7" cy="1117.4" r="7.0" fill="#99cc00"/>
<circle cx="868.3" cy="1119.5" r="7.0" fill="#99cc00"/>
<circle cx="861.8" cy="1124.7" r="7.0" fill="#99cc00"/>
<circle cx="855.3" cy="1131.3" r="7.0" fill="#99cc00"/>
<circle cx="872.3" cy="1130" r="7.0" fill="#99cc00"/>
<circle cx="877.5" cy="1134.7" r="7.0" fill="#99cc00"/>
<circle cx="859.2" cy="1140.4" r="7.0" fill="#99cc00"/>
<circle cx="873.6" cy="1137.8" r="7.0" fill="#99cc00"/>
<circle cx="875.4" cy="1155.3" r="7.0" fill="#99cc00"/>
<circle cx="873" cy="1181.4" r="7.0" fill="#99cc00"/>
<rect x="771.7" y="898.8" width="119.6" height="165.3" fill="#ffffff" stroke="#262626" stroke-width="1.2" />
<circle cx="805.1" cy="917.1" r="6.8" fill="#cc99ff"/>
<text x="838.2" y="924.9" font-size="21.6" text-anchor="start" fill="#000" >CH4</text>
<circle cx="805.1" cy="948.9" r="6.8" fill="#99cc00"/>
<text x="838.2" y="956.7" font-size="21.6" text-anchor="start" fill="#000" >CO</text>
<circle cx="805.1" cy="980.7" r="6.8" fill="#ffcc00"/>
<text x="838.2" y="988.5" font-size="21.6" text-anchor="start" fill="#000" >NH3</text>
<circle cx="805.1" cy="1012.5" r="6.8" fill="#ff0000"/>
<text x="838.2" y="1020.3" font-size="21.6" text-anchor="start" fill="#000" >NO2</text>
<circle cx="805.1" cy="1044.3" r="6.8" fill="#bbbbbb"/>
<text x="838.2" y="1052.1" font-size="21.6" text-anchor="start" fill="#000" >Air</text>
<text x="66.5" y="1166" font-size="27" text-anchor="middle" fill="#262626" transform="rotate(-90 66.5 1166)"  letter-spacing="0.085">Second discriminant function</text>
<text x="526.7" y="1573.7" font-size="27" text-anchor="middle" fill="#262626"  letter-spacing="0.085">First discriminant function</text>
<text x="1079.7" y="886.5" font-size="40" text-anchor="start" fill="#000"  letter-spacing="1.0">(d)</text>
<line x1="1178.5" y1="1288.3" x2="1178.5" y2="1075.5" stroke="#dfdfdf" stroke-width="1.1" />
<line x1="1212.5" y1="1273" x2="1212.5" y2="1060.2" stroke="#dfdfdf" stroke-width="1.1" />
<line x1="1246.5" y1="1257.8" x2="1246.5" y2="1045" stroke="#dfdfdf" stroke-width="1.1" />
<line x1="1280.5" y1="1242.5" x2="1280.5" y2="1029.7" stroke="#dfdfdf" stroke-width="1.1" />
<line x1="1314.5" y1="1227.3" x2="1314.5" y2="1014.5" stroke="#dfdfdf" stroke-width="1.1" />
<line x1="1348.5" y1="1212" x2="1348.5" y2="999.2" stroke="#dfdfdf" stroke-width="1.1" />
<line x1="1382.5" y1="1196.8" x2="1382.5" y2="984" stroke="#dfdfdf" stroke-width="1.1" />
<line x1="1416.5" y1="1181.5" x2="1416.5" y2="968.7" stroke="#dfdfdf" stroke-width="1.1" />
<line x1="1450.5" y1="1166.3" x2="1450.5" y2="953.5" stroke="#dfdfdf" stroke-width="1.1" />
<line x1="1484.5" y1="1151" x2="1484.5" y2="938.2" stroke="#dfdfdf" stroke-width="1.1" />
<line x1="1518.5" y1="1135.8" x2="1518.5" y2="923" stroke="#dfdfdf" stroke-width="1.1" />
<line x1="1600.8" y1="1098.9" x2="1600.8" y2="886.1" stroke="#dfdfdf" stroke-width="1.1" />
<line x1="1178.5" y1="1288.3" x2="1600.8" y2="1098.9" stroke="#dfdfdf" stroke-width="1.1" />
<line x1="1600.8" y1="1098.9" x2="1965.8" y2="1319.3" stroke="#dfdfdf" stroke-width="1.1" />
<line x1="1178.5" y1="1217.4" x2="1600.8" y2="1028" stroke="#dfdfdf" stroke-width="1.1" />
<line x1="1600.8" y1="1028" x2="1965.8" y2="1248.4" stroke="#dfdfdf" stroke-width="1.1" />
<line x1="1178.5" y1="1146.4" x2="1600.8" y2="957" stroke="#dfdfdf" stroke-width="1.1" />
<line x1="1600.8" y1="957" x2="1965.8" y2="1177.4" stroke="#dfdfdf" stroke-width="1.1" />
<line x1="1178.5" y1="1075.5" x2="1600.8" y2="886.1" stroke="#dfdfdf" stroke-width="1.1" />
<line x1="1600.8" y1="886.1" x2="1965.8" y2="1106.5" stroke="#dfdfdf" stroke-width="1.1" />
<line x1="1600.8" y1="1098.9" x2="1600.8" y2="886.1" stroke="#dfdfdf" stroke-width="1.1" />
<line x1="1178.5" y1="1288.3" x2="1600.8" y2="1098.9" stroke="#dfdfdf" stroke-width="1.1" />
<line x1="1722.5" y1="1172.4" x2="1722.5" y2="959.5" stroke="#dfdfdf" stroke-width="1.1" />
<line x1="1300.2" y1="1361.8" x2="1722.5" y2="1172.4" stroke="#dfdfdf" stroke-width="1.1" />
<line x1="1844.1" y1="1245.8" x2="1844.1" y2="1033" stroke="#dfdfdf" stroke-width="1.1" />
<line x1="1421.8" y1="1435.2" x2="1844.1" y2="1245.8" stroke="#dfdfdf" stroke-width="1.1" />
<line x1="1965.8" y1="1319.3" x2="1965.8" y2="1106.5" stroke="#dfdfdf" stroke-width="1.1" />
<line x1="1543.5" y1="1508.7" x2="1965.8" y2="1319.3" stroke="#dfdfdf" stroke-width="1.1" />
<line x1="1178.5" y1="1288.3" x2="1543.5" y2="1508.7" stroke="#dfdfdf" stroke-width="1.1" />
<line x1="1212.5" y1="1273" x2="1577.5" y2="1493.5" stroke="#dfdfdf" stroke-width="1.1" />
<line x1="1246.5" y1="1257.8" x2="1611.5" y2="1478.2" stroke="#dfdfdf" stroke-width="1.1" />
<line x1="1280.5" y1="1242.5" x2="1645.5" y2="1463" stroke="#dfdfdf" stroke-width="1.1" />
<line x1="1314.5" y1="1227.3" x2="1679.5" y2="1447.7" stroke="#dfdfdf" stroke-width="1.1" />
<line x1="1348.5" y1="1212" x2="1713.5" y2="1432.5" stroke="#dfdfdf" stroke-width="1.1" />
<line x1="1382.5" y1="1196.8" x2="1747.5" y2="1417.2" stroke="#dfdfdf" stroke-width="1.1" />
<line x1="1416.5" y1="1181.5" x2="1781.5" y2="1402" stroke="#dfdfdf" stroke-width="1.1" />
<line x1="1450.5" y1="1166.3" x2="1815.5" y2="1386.7" stroke="#dfdfdf" stroke-width="1.1" />
<line x1="1484.5" y1="1151" x2="1849.5" y2="1371.5" stroke="#dfdfdf" stroke-width="1.1" />
<line x1="1518.5" y1="1135.8" x2="1883.5" y2="1356.2" stroke="#dfdfdf" stroke-width="1.1" />
<line x1="1178.5" y1="1288.3" x2="1178.5" y2="1075.5" stroke="#262626" stroke-width="1.3" />
<line x1="1178.5" y1="1288.3" x2="1543.5" y2="1508.7" stroke="#262626" stroke-width="1.3" />
<line x1="1543.5" y1="1508.7" x2="1965.8" y2="1319.3" stroke="#262626" stroke-width="1.3" />
<pattern id="dotp" width="3" height="3" patternUnits="userSpaceOnUse"><rect width="3" height="3" fill="#37309a"/><rect x="1" y="1" width="1" height="1" fill="#4f57d8"/></pattern>
<g stroke-linejoin="round">
<polygon points="1484.5,994.3 1518.5,979.4 1640.3,1053.1 1606.3,1067.7" fill="#f9fb0e" stroke="#000000" stroke-width="1.1" stroke-linejoin="round" />
<polygon points="1450.5,1043.9 1484.5,994.3 1606.3,1067.7 1572.3,1122.7" fill="#e1b952" stroke="#000000" stroke-width="1.1" stroke-linejoin="round" />
<polygon points="1416.5,1049.2 1450.5,1043.9 1572.3,1122.7 1538.3,1112.9" fill="#ffc337" stroke="#000000" stroke-width="1.1" stroke-linejoin="round" />
<polygon points="1382.5,1113.8 1416.5,1049.2 1538.3,1112.9 1504.3,1191.1" fill="#45bb97" stroke="#000000" stroke-width="1.1" stroke-linejoin="round" />
<polygon points="1348.5,1141.1 1382.5,1113.8 1504.3,1191.1 1470.3,1251.8" fill="#15b1b4" stroke="#000000" stroke-width="1.1" stroke-linejoin="round" />
<polygon points="1314.5,1157.1 1348.5,1141.1 1470.3,1251.8 1436.3,1270.9" fill="#15b1b4" stroke="#000000" stroke-width="1.1" stroke-linejoin="round" />
<polygon points="1280.5,1192.5 1314.5,1157.1 1436.3,1270.9 1402.3,1312.4" fill="#0998d1" stroke="#000000" stroke-width="1.1" stroke-linejoin="round" />
<polygon points="1246.5,1198.6 1280.5,1192.5 1402.3,1312.4 1368.3,1329.4" fill="#06a7c6" stroke="#000000" stroke-width="1.1" stroke-linejoin="round" />
<polygon points="1212.5,1218.8 1246.5,1198.6 1368.3,1329.4 1334.3,1344.7" fill="#06a0cd" stroke="#000000" stroke-width="1.1" stroke-linejoin="round" />
<polygon points="1178.5,1215.9 1212.5,1218.8 1334.3,1344.7 1300.3,1359" fill="#1db3af" stroke="#000000" stroke-width="1.1" stroke-linejoin="round" />
<polygon points="1606.3,1067.7 1640.3,1053.1 1762.1,1126.9 1728.1,1141.4" fill="#f9fb0e" stroke="#000000" stroke-width="1.1" stroke-linejoin="round" />
<polygon points="1572.3,1122.7 1606.3,1067.7 1728.1,1141.4 1694.1,1195.7" fill="#d1bb59" stroke="#000000" stroke-width="1.1" stroke-linejoin="round" />
<polygon points="1538.3,1112.9 1572.3,1122.7 1694.1,1195.7 1660.1,1195.7" fill="#fad32a" stroke="#000000" stroke-width="1.1" stroke-linejoin="round" />
<polygon points="1504.3,1191.1 1538.3,1112.9 1660.1,1195.7 1626.1,1268.4" fill="#2db7a3" stroke="#000000" stroke-width="1.1" stroke-linejoin="round" />
<polygon points="1470.3,1251.8 1504.3,1191.1 1626.1,1268.4 1592.1,1327.3" fill="#0d75dc" stroke="#000000" stroke-width="1.1" stroke-linejoin="round" />
<polygon points="1436.3,1270.9 1470.3,1251.8 1592.1,1327.3 1558.1,1344" fill="#0d75dc" stroke="#000000" stroke-width="1.1" stroke-linejoin="round" />
<polygon points="1402.3,1312.4 1436.3,1270.9 1558.1,1344 1524.1,1385.1" fill="url(#dotp)" stroke="#000000" stroke-width="1.1" stroke-linejoin="round" />
<polygon points="1368.3,1329.4 1402.3,1312.4 1524.1,1385.1 1490.1,1403.2" fill="#352a87" stroke="#000000" stroke-width="1.1" stroke-linejoin="round" />
<polygon points="1334.3,1344.7 1368.3,1329.4 1490.1,1403.2 1456.1,1418.5" fill="#352a87" stroke="#000000" stroke-width="1.1" stroke-linejoin="round" />
<polygon points="1300.3,1359 1334.3,1344.7 1456.1,1418.5 1422.1,1431.9" fill="#352a87" stroke="#000000" stroke-width="1.1" stroke-linejoin="round" />
<polygon points="1728.1,1141.4 1762.1,1126.9 1883.9,1200.3 1849.9,1215.2" fill="#f9fb0e" stroke="#000000" stroke-width="1.1" stroke-linejoin="round" />
<polygon points="1694.1,1195.7 1728.1,1141.4 1849.9,1215.2 1815.9,1270.2" fill="#d1bb59" stroke="#000000" stroke-width="1.1" stroke-linejoin="round" />
<polygon points="1660.1,1195.7 1694.1,1195.7 1815.9,1270.2 1781.9,1268.4" fill="#fdbe3d" stroke="#000000" stroke-width="1.1" stroke-linejoin="round" />
<polygon points="1626.1,1268.4 1660.1,1195.7 1781.9,1268.4 1747.9,1338.6" fill="#25b5a9" stroke="#000000" stroke-width="1.1" stroke-linejoin="round" />
<polygon points="1592.1,1327.3 1626.1,1268.4 1747.9,1338.6 1713.9,1399.3" fill="#0d75dc" stroke="#000000" stroke-width="1.1" stroke-linejoin="round" />
<polygon points="1558.1,1344 1592.1,1327.3 1713.9,1399.3 1679.9,1418.4" fill="#0d75dc" stroke="#000000" stroke-width="1.1" stroke-linejoin="round" />
<polygon points="1524.1,1385.1 1558.1,1344 1679.9,1418.4 1645.9,1457.8" fill="#363093" stroke="#000000" stroke-width="1.1" stroke-linejoin="round" />
<polygon points="1490.1,1403.2 1524.1,1385.1 1645.9,1457.8 1611.9,1475.9" fill="#352a87" stroke="#000000" stroke-width="1.1" stroke-linejoin="round" />
<polygon points="1456.1,1418.5 1490.1,1403.2 1611.9,1475.9 1577.9,1491.2" fill="#352a87" stroke="#000000" stroke-width="1.1" stroke-linejoin="round" />
<polygon points="1422.1,1431.9 1456.1,1418.5 1577.9,1491.2 1543.9,1505.7" fill="#352a87" stroke="#000000" stroke-width="1.1" stroke-linejoin="round" />
</g>
<line x1="1178.5" y1="1288.3" x2="1168" y2="1282.1" stroke="#262626" stroke-width="1.3" />
<text x="1150" y="1289.5" font-size="24" text-anchor="middle" fill="#262626" >0</text>
<line x1="1178.5" y1="1217.4" x2="1168" y2="1211.2" stroke="#262626" stroke-width="1.3" />
<text x="1150" y="1218.6" font-size="24" text-anchor="middle" fill="#262626" >2</text>
<line x1="1178.5" y1="1146.4" x2="1168" y2="1140.2" stroke="#262626" stroke-width="1.3" />
<text x="1150" y="1147.6" font-size="24" text-anchor="middle" fill="#262626" >4</text>
<line x1="1178.5" y1="1075.5" x2="1168" y2="1069.3" stroke="#262626" stroke-width="1.3" />
<text x="1150" y="1076.7" font-size="24" text-anchor="middle" fill="#262626" >6</text>
<line x1="1178.5" y1="1288.3" x2="1166.1" y2="1294.3" stroke="#262626" stroke-width="1.3" />
<text x="1150" y="1323.6" font-size="24" text-anchor="middle" fill="#262626" >1</text>
<line x1="1300.2" y1="1361.8" x2="1287.8" y2="1367.8" stroke="#262626" stroke-width="1.3" />
<text x="1271.4" y="1397.4" font-size="24" text-anchor="middle" fill="#262626" >2</text>
<line x1="1421.8" y1="1435.2" x2="1409.4" y2="1441.2" stroke="#262626" stroke-width="1.3" />
<text x="1392.8" y="1471.2" font-size="24" text-anchor="middle" fill="#262626" >3</text>
<line x1="1543.5" y1="1508.7" x2="1531.1" y2="1514.7" stroke="#262626" stroke-width="1.3" />
<text x="1514.2" y="1545" font-size="24" text-anchor="middle" fill="#262626" >4</text>
<line x1="1543.5" y1="1508.7" x2="1553.7" y2="1515" stroke="#262626" stroke-width="1.3" />
<text x="1561.2" y="1545.6" font-size="24" text-anchor="start" fill="#262626" >1</text>
<line x1="1577.5" y1="1493.5" x2="1587.7" y2="1499.8" stroke="#262626" stroke-width="1.3" />
<text x="1595.2" y="1530.3" font-size="24" text-anchor="start" fill="#262626"  letter-spacing="0.35">21</text>
<line x1="1611.5" y1="1478.2" x2="1621.7" y2="1484.5" stroke="#262626" stroke-width="1.3" />
<text x="1629.2" y="1515.1" font-size="24" text-anchor="start" fill="#262626"  letter-spacing="0.35">41</text>
<line x1="1645.5" y1="1463" x2="1655.7" y2="1469.3" stroke="#262626" stroke-width="1.3" />
<text x="1663.2" y="1499.8" font-size="24" text-anchor="start" fill="#262626"  letter-spacing="0.35">61</text>
<line x1="1679.5" y1="1447.7" x2="1689.7" y2="1454" stroke="#262626" stroke-width="1.3" />
<text x="1697.2" y="1484.6" font-size="24" text-anchor="start" fill="#262626"  letter-spacing="0.35">81</text>
<line x1="1713.5" y1="1432.5" x2="1723.7" y2="1438.8" stroke="#262626" stroke-width="1.3" />
<text x="1731.2" y="1469.3" font-size="24" text-anchor="start" fill="#262626"  letter-spacing="0.35">101</text>
<line x1="1747.5" y1="1417.2" x2="1757.7" y2="1423.5" stroke="#262626" stroke-width="1.3" />
<text x="1765.2" y="1454.1" font-size="24" text-anchor="start" fill="#262626"  letter-spacing="0.35">121</text>
<line x1="1781.5" y1="1402" x2="1791.7" y2="1408.3" stroke="#262626" stroke-width="1.3" />
<text x="1799.2" y="1438.8" font-size="24" text-anchor="start" fill="#262626"  letter-spacing="0.35">141</text>
<line x1="1815.5" y1="1386.7" x2="1825.7" y2="1393" stroke="#262626" stroke-width="1.3" />
<text x="1833.2" y="1423.6" font-size="24" text-anchor="start" fill="#262626"  letter-spacing="0.35">161</text>
<line x1="1849.5" y1="1371.5" x2="1859.7" y2="1377.8" stroke="#262626" stroke-width="1.3" />
<text x="1867.2" y="1408.3" font-size="24" text-anchor="start" fill="#262626"  letter-spacing="0.35">181</text>
<line x1="1883.5" y1="1356.2" x2="1893.7" y2="1362.5" stroke="#262626" stroke-width="1.3" />
<text x="1901.2" y="1393.1" font-size="24" text-anchor="start" fill="#262626"  letter-spacing="0.35">201</text>
<text x="1735.3" y="1534" font-size="27" text-anchor="middle" fill="#262626"  letter-spacing="0.085">k</text>
<text x="1356.8" y="1577.4" font-size="27" text-anchor="middle" fill="#262626"  letter-spacing="0.085">Discriminant functions</text>
<text x="1126.5" y="1183.5" font-size="27" text-anchor="middle" fill="#262626" transform="rotate(-90 1126.5 1183.5)"  letter-spacing="0.085">Error / %</text>
<rect x="1312.3" y="1240.2" width="115" height="107.4" fill="#fffff2" stroke="#d4d4d4" stroke-width="1" />
<text x="1320.5" y="1272" font-size="24" text-anchor="start" fill="#000" >X: 2</text>
<text x="1320.5" y="1303.4" font-size="24" text-anchor="start" fill="#000" >Y: 1</text>
<text x="1320.5" y="1334.8" font-size="24" text-anchor="start" fill="#000" >Z: 0.0554</text>
<rect x="1290" y="1349.3" width="20.9" height="20.9" fill="#fffff0" stroke="none" stroke-width="0" />
<rect x="1292.7" y="1352" width="15.5" height="15.5" fill="#ababab" stroke="none" stroke-width="0" />
</svg>
</body></html>
